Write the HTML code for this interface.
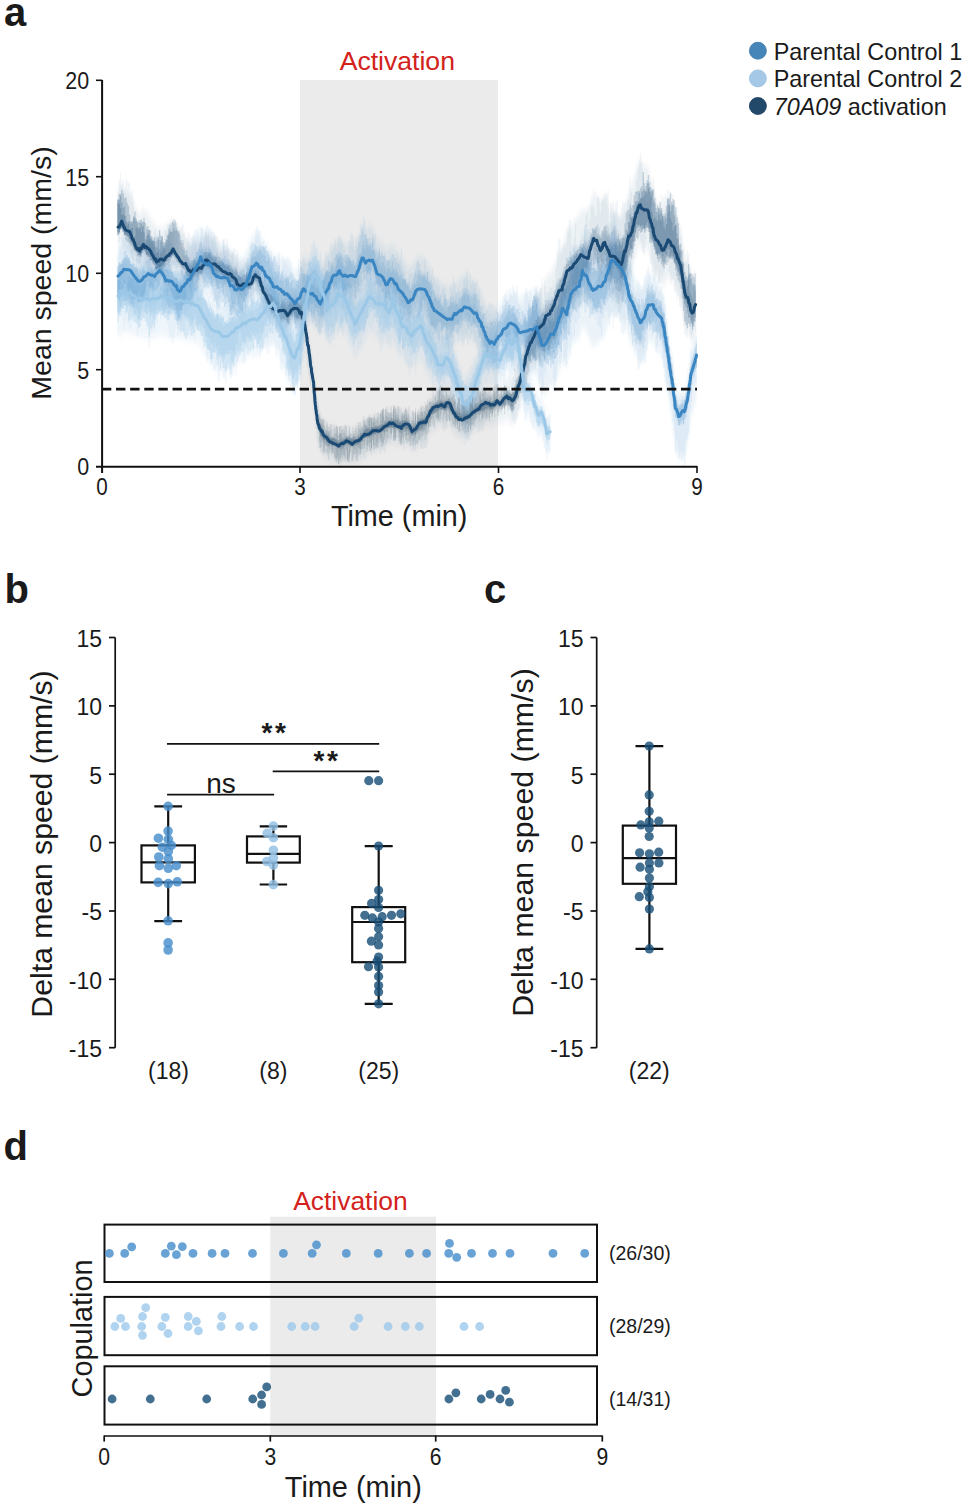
<!DOCTYPE html><html><head><meta charset="utf-8"><style>html,body{margin:0;padding:0;background:#fff;}svg{display:block;}text{font-family:"Liberation Sans", sans-serif;}</style></head><body>
<svg width="967" height="1508" viewBox="0 0 967 1508">
<defs><filter id="bl" x="-5%" y="-20%" width="110%" height="140%"><feGaussianBlur stdDeviation="0.8 3"/></filter><filter id="bl2" x="-5%" y="-20%" width="110%" height="140%"><feGaussianBlur stdDeviation="0.6 1.2"/></filter><linearGradient id="gd" gradientUnits="userSpaceOnUse" x1="118" y1="0" x2="697" y2="0"><stop offset="0%" stop-color="#1a4a74" stop-opacity="0.55"/><stop offset="7.3%" stop-color="#1a4a74" stop-opacity="0.48"/><stop offset="11.6%" stop-color="#1a4a74" stop-opacity="0.24"/><stop offset="29.7%" stop-color="#1a4a74" stop-opacity="0.24"/><stop offset="32.3%" stop-color="#1a4a74" stop-opacity="0.3"/><stop offset="66%" stop-color="#1a4a74" stop-opacity="0.3"/><stop offset="71.2%" stop-color="#1a4a74" stop-opacity="0.24"/><stop offset="85%" stop-color="#1a4a74" stop-opacity="0.28"/><stop offset="88.4%" stop-color="#1a4a74" stop-opacity="0.5"/><stop offset="98.8%" stop-color="#1a4a74" stop-opacity="0.5"/><stop offset="100%" stop-color="#1a4a74" stop-opacity="0.35"/></linearGradient><linearGradient id="g1" gradientUnits="userSpaceOnUse" x1="118" y1="0" x2="697" y2="0"><stop offset="0%" stop-color="#3a86c2" stop-opacity="0.32"/><stop offset="29.7%" stop-color="#3a86c2" stop-opacity="0.32"/><stop offset="33.2%" stop-color="#3a86c2" stop-opacity="0.3"/><stop offset="64.2%" stop-color="#3a86c2" stop-opacity="0.3"/><stop offset="67.7%" stop-color="#3a86c2" stop-opacity="0.32"/><stop offset="72.9%" stop-color="#3a86c2" stop-opacity="0.38"/><stop offset="86.7%" stop-color="#3a86c2" stop-opacity="0.32"/><stop offset="100%" stop-color="#3a86c2" stop-opacity="0.28"/></linearGradient><linearGradient id="g2" gradientUnits="userSpaceOnUse" x1="118" y1="0" x2="697" y2="0"><stop offset="0%" stop-color="#9cc8e8" stop-opacity="0.7"/><stop offset="31.4%" stop-color="#9cc8e8" stop-opacity="0.65"/><stop offset="74.6%" stop-color="#9cc8e8" stop-opacity="0.6"/></linearGradient><clipPath id="ca"><rect x="103" y="78" width="594" height="387.8"/></clipPath></defs>
<rect width="967" height="1508" fill="#fff"/>
<text x="4" y="25.5" font-size="40" font-weight="bold" fill="#1a1a1a">a</text>
<rect x="300" y="80" width="198" height="386" fill="#ebebeb"/>
<text x="397.3" y="70.2" font-size="26.6" fill="#d3221b" text-anchor="middle">Activation</text>
<g clip-path="url(#ca)">
<g filter="url(#bl)">
<path d="M118 271.2 L124.8 266.1 L137.2 270.2 L149.6 273.6 L159.6 269.7 L169.5 272 L179.4 273 L189.4 275.2 L198 277.5 L204.2 288.5 L211.7 300.8 L222.4 307 L228.6 305.6 L237.3 298 L248.5 290.2 L257.2 290 L265.8 280 L273.3 273.6 L280.3 293.1 L287.6 313.7 L293.8 329 L300 313.4 L304.1 287.6 L308.3 259.6 L313.4 245.2 L317.6 248.3 L321.7 259.6 L327.9 278.3 L332 276.2 L338.3 265.8 L344.5 267.9 L350.7 282.4 L354.8 293.8 L360 284.5 L365.1 276.2 L370 265.8 L375.6 273.1 L384.3 276.9 L389.3 281.8 L393 271.9 L399.2 289.3 L406.2 299.8 L411.2 306.3 L416.1 301.6 L421.1 296.9 L426.1 312.1 L432.3 321.1 L438.5 337.6 L442.2 336.6 L446.5 330.7 L450.9 337.2 L458.3 359.9 L464.5 379 L469.5 375.5 L474.5 360.9 L479.4 346.3 L484.4 331.8 L490 329.1 L495 331.4 L500 335.7 L503.9 327.5 L508.4 319.5 L511.9 325.1 L514.9 316.8 L517.8 324.3 L520.8 341.9 L522.8 358.2 L524.3 368.4 L527.3 373 L530.8 374.7 L534.7 387.3 L538.7 400 L541.2 397.1 L544.7 406.2 L546.7 418.6 L550.2 417.8 L550.2 451.8 L546.7 454 L544.7 442.4 L541.2 434.7 L538.7 438.6 L534.7 427.5 L530.8 416.3 L527.3 416 L524.3 412.6 L522.8 403 L520.8 387.5 L517.8 371.1 L514.9 364.8 L511.9 374.3 L508.4 370.1 L503.9 379.9 L500 389.7 L495 385.9 L490 384.1 L484.4 387.3 L479.4 402.3 L474.5 417.4 L469.5 432.5 L464.5 436.5 L458.3 418.1 L450.9 396.1 L446.5 390 L442.2 396.4 L438.5 397.8 L432.3 381.9 L426.1 373.5 L421.1 358.8 L416.1 364 L411.2 369.2 L406.2 363.2 L399.2 353.3 L393 336 L389.3 346 L384.3 341.2 L375.6 337.6 L370 330.4 L365.1 340.9 L360 349.3 L354.8 358.7 L350.7 347.4 L344.5 333 L338.3 331 L332 341.6 L327.9 343.7 L321.7 325.2 L317.6 313.9 L313.4 310.9 L308.3 325.4 L304.1 353.5 L300 379.4 L293.8 395 L287.6 379.7 L280.3 359.1 L273.3 339.6 L265.8 346 L257.2 356 L248.5 356.2 L237.3 364 L228.6 371.6 L222.4 373 L211.7 366.8 L204.2 354.5 L198 343.5 L189.4 341.2 L179.4 339 L169.5 338 L159.6 335.7 L149.6 339.6 L137.2 336.2 L124.8 332.1 L118 337.2 Z" fill="#9cc8e8" fill-opacity="0.16"/>
<path d="M118 249.3 L124.8 239.9 L129.8 243.5 L139.7 250.7 L149.6 243.7 L153.4 246.7 L159.6 240.4 L165.8 250.1 L172 253.1 L179.4 262.9 L186.9 252.2 L191.8 245.9 L200.5 227.1 L204.2 231.9 L210 235.8 L217.4 247.4 L227.4 247.8 L234.8 258.1 L243.5 257.9 L247.2 249.9 L252.2 236.1 L257.8 232.8 L264.6 242 L273.3 255.5 L280.7 257.1 L288.2 265.1 L295.6 271.1 L299.4 266 L303.7 255.5 L306.1 258.6 L311.1 261 L316.1 264.6 L320.4 272 L324.1 263.2 L332.2 245.7 L339.6 238.1 L343.4 244.2 L350.8 242.8 L355.8 244.6 L362 224.7 L365.7 228.9 L369.4 225.1 L372.5 226.9 L376.9 239.9 L383.1 243.4 L386.2 249.6 L391.8 244.5 L399.2 254.3 L404.3 260.8 L408.1 267.7 L412.4 265.4 L417.4 256.3 L424.8 257.9 L429.8 266.8 L434.7 279.4 L441 282.7 L447.2 286.7 L452.1 285.7 L457.1 281.5 L464.5 275 L469.5 278.3 L475.7 283.5 L480.7 291.1 L486.9 308.8 L494.3 314.7 L499.9 304.8 L503.9 296.8 L509.4 291 L513.9 292.4 L517.8 294.4 L520.3 298.2 L524.8 294.6 L529.8 291.9 L536.7 288.1 L539.7 297.9 L541.7 303.8 L545.7 302.8 L550.7 292.8 L553.6 295.8 L557.6 283.9 L562.6 269.9 L566.6 274.9 L570.7 254.2 L575.7 246.7 L579.4 245.5 L582.5 231.2 L586.9 238 L593.1 251.7 L598 246.7 L604.8 242.7 L610.7 225.9 L615.5 225.7 L620.3 233.9 L625.1 241.9 L629.8 263.2 L634.7 277 L640.3 290.7 L644.8 285.9 L648.2 275.2 L652.7 275.3 L656.1 284.2 L661.7 291.5 L664 302.4 L667.4 326 L670.2 346 L672.4 357.8 L675.3 384.5 L678.6 393.3 L682.6 391 L684.3 392.6 L687.7 376.1 L691.1 351.3 L695.6 336.3 L696.5 331.2 L696.5 395.3 L695.6 400.7 L691.1 417.2 L687.7 443.2 L684.3 460.4 L682.6 458.3 L678.6 459.6 L675.3 449.9 L672.4 422.5 L670.2 410 L667.4 390.3 L664 367 L661.7 356.3 L656.1 349.6 L652.7 341 L648.2 342.3 L644.8 355 L640.3 362.5 L634.7 352.2 L629.8 341.3 L625.1 322.9 L620.3 317.7 L615.5 312.4 L610.7 315.5 L604.8 335.8 L598 342.5 L593.1 347 L586.9 332.7 L582.5 325.4 L579.4 339.4 L575.7 340.3 L570.7 347.3 L566.6 367.6 L562.6 362.2 L557.6 375.7 L553.6 387.2 L550.7 383.9 L545.7 393.4 L541.7 394 L539.7 387.6 L536.7 375.5 L529.8 373.7 L524.8 372.4 L520.3 372.5 L517.8 366.6 L513.9 361.5 L509.4 356.6 L503.9 357.9 L499.9 362.8 L494.3 373 L486.9 367.6 L480.7 350.3 L475.7 343 L469.5 338.1 L464.5 335.1 L457.1 342.1 L452.1 346.6 L447.2 347.9 L441 344.3 L434.7 341.3 L429.8 329 L424.8 320.4 L417.4 319.3 L412.4 328.7 L408.1 331.2 L404.3 324.5 L399.2 318.3 L391.8 308.3 L386.2 313.3 L383.1 307.1 L376.9 303.4 L372.5 290.3 L369.4 288.5 L365.7 292.2 L362 287.9 L355.8 307.7 L350.8 305.8 L343.4 307.1 L339.6 300.9 L332.2 308.3 L324.1 325.7 L320.4 334.4 L316.1 326.9 L311.1 323.2 L306.1 320.7 L303.7 317.6 L299.4 328 L295.6 333 L288.2 326.8 L280.7 318.7 L273.3 316.9 L264.6 303.2 L257.8 293.9 L252.2 297 L247.2 310.7 L243.5 318.7 L234.8 318.7 L227.4 308.2 L217.4 307.6 L210 295.8 L204.2 291.8 L200.5 286.9 L191.8 305.5 L186.9 311.7 L179.4 322.2 L172 312.3 L165.8 309.2 L159.6 299.3 L153.4 305.5 L149.6 302.4 L139.7 309.2 L129.8 301.8 L124.8 298 L118 307.3 Z" fill="#3a86c2" fill-opacity="0.1"/>
<path d="M118 187.1 L121.7 183.3 L125.4 190.3 L129.8 194.8 L135.4 207.6 L139.7 214.5 L143.4 209 L149.6 216.2 L156.5 228 L163.3 227.9 L173.2 219.1 L179.4 228.6 L185.6 236.8 L190.6 244.7 L196.8 241.7 L203 238.7 L205.5 232.8 L211.7 238.4 L216.8 240.5 L222.4 244.8 L228.6 248.6 L234.8 254.9 L239.8 261.7 L247.2 260 L249.7 262.8 L255.3 255.3 L259.6 258.9 L264.6 274.3 L270.8 284.9 L277.6 293.8 L284.5 292.7 L287.6 298 L293.7 290.8 L298.7 293.3 L301.4 297 L303.9 304.3 L305.4 312.3 L307.4 326.4 L309.4 340.6 L311.4 354.7 L313.4 366.8 L314.4 379.8 L315.8 393 L317.3 405 L319.8 414.2 L323.8 422.2 L329.8 427.2 L333.7 427.2 L338.7 431.1 L344.9 428.5 L352.1 429.2 L359.4 426.4 L364.4 420.6 L370.9 418.4 L379.6 415.5 L384 413.3 L391.2 409 L398.5 410.4 L401.3 413.3 L404.2 411.1 L408.6 411.9 L412.2 416.2 L415.8 414.8 L421.6 409 L426 408.3 L430.3 397.4 L436.1 393.8 L440 391.1 L444.7 392.3 L449 389.8 L454.6 399.7 L462.1 404.7 L468.3 402.2 L474.5 396 L485.6 390.4 L490.6 392.3 L494 390.4 L497 387.4 L499.9 390.4 L506.9 377.4 L511.9 378.7 L514.9 370.6 L519.8 354 L522.8 340.9 L525.8 323.8 L528.8 311.6 L532.8 302.3 L536.7 295.7 L539.7 290.6 L543.7 287.6 L545.7 277.2 L549.7 273.5 L553.6 267 L558.9 250.7 L562.1 247.7 L567 229.5 L570.7 226.4 L575.7 219.3 L581.9 210.8 L588.1 209.1 L593.7 192 L596.8 194.6 L600.5 201.5 L604.8 194.1 L610.1 210.6 L614.9 210.3 L620.9 218.6 L625.1 207 L628.6 191.6 L632.2 186 L634.6 174.3 L639.4 159.1 L644.1 166.4 L647.7 165.9 L652.5 185.2 L656.1 200.1 L659.7 203.2 L663.2 210.4 L668 201 L674 208.1 L681.1 229.6 L684.7 255.2 L688.3 263.1 L692.5 277.5 L695.6 269.3 L695.6 334.7 L692.5 344.1 L688.3 331.1 L684.7 324.6 L681.1 300.2 L674 281.1 L668 276.2 L663.2 287.2 L659.7 281.2 L656.1 279.5 L652.5 265.8 L647.7 248.1 L644.1 250 L639.4 244.1 L634.6 259.7 L632.2 271.6 L628.6 277.5 L625.1 293.1 L620.9 305 L614.9 297.2 L610.1 297.8 L604.8 281.7 L600.5 289.5 L596.8 281.6 L593.7 278 L588.1 293.4 L581.9 293.1 L575.7 299.6 L570.7 305.2 L567 307.1 L562.1 323.8 L558.9 325.8 L553.6 340.4 L549.7 345.7 L545.7 348.1 L543.7 357.9 L539.7 359.7 L536.7 363.8 L532.8 369.2 L528.8 376.3 L525.8 385.3 L522.8 399.2 L519.8 409.1 L514.9 420.5 L511.9 425.4 L506.9 418.8 L499.9 424.4 L497 421.4 L494 424.4 L490.6 426.3 L485.6 424.4 L474.5 430 L468.3 436.2 L462.1 438.7 L454.6 433.7 L449 423.8 L444.7 426.3 L440 425.1 L436.1 427.8 L430.3 431.4 L426 442.3 L421.6 443 L415.8 448.8 L412.2 450.2 L408.6 445.9 L404.2 445.1 L401.3 447.3 L398.5 444.4 L391.2 443 L384 447.3 L379.6 449.5 L370.9 452.4 L364.4 454.6 L359.4 460.4 L352.1 463.2 L344.9 462.5 L338.7 465.1 L333.7 461.2 L329.8 461.2 L323.8 456.2 L319.8 448.2 L317.3 438.8 L315.8 426.6 L314.4 413.3 L313.4 400.2 L311.4 387.9 L309.4 373.6 L307.4 359.2 L305.4 344.9 L303.9 336.7 L301.4 329.2 L298.7 325.4 L293.7 323.5 L287.6 331.4 L284.5 326.4 L277.6 328.3 L270.8 320.2 L264.6 310.3 L259.6 295.4 L255.3 292.3 L249.7 300.4 L247.2 297.9 L239.8 300.4 L234.8 294.2 L228.6 288.6 L222.4 285.5 L216.8 281.8 L211.7 280.3 L205.5 275.4 L203 281.6 L196.8 285.3 L190.6 289 L185.6 281.6 L179.4 274.1 L173.2 265.5 L163.3 276.8 L156.5 278.5 L149.6 268.5 L143.4 262.7 L139.7 269.2 L135.4 263.3 L129.8 251.9 L125.4 248.5 L121.7 242.4 L118 247.1 Z" fill="#1a4a74" fill-opacity="0.07"/>
</g>
<g fill="none" stroke-width="1.35">
<path d="M118 274.3V334.8M119.3 277.8V314.1M120.6 280.4V311.6M121.9 265.1V315.9M123.2 263.4V321.2M124.5 264.8V330.4M125.8 264.3V321.5M127.1 273.5V313.3M128.4 276.1V325.2M129.7 277.8V328.2M131 279V327.3M132.3 289.6V321.3M133.6 279.1V314.6M134.9 284.8V323.5M136.2 291V314.3M137.5 280.8V336.2M138.8 275V327.4M140.1 278.6V318.9M141.4 282.2V305.8M142.7 283.3V320.7M144 290.2V317.7M145.3 291.1V312.3M146.6 282.9V329.4M147.9 284.3V325.2M149.2 272.8V347.9M150.5 271.1V333.2M151.8 270.5V332.2M153.1 266.6V312.2M154.4 270.5V332.2M155.7 279V324.6M157 268V323.2M158.3 276.2V311.4M159.6 275.2V309M160.9 278.7V319.4M162.2 267.2V315.5M163.5 271.2V317.7M164.8 270.2V312M166.1 278.9V306.9M167.4 263.7V323.9M168.7 270.9V330M170 277.4V338M171.3 277V337.4M172.6 285.8V343.6M173.9 282.4V338.2M175.2 277.7V328.6M176.5 279.7V324.8M177.8 280.5V336.6M179.1 283.1V314.8M180.4 290.8V335.1M181.7 295.4V330.1M183 295.7V331.7M184.3 292.2V332M185.6 288V313.1M186.9 282.5V313.7M188.2 287.3V318M189.5 284.6V327M190.8 286.4V329.2M192.1 290.1V332.6M193.4 290.9V337M194.7 298.8V341.2M196 299.2V331.7M197.3 296.2V319M198.6 284.8V327.8M199.9 295.1V321.2M201.2 284.4V336.2M202.5 298.7V339.8M203.8 310.1V347.2M205.1 312.3V341.3M206.4 299.1V355.8M207.7 308.1V361.5M209 296.7V346.8M210.3 301.8V349.7M211.6 310V342.7M212.9 298.8V352.5M214.2 316.6V371.6M215.5 314.8V369.1M216.8 306.8V366.3M218.1 314.6V380.9M219.4 313.4V381.2M220.7 306.6V367.3M222 312.5V358M223.3 306.1V378.4M224.6 302.7V379M225.9 302.1V383.5M227.2 297.4V368.5M228.5 321.6V368.5M229.8 308.1V377.1M231.1 302.4V378.4M232.4 302.4V377.1M233.7 312.6V373.5M235 305.6V365.6M236.3 309.8V376.1M237.6 311V358.2M238.9 294.2V354.3M240.2 287.4V350.1M241.5 288V353.7M242.8 301.4V365.1M244.1 304.3V363.2M245.4 292.7V363.2M246.7 295.3V353.5M248 309.2V340.1M249.3 310.2V342.5M250.6 311V331.1M251.9 296.5V337M253.2 301.1V351.2M254.5 299.7V348M255.8 308.6V340.2M257.1 309.1V333.6M258.4 308.7V347.3M259.7 304.4V358.3M261 303.8V353.8M262.3 294.8V350.8M263.6 292.7V344.1M264.9 287.6V343.8M266.2 282.8V349.8M267.5 288.6V354.3M268.8 299.5V353.3M270.1 289.5V347.5M271.4 287.5V346.2M272.7 291V346.3M274 299.1V345.6M275.3 302.7V349.7M276.6 299.8V357M277.9 303.4V348M279.2 307.2V349.8M280.5 290.8V369.5M281.8 288.5V371.3M283.1 299.5V363.9M284.4 304.6V368.2M285.7 306.9V376.9M287 318V371.7M288.3 316.4V380.4M289.6 310.4V381.4M290.9 312.9V373.8M292.2 318.3V388.4M293.5 328.4V389.5M294.8 328.8V383.7M296.1 318.9V373.5M297.4 315.7V388.5M298.7 312V366.6M300 306V368.6M301.3 296.8V379.1M302.6 303.7V360.9M303.9 294.4V358.5M305.2 287.1V334.1M306.5 284.3V331.5M307.8 270.1V316.2M309.1 261.4V309.7M310.4 253V308.2M311.7 244.5V303M313 242V295.3M314.3 239.6V319.2M315.6 248.3V295.5M316.9 248.1V288.9M318.2 261.6V302.8M319.5 260.2V291.9M320.8 252.4V304.9M322.1 266.3V308.7M323.4 268.1V305.7M324.7 274.8V335.2M326 274.9V338.7M327.3 275.7V340.4M328.6 278.4V343.2M329.9 272.6V333.1M331.2 273.8V345.5M332.5 281.2V333.9M333.8 283V340.3M335.1 268.9V331.6M336.4 264.3V325.1M337.7 257.8V335.7M339 257V319.9M340.3 266V323.1M341.6 260.2V332M342.9 265.1V337.3M344.2 264.1V329.1M345.5 268V326M346.8 278.6V324.2M348.1 282.5V328.7M349.4 285.6V328.2M350.7 287.1V320.1M352 283.5V335.6M353.3 280.6V342M354.6 285.7V333.4M355.9 290.2V338.6M357.2 295.9V334.8M358.5 279V348M359.8 282.2V341.6M361.1 273.7V345.9M362.4 277.8V335.7M363.7 294.2V328.7M365 294.4V317.8M366.3 290.5V324.5M367.6 269.2V319.1M368.9 266.5V326.1M370.2 273.9V327.1M371.5 275.8V329.3M372.8 279.9V323.8M374.1 279.9V323.6M375.4 288V317.2M376.7 289.5V317.4M378 292.6V335.8M379.3 296.1V343.2M380.6 286.5V350M381.9 298.6V350.5M383.2 289.3V343.2M384.5 292.8V336.9M385.8 290.7V336.9M387.1 303.6V343.2M388.4 304.9V338.6M389.7 299.6V345.8M391 294.1V349.6M392.3 296.2V339.4M393.6 293.7V347.2M394.9 295.5V341.6M396.2 287V349.5M397.5 291.2V357.1M398.8 296.4V351M400.1 303.9V355.9M401.4 302.5V336.2M402.7 306V350.2M404 301.4V354.5M405.3 305.5V362.4M406.6 307.4V364.1M407.9 318.9V366.9M409.2 312.5V376.8M410.5 306V367.2M411.8 317.1V367.3M413.1 315V352.5M414.4 310.6V358.4M415.7 301V374.4M417 307.3V357.8M418.3 306V351.5M419.6 303.1V346.3M420.9 288.4V347.1M422.2 299.1V350.4M423.5 303.7V350.4M424.8 299.6V343.2M426.1 313.3V353.2M427.4 310.3V353.1M428.7 322.2V358.3M430 322.1V367.3M431.3 327.1V372.9M432.6 332.4V388M433.9 330.1V371.8M435.2 335.4V367.8M436.5 327.6V367.2M437.8 338.1V376.1M439.1 342.8V386M440.4 328.8V396.9M441.7 333.1V379.5M443 342.5V375.1M444.3 344.1V375.8M445.6 330.8V369.8M446.9 342.5V379M448.2 342.6V368.3M449.5 347.5V375.1M450.8 349.1V383M452.1 353.1V390.1M453.4 362.2V401M454.7 370.2V409.4M456 374.1V416.9M457.3 374.1V424.6M458.6 382V428.5M459.9 383.6V427.3M461.2 371.7V436.2M462.5 380.7V422.3M463.8 388.9V434.6M465.1 385.8V445.5M466.4 372.2V428.9M467.7 377.7V441M469 369.6V417.5M470.3 365.4V428.8M471.6 364.4V435.5M472.9 366.1V420.5M474.2 357.6V423.6M475.5 359.9V422.3M476.8 355.6V408.1M478.1 353.3V404.9M479.4 350.9V397M480.7 340.9V391.7M482 331.9V380.6M483.3 338.3V369.7M484.6 330.7V369.8M485.9 334.8V382.5M487.2 332.5V369.8M488.5 336.3V363.6M489.8 333V365.4M491.1 328.7V362.4M492.4 327.9V364.4M493.7 326.1V370.2M495 331V386M496.3 331.3V394.2M497.6 348V378.7M498.9 351.5V373.1M500.2 349.3V381.3M501.5 340V376M502.8 325.1V375.3M504.1 320.2V386.4M505.4 317.9V371.6M506.7 315.7V363.1M508 315.2V363.6M509.3 318.8V379.6M510.6 327.9V381.1M511.9 324.1V377.6M513.2 315.1V365.9M514.5 319.4V371.5M515.8 316.7V366.3M517.1 324.3V367.8M518.4 340.9V374.8M519.7 348.1V375.1M521 346.7V393.4M522.3 352.9V394.1M523.6 359.3V410.9M524.9 365.1V420.1M526.2 371.8V421.3M527.5 376V412M528.8 383.4V409.8M530.1 382.9V422.1M531.4 390.8V425.2M532.7 388.1V428.8M534 395V430.1M535.3 393.8V421.3M536.6 403.9V426.2M537.9 408.7V429.5M539.2 412.4V427.1M540.5 410.7V433.2M541.8 411.2V429.4M543.1 414.4V441.1M544.4 417.6V447.7M545.7 420.2V452.3M547 417.7V460M548.3 416V450M549.6 413.8V450.5" stroke="#9cc8e8" stroke-opacity="0.12"/>
<path d="M118 255V292.5M119.3 246.4V299.4M120.6 246.2V306.9M121.9 237.2V302.2M123.2 234.8V299.8M124.5 233.6V293.8M125.8 239.1V295.3M127.1 245.2V301.9M128.4 234V298.2M129.7 235V306.7M131 235.9V311.7M132.3 249.5V308.6M133.6 257.9V303.4M134.9 263.8V305.4M136.2 259.9V309.2M137.5 248.4V308.8M138.8 241.5V297M140.1 242.4V287.6M141.4 246.6V284M142.7 247.4V293M144 251.5V295.8M145.3 241.5V291.1M146.6 245V282M147.9 236.3V300.4M149.2 235.4V307.2M150.5 235.8V312.1M151.8 236.8V305.6M153.1 237.9V287.4M154.4 237.1V313.5M155.7 235.7V305.5M157 234.5V302.7M158.3 237.6V297.3M159.6 239V300M160.9 239.9V299.3M162.2 238.2V307.3M163.5 242.7V314.5M164.8 243.2V314M166.1 263.1V308.6M167.4 252.7V308.7M168.7 243.6V314.3M170 243.4V308.8M171.3 244V311.3M172.6 245.4V309.6M173.9 260.3V303.5M175.2 252.2V315.6M176.5 255.1V315.8M177.8 269.6V329.1M179.1 281.5V330.8M180.4 273.4V319.5M181.7 265.9V320.5M183 250.2V310.1M184.3 250.2V303.8M185.6 253.9V315.3M186.9 243.3V304.9M188.2 241.6V301.7M189.5 242.2V294.5M190.8 238.3V300M192.1 236.3V301.1M193.4 233.5V287.6M194.7 230.7V277.8M196 227.9V289.7M197.3 230.5V302.7M198.6 235.2V300M199.9 243.2V293.5M201.2 228.6V296.8M202.5 228V295.4M203.8 234.8V284M205.1 229.5V289.3M206.4 225.1V285.4M207.7 225.5V276.1M209 228.6V271.1M210.3 227.2V273.3M211.6 229.3V297.5M212.9 236.9V294.8M214.2 233.8V294.6M215.5 235.4V299M216.8 249.1V303.9M218.1 260.3V300.9M219.4 256.9V284.2M220.7 250.7V283.8M222 257.1V288.2M223.3 238.5V286.3M224.6 238.6V286.3M225.9 244.8V302.8M227.2 238.7V303.3M228.5 259.4V301.3M229.8 262.5V312.2M231.1 274.1V316M232.4 253.2V309.5M233.7 272.5V304.1M235 264.3V310.1M236.3 265.4V311M237.6 249.9V312.2M238.9 268V307.7M240.2 272.1V307.3M241.5 275.7V314.3M242.8 266.6V309.9M244.1 273.8V309M245.4 275.5V311.2M246.7 265.5V309M248 258V310M249.3 263.5V297.8M250.6 255.6V302.1M251.9 252.7V302.9M253.2 251.8V299.9M254.5 242.7V282.1M255.8 229.5V290.1M257.1 225.9V298.1M258.4 229.4V303.7M259.7 231.5V305.5M261 242.3V307.3M262.3 253.9V309.1M263.6 241.3V310.8M264.9 250.1V312.7M266.2 255.1V314.7M267.5 261.1V316.8M268.8 256.8V318.8M270.1 260.8V320.9M271.4 250.9V314M272.7 259.2V319M274 255.6V316.7M275.3 264V318M276.6 268.3V326.7M277.9 259.1V314.2M279.2 252V299.6M280.5 269.8V298.4M281.8 271.7V308.1M283.1 256.6V316.5M284.4 258.7V331.7M285.7 259V333.1M287 256.4V334.5M288.3 258.5V326.2M289.6 256.7V324.7M290.9 260.9V325.4M292.2 276.6V322.7M293.5 291.2V319.5M294.8 285.5V328.2M296.1 281.3V329.1M297.4 281.2V332.3M298.7 258.7V331.9M300 268.7V328.3M301.3 262V321.4M302.6 262.9V319.8M303.9 258.8V306.4M305.2 262.8V318.5M306.5 263V300.4M307.8 269.5V316.9M309.1 261.8V309.3M310.4 261.7V304M311.7 266.7V311.8M313 270.1V304.7M314.3 267.6V316.1M315.6 271.2V319.4M316.9 267.1V312.3M318.2 270.3V321.7M319.5 281.3V325.7M320.8 270.2V318.2M322.1 269.1V319.4M323.4 274.3V318.4M324.7 258.6V316.3M326 251.5V315.2M327.3 255.4V304.3M328.6 254.7V313.3M329.9 260.7V314.7M331.2 242.5V300.7M332.5 251V307.3M333.8 246.4V304.8M335.1 239V312.3M336.4 249V300.5M337.7 242.8V304.2M339 235.6V293.2M340.3 237.9V292.1M341.6 239V283.5M342.9 242.5V309.1M344.2 249V310.8M345.5 255V315.1M346.8 255V315.5M348.1 261.8V315.3M349.4 241.3V315M350.7 233V305.1M352 233.9V310.3M353.3 235.2V309.1M354.6 250.9V309.3M355.9 237V298.2M357.2 246.2V293.2M358.5 236.6V296.6M359.8 234.7V293.2M361.1 224.8V292.5M362.4 225.9V285.2M363.7 216.6V282.5M365 220.1V276.5M366.3 234.3V279.2M367.6 248.2V286.2M368.9 250.1V287.7M370.2 252.3V295.7M371.5 249.2V298.7M372.8 234.6V299.6M374.1 237.9V284.5M375.4 234.2V294.6M376.7 247.4V297.7M378 250.6V313.1M379.3 247.5V306.2M380.6 268.9V299.5M381.9 267.4V287.1M383.2 270.6V288.6M384.5 268.4V285.9M385.8 275.8V288.5M387.1 272.7V290M388.4 262.9V295.1M389.7 268.1V287M391 272.3V288.3M392.3 262.3V285M393.6 266.1V290.7M394.9 259.8V290.9M396.2 256.9V297.3M397.5 252.4V292M398.8 260.2V293.8M400.1 259.5V300.7M401.4 246.9V312.8M402.7 265.8V307.9M404 277.3V319.1M405.3 279.9V322.2M406.6 278V323.5M407.9 279.5V328.4M409.2 274.6V333.1M410.5 273.9V324.8M411.8 273.3V316.6M413.1 277.5V319.6M414.4 282.5V321.4M415.7 284.2V298.7M417 283.7V300.1M418.3 283.1V314M419.6 283.3V314.2M420.9 283.6V311.1M422.2 279.5V310.1M423.5 270.9V316.7M424.8 258.8V316.1M426.1 271.9V319.7M427.4 271.3V321.6M428.7 271.7V335.9M430 276.6V338.3M431.3 274.7V341.6M432.6 268.1V344.8M433.9 276.9V334.6M435.2 278V325.1M436.5 284.5V325.9M437.8 276.5V339.4M439.1 285.5V343M440.4 294.8V333.3M441.7 292.1V341.1M443 286.3V341.7M444.3 287.9V324.6M445.6 298.8V326M446.9 306.9V344.1M448.2 302.6V351.1M449.5 305.8V355.9M450.8 285V342.1M452.1 289.4V348.7M453.4 275V344.9M454.7 283V328.2M456 295.2V323.5M457.3 299.8V331.7M458.6 296.5V340.9M459.9 297.9V332.1M461.2 303.1V340.9M462.5 294.6V345.6M463.8 280.3V344.4M465.1 277.4V339.7M466.4 271.7V336.8M467.7 268.2V345.6M469 287.6V328.4M470.3 272.7V339.5M471.6 283.7V334.5M472.9 279.8V333.7M474.2 281.7V341.8M475.5 281.9V342.9M476.8 278.6V348.8M478.1 294V353.4M479.4 288.5V356.9M480.7 307V346.2M482 306V355.9M483.3 305.5V342.4M484.6 312.6V345.7M485.9 309.7V342.1M487.2 307.8V350.8M488.5 304.8V375.1M489.8 302.5V368.2M491.1 303.4V365.2M492.4 304.1V367.5M493.7 305.1V363.5M495 306.4V359.3M496.3 309.4V368M497.6 315.9V368.7M498.9 318V357.1M500.2 311.3V346.9M501.5 311.2V347M502.8 311.3V347.2M504.1 297.1V364.7M505.4 293.3V358.2M506.7 301.9V359.2M508 301.2V358.6M509.3 299.2V362.6M510.6 294.1V360.5M511.9 296.3V366.9M513.2 285.3V371.3M514.5 291.4V372.5M515.8 292.9V358.7M517.1 286.1V347.6M518.4 302.8V340.5M519.7 304.3V341.3M521 307.3V340.8M522.3 304.9V348.7M523.6 314.9V356M524.9 292.4V349.5M526.2 287.3V359.6M527.5 291.5V353.7M528.8 299.7V355.8M530.1 290.3V341.8M531.4 306.5V337.9M532.7 301V337.7M534 305.4V337.4M535.3 299.6V360.3M536.6 291.2V345.7M537.9 298.4V351.2M539.2 291.3V383.7M540.5 288.2V378.2M541.8 308V396.1M543.1 321.4V391M544.4 318V373.6M545.7 310.9V376.9M547 316.5V361.7M548.3 314.5V363.9M549.6 297.1V353.9M550.9 299.1V360.8M552.2 296.8V360.4M553.5 306.1V378.2M554.8 316.4V392.6M556.1 315.4V381.2M557.4 310.4V365.5M558.7 289.1V353.8M560 284.4V363.4M561.3 292.2V358.1M562.6 277.2V338.4M563.9 274.7V361.2M565.2 283.7V356.9M566.5 283.3V364.7M567.8 281.4V349.2M569.1 280.2V336.2M570.4 256.2V354.2M571.7 267V338.1M573 267.6V320.1M574.3 255.4V335.9M575.6 266.4V322.4M576.9 266.1V323.4M578.2 268.7V319.3M579.5 277V318.3M580.8 270.1V306.6M582.1 265V308.5M583.4 247.9V300.6M584.7 229.6V312.5M586 224.6V312.1M587.3 232.5V289.8M588.6 229.8V292.7M589.9 232.6V304.3M591.2 237.2V298.5M592.5 238.4V301.4M593.8 248.4V302.1M595.1 248.5V320M596.4 243.9V299.5M597.7 257.3V325.3M599 262.5V325.9M600.3 267.8V327.8M601.6 253.8V336.2M602.9 263.1V318.9M604.2 264.9V316.7M605.5 265.5V310.6M606.8 258.4V311.8M608.1 249.5V317.6M609.4 244.8V325.5M610.7 236.2V316.8M612 221V312.2M613.3 214.6V329M614.6 214.6V318.6M615.9 218.1V317.5M617.2 241V317.8M618.5 250.6V314.6M619.8 242.3V321.9M621.1 246.4V332.8M622.4 253.9V334.1M623.7 248.1V335.3M625 250.3V330.4M626.3 236.9V304.6M627.6 249V314.2M628.9 265.5V326.1M630.2 258.6V309.3M631.5 270.3V320.1M632.8 277.2V324.3M634.1 287.5V341.9M635.4 292.8V350.8M636.7 291.4V346.7M638 280.6V370.5M639.3 282.8V368.9M640.6 286.5V364.1M641.9 289.8V363.6M643.2 285V360.6M644.5 276.9V364.7M645.8 273.5V362.6M647.1 269.5V350M648.4 266.1V319.7M649.7 273.1V322.8M651 285.2V329.8M652.3 284.8V337M653.6 294.6V332M654.9 279.2V324M656.2 286.2V352.4M657.5 280.3V346.8M658.8 291.4V334.9M660.1 287.4V341.8M661.4 285.8V346.5M662.7 292.7V359.3M664 294.7V367.8M665.3 303.8V381.7M666.6 318.6V386.5M667.9 335.9V385.2M669.2 347.9V396.1M670.5 355V400.4M671.8 363.8V405.5M673.1 382.5V422.1M674.4 389.7V433.2M675.7 395.6V452.9M677 395.6V441.1M678.3 408.5V449.5M679.6 398.5V457.7M680.9 399.5V452.3M682.2 396.2V459.6M683.5 396.2V452.4M684.8 399.6V472.6M686.1 396.8V440.1M687.4 394.2V438.5M688.7 385.8V433.4M690 366.4V411M691.3 348.7V401.7M692.6 359V378.9M693.9 353.2V378.7M695.2 341.4V382.6M696.5 336.3V382.2" stroke="#3a86c2" stroke-opacity="0.07"/>
<path d="M118 193.4V234.3M119.3 178.8V243.3M120.6 172.8V233M121.9 184.7V227M123.2 180.6V229.2M124.5 190.4V231.4M125.8 179.1V234.6M127.1 180.5V237.1M128.4 181.9V239.9M129.7 183.3V246.8M131 193V253.9M132.3 189.2V258.5M133.6 197.3V261.5M134.9 217.9V255.7M136.2 211.5V262.1M137.5 227.2V261.8M138.8 222.8V262.9M140.1 227.3V264.4M141.4 221.6V254.8M142.7 222.1V252.7M144 231.3V255.7M145.3 232.6V262.4M146.6 224.3V268.9M147.9 240.1V266.2M149.2 243.4V268.7M150.5 245.2V272.2M151.8 239.9V269M153.1 246.9V274.6M154.4 232.1V270.9M155.7 228.5V264.2M157 236.7V269.3M158.3 245.9V271.3M159.6 228.3V269.8M160.9 242.6V272.1M162.2 245.4V266.6M163.5 241.9V265.9M164.8 230.1V267.2M166.1 231.1V262.1M167.4 224.7V262.4M168.7 224V268.8M170 221.7V273.6M171.3 229.7V272.6M172.6 230.9V264.1M173.9 229.1V265M175.2 230.5V264.7M176.5 229.4V267.6M177.8 226.9V267.9M179.1 230V268.1M180.4 227.9V269.5M181.7 225.4V274.4M183 224.6V278.5M184.3 231.2V277.6M185.6 237.5V281.6M186.9 238.4V285.4M188.2 232.4V279.6M189.5 234.5V286.3M190.8 245.6V289.3M192.1 235.6V288.8M193.4 238.2V289.7M194.7 236.1V284.8M196 243.2V289.3M197.3 249.9V289.8M198.6 247.5V288.8M199.9 242.5V279M201.2 236.8V276.9M202.5 244.3V269.2M203.8 249.2V267.2M205.1 236.9V268.2M206.4 232.3V269.4M207.7 236V264.6M209 230.6V273.6M210.3 247.1V281.7M211.6 231.9V274.9M212.9 231.2V272M214.2 231.7V280.4M215.5 235.7V277.6M216.8 236.4V284.3M218.1 241.5V282M219.4 252.2V277.9M220.7 253.5V276.5M222 251.5V272.4M223.3 240.1V273.2M224.6 249.9V273.8M225.9 255.3V274.5M227.2 251.6V275.1M228.5 247.9V278.7M229.8 251V285.1M231.1 254.6V282.6M232.4 251.4V289.2M233.7 248.7V289.4M235 248.2V290.3M236.3 254.2V292.3M237.6 262.4V293.2M238.9 272V294M240.2 266.4V295.8M241.5 271.9V298.7M242.8 268.1V299.5M244.1 265.6V300.2M245.4 274.7V290.6M246.7 272.4V289.2M248 268V291.9M249.3 269.1V288.8M250.6 278.8V288.4M251.9 275.8V285.6M253.2 275.1V282.5M254.5 270.9V292.6M255.8 271V290.6M257.1 271.4V292.1M258.4 266.8V291.8M259.7 273V290.2M261 279.5V301.4M262.3 281.8V302.4M263.6 281.1V308.2M264.9 279.1V302.2M266.2 284.7V309.1M267.5 283.9V313.3M268.8 288.1V310.9M270.1 288.2V314.6M271.4 289.5V316.1M272.7 292.4V315.3M274 292.2V317M275.3 300.4V321.9M276.6 303.9V328.8M277.9 294.6V332.4M279.2 293.7V332.2M280.5 299.3V331.2M281.8 292.7V331.1M283.1 290V318.3M284.4 293.4V328.7M285.7 289.5V324.7M287 291.7V326.6M288.3 294.7V325.3M289.6 291.4V319.9M290.9 293.6V315.6M292.2 296.2V312.6M293.5 297.1V311M294.8 296.7V311.1M296.1 295.3V315.2M297.4 304.8V320.9M298.7 303.9V324M300 302.2V327.5M301.3 301.4V328.5M302.6 300.6V335.9M303.9 300.5V337.3M305.2 307.9V342M306.5 321.4V356.3M307.8 336.3V366.6M309.1 349.3V376.2M310.4 355.3V385.5M311.7 362.8V381.9M313 372.2V386.2M314.3 377.8V404.6M315.6 388.5V413.9M316.9 397.5V430.1M318.2 404.1V443.4M319.5 416.9V447.9M320.8 418.6V452.2M322.1 424.5V452.8M323.4 427V455.4M324.7 426.9V453.7M326 419.8V452.1M327.3 426.3V455.7M328.6 433.3V453.2M329.9 432V452.7M331.2 435.4V450.8M332.5 437.9V453.8M333.8 428.9V449.7M335.1 434.2V456.5M336.4 432.4V462.7M337.7 426.7V454.8M339 434V459.4M340.3 433.9V457.3M341.6 436V457.5M342.9 437V455.4M344.2 438.5V454.6M345.5 436V450.2M346.8 436.3V449.1M348.1 428.5V459.1M349.4 429.1V446.9M350.7 433.6V447.1M352 436.9V447.2M353.3 439V452.5M354.6 436.6V454.2M355.9 436.1V461.5M357.2 438.4V459.3M358.5 435.5V460.5M359.8 428.7V453.2M361.1 427.4V459.2M362.4 420.1V453.9M363.7 420.7V458.3M365 423.5V460.4M366.3 420V452.5M367.6 417.6V445.5M368.9 420.5V442.7M370.2 417V449.8M371.5 417.3V454.7M372.8 418.1V446.6M374.1 419.3V452.4M375.4 412.7V448.1M376.7 413.3V449.9M378 411.8V446.1M379.3 414V449M380.6 412.8V455M381.9 413.5V449.8M383.2 409.9V449.4M384.5 414.9V453M385.8 416.8V445.4M387.1 414.4V438.4M388.4 418.4V440.9M389.7 420.4V444.5M391 414.3V436.2M392.3 420V432.1M393.6 411.6V441.1M394.9 414.4V441.1M396.2 409.1V432.9M397.5 406V438.3M398.8 406.5V435.6M400.1 408.9V441.5M401.4 412.4V443.7M402.7 412.4V443.4M404 410.6V450.1M405.3 413.4V442.7M406.6 408.8V434.4M407.9 418.6V435.8M409.2 417.9V434.3M410.5 416.4V446.4M411.8 420.5V441.5M413.1 427V450.1M414.4 421.6V450.1M415.7 414.1V450.7M417 416.5V442.5M418.3 414.3V446.3M419.6 417.9V441.4M420.9 413.7V449M422.2 405.6V448.9M423.5 411.4V448.7M424.8 412.1V448.5M426.1 416.7V448M427.4 415.2V444.8M428.7 412.7V431.3M430 409.4V423.2M431.3 408V419.3M432.6 407.2V425.6M433.9 402.3V427.3M435.2 399V429.3M436.5 400.8V421.3M437.8 396.2V418.5M439.1 387.5V416.4M440.4 387V423.3M441.7 387.3V420M443 388.1V429.3M444.3 389.6V432.2M445.6 390.2V429.3M446.9 388.7V428.2M448.2 387.2V420.5M449.5 390.8V419.6M450.8 398.1V426.9M452.1 405.6V429M453.4 404.1V423.6M454.7 401.9V427.1M456 402V421.1M457.3 406.9V424.6M458.6 408.1V422.1M459.9 407.4V422.9M461.2 408.4V424.6M462.5 405.6V423.6M463.8 404V425.1M465.1 401.3V434.4M466.4 398.8V439.4M467.7 398.2V437.4M469 397.3V440.4M470.3 397.8V434.7M471.6 395.4V431.2M472.9 396V430.7M474.2 392.1V427M475.5 391.3V428.5M476.8 390.6V425.2M478.1 390.4V431.7M479.4 393.3V432M480.7 391.1V429.2M482 388V431.3M483.3 387.4V430.6M484.6 387.5V425.1M485.9 390.8V419.6M487.2 391.5V417.6M488.5 391.3V415.2M489.8 397.4V410.8M491.1 397.3V414.3M492.4 391.3V412.5M493.7 396.8V408.6M495 394.7V407.4M496.3 386.8V406.6M497.6 388V406M498.9 394.1V407.4M500.2 391.3V408.1M501.5 390.6V406.7M502.8 387.7V405.3M504.1 387.6V404.8M505.4 389.3V405.9M506.7 389.2V402.7M508 389.3V410.7M509.3 389.8V410M510.6 393.1V409.5M511.9 382V418.3M513.2 376.6V421.5M514.5 367.4V424.2M515.8 368.6V422.8M517.1 365.7V419.7M518.4 350.5V410M519.7 347V408.6M521 355.5V398.4M522.3 352.6V396.5M523.6 351.5V387.6M524.9 344V384.5M526.2 334.6V380.7M527.5 327.6V374.9M528.8 323.7V374.1M530.1 318V360.7M531.4 312.4V353.4M532.7 306.8V357.9M534 294.4V358.7M535.3 287V369.1M536.6 286V362M537.9 293.8V349.6M539.2 298.2V357.4M540.5 288.4V352.4M541.8 277.6V347.8M543.1 303.7V344.1M544.4 279.2V350.9M545.7 286.3V342.6M547 291.9V336.1M548.3 291.4V327.2M549.6 286.7V328.3M550.9 288.3V317.7M552.2 286.4V330.2M553.5 280.5V326.5M554.8 291.2V322.8M556.1 267.1V322.4M557.4 249.8V319M558.7 239.1V326.5M560 238.6V333.1M561.3 253V323.6M562.6 247.5V311.1M563.9 244.1V308.3M565.2 247V312.7M566.5 241.9V299.6M567.8 229.2V298.6M569.1 220.8V316.7M570.4 219.1V316.1M571.7 243.4V303.3M573 246.1V309.8M574.3 237.3V306.6M575.6 222.9V310.7M576.9 245.9V304.6M578.2 251.3V308.1M579.5 249.7V306.8M580.8 239.4V305.4M582.1 245.6V301.2M583.4 236.8V280.6M584.7 225V302.5M586 215.2V304.7M587.3 213.1V301.7M588.6 228.8V296.6M589.9 218.9V271.1M591.2 205.4V265.6M592.5 204.7V269.7M593.8 208.3V265.2M595.1 214.7V256.3M596.4 215.5V254.8M597.7 197.2V269M599 198.5V282.9M600.3 213.1V273.3M601.6 200.8V255.5M602.9 199.1V255.8M604.2 197.2V253.6M605.5 194V251.8M606.8 193.2V261.5M608.1 190.1V260.1M609.4 222.2V273.2M610.7 203.1V283.8M612 202.7V301.7M613.3 200.9V300.8M614.6 210.8V302.3M615.9 202.6V306.8M617.2 199.5V304.2M618.5 214.6V312.3M619.8 217V312.2M621.1 207.4V309.3M622.4 200.5V300.9M623.7 202.2V294.4M625 202.6V291M626.3 209.8V294.7M627.6 199.2V294M628.9 199V286.5M630.2 177.2V286.9M631.5 191.8V276.2M632.8 216.7V259M634.1 213.1V241.5M635.4 208V233.4M636.7 180.9V230.8M638 169.5V228.6M639.3 160.7V236.1M640.6 152.7V242.1M641.9 161.9V251.1M643.2 174.8V253.8M644.5 190.3V254.9M645.8 201.3V239.2M647.1 200.9V224.5M648.4 203.5V226.1M649.7 201.3V238.1M651 189.8V264M652.3 190.7V272.8M653.6 177V281.3M654.9 204.5V280.3M656.2 215.1V273.9M657.5 224V271.2M658.8 207.2V283.3M660.1 210.2V283.6M661.4 194.3V273.9M662.7 197V277.2M664 196.6V272.6M665.3 194.1V258.4M666.6 196.6V254.2M667.9 189.3V250.2M669.2 190.5V272.1M670.5 192.1V284.6M671.8 193.7V279.2M673.1 195.2V279.5M674.4 205.9V292.4M675.7 211.5V292.9M677 207.9V299.2M678.3 220.1V296.3M679.6 228.7V306.1M680.9 236.8V309.5M682.2 263.3V306.7M683.5 248V326.1M684.8 267.7V334.4M686.1 261.8V336.7M687.4 250.1V337.6M688.7 253.5V323.7M690 267V335.1M691.3 278.1V338.2M692.6 282.2V334.6M693.9 277V324.4M695.2 277.9V331.7" stroke="#1a4a74" stroke-opacity="0.05"/>
<path d="M118 281.1V310.3M119.3 282.7V312.1M120.6 284.8V311.5M121.9 282.8V307.7M123.2 285.3V308.7M124.5 280.4V305.8M125.8 281.2V314.1M127.1 283V311.9M128.4 275.7V306M129.7 274.7V299.3M131 278.1V308.9M132.3 275.6V306.5M133.6 278.6V308.9M134.9 283.4V312.9M136.2 277.1V308M137.5 284.6V311.3M138.8 285.1V320.4M140.1 285.7V319.8M141.4 286.3V315.4M142.7 284.4V310.5M144 281.4V312.4M145.3 281.1V311.6M146.6 285.1V321.2M147.9 284.3V326.5M149.2 284.6V336.9M150.5 283.8V328.8M151.8 281.6V328.4M153.1 288.9V325.7M154.4 284.9V327.4M155.7 285.5V319.8M157 283.4V313.9M158.3 279.2V312.8M159.6 282.4V310.7M160.9 285.3V309.8M162.2 287.4V309.9M163.5 286.4V314.3M164.8 289.5V311.1M166.1 290.1V313.1M167.4 289.1V305.4M168.7 283.7V304.5M170 279V302.4M171.3 283.4V304.2M172.6 284.7V304M173.9 283V302.8M175.2 280.7V303M176.5 278.3V303.2M177.8 284.3V308M179.1 278.4V310.5M180.4 280.1V311M181.7 284.4V309.9M183 289.2V306.2M184.3 289.1V317M185.6 287.7V320.5M186.9 287.5V317.3M188.2 287.5V316.8M189.5 285.4V324.1M190.8 282.9V326M192.1 281.6V323M193.4 284V322.7M194.7 288.4V318.8M196 291.9V318.3M197.3 297.8V329.6M198.6 297.3V330.4M199.9 297V331.4M201.2 297.5V335.6M202.5 297.7V326.9M203.8 297.4V331.3M205.1 298.7V336.7M206.4 301.2V345.7M207.7 305.5V349.2M209 309.2V350.1M210.3 304.5V359.3M211.6 307.5V363.1M212.9 310.5V352.6M214.2 310.8V351.5M215.5 316.4V341.7M216.8 313.2V346.9M218.1 313.4V345.3M219.4 315.3V353.8M220.7 318.7V355.6M222 322.9V357M223.3 325.9V354.5M224.6 325.8V358.3M225.9 323.3V354.5M227.2 323V354M228.5 322.3V349.8M229.8 318.4V350.7M231.1 317V361.2M232.4 317.6V361.2M233.7 321V366.4M235 321.7V357.3M236.3 319.8V350.2M237.6 321.3V351.9M238.9 316.6V350M240.2 315.9V351M241.5 315.9V345.6M242.8 310.9V340.3M244.1 312.3V342.3M245.4 311.5V336.9M246.7 310.2V335.7M248 310.8V336.9M249.3 307.2V341.6M250.6 310.8V341.5M251.9 309.3V331.8M253.2 311.2V333.4M254.5 315.5V336.1M255.8 309.2V331M257.1 303.7V348.2M258.4 303.4V343.6M259.7 303.3V328.1M261 305.4V332M262.3 303.7V333.7M263.6 301.3V331.8M264.9 297.2V325.4M266.2 294.2V326.2M267.5 297V318.4M268.8 296.8V330.9M270.1 289.7V333.9M271.4 289.9V332.1M272.7 289.3V334.1M274 289V325.1M275.3 290.2V332.5M276.6 296.4V332M277.9 298.4V333.1M279.2 301.6V337.3M280.5 307.7V336.3M281.8 304.2V337.9M283.1 308.6V342.6M284.4 313.7V341.1M285.7 321.4V341.7M287 321.5V345M288.3 328.9V355.4M289.6 331.2V365.9M290.9 333V369.6M292.2 339.9V379.5M293.5 343.7V377.9M294.8 342.5V375.2M296.1 334.1V382.2M297.4 332.4V381M298.7 332.3V374.3M300 331.3V369.7M301.3 320.5V360.8M302.6 313.5V351M303.9 307.5V343.9M305.2 299.5V335.1M306.5 286.8V322.6M307.8 273.2V303.9M309.1 270.7V303.8M310.4 268.4V296.4M311.7 266.6V300.4M313 256.8V290.6M314.3 259.5V288.2M315.6 256.1V289.4M316.9 257V292.3M318.2 260.4V293.8M319.5 261.7V298.5M320.8 270.2V302.3M322.1 278.7V307M323.4 283.6V307.5M324.7 293.4V321.6M326 295.8V331.7M327.3 300.9V335M328.6 294.6V337.6M329.9 295.8V326.3M331.2 299.1V327.3M332.5 294.1V328.4M333.8 291.1V326.4M335.1 286.3V322.4M336.4 283V321.7M337.7 284V322.2M339 277.4V329.8M340.3 276.9V326.9M341.6 282.4V328.2M342.9 280.2V322.7M344.2 278.8V319.9M345.5 285.9V321.6M346.8 290V321.6M348.1 294.6V322.8M349.4 301.5V334.8M350.7 298.6V331.9M352 300.4V335.7M353.3 304.6V345.9M354.6 306.1V343.5M355.9 306.4V334.5M357.2 303.2V333.9M358.5 300.7V331.4M359.8 298.8V330.9M361.1 291.1V329.9M362.4 291.4V329.9M363.7 287.7V332.1M365 283.4V327.9M366.3 279.5V321.7M367.6 283V316.2M368.9 279.3V307.7M370.2 273.2V306.8M371.5 275V308.4M372.8 282.5V310.3M374.1 283.3V309.4M375.4 285V309.2M376.7 291.7V308.3M378 290.6V306.9M379.3 289.2V309.7M380.6 292.5V312.6M381.9 287.4V318.3M383.2 286.6V318.7M384.5 293.1V324.2M385.8 290.5V327.6M387.1 291V330.7M388.4 292.8V330.1M389.7 290.6V330.4M391 294.4V326.8M392.3 291.7V317.3M393.6 286.2V326.9M394.9 294.1V332.1M396.2 298.4V334.9M397.5 303.6V337.6M398.8 302.8V341.1M400.1 306.6V341M401.4 311.2V341.1M402.7 316.5V346.9M404 323.3V348.1M405.3 325.7V346.2M406.6 327.1V345.2M407.9 323.5V351M409.2 327.8V347.5M410.5 323.5V355.3M411.8 321.4V346.9M413.1 317.2V342.5M414.4 315.3V338.6M415.7 314.4V337M417 313.3V333.9M418.3 312.6V331M419.6 311.6V331.1M420.9 304.6V334.5M422.2 315.4V339.7M423.5 315.5V342.8M424.8 322.1V346.7M426.1 322.1V355.3M427.4 321.4V353.4M428.7 325.8V352.7M430 329.3V357.5M431.3 335.2V362.1M432.6 331.7V360.7M433.9 337.3V365.8M435.2 340.8V364.3M436.5 342V369.9M437.8 346.8V373.6M439.1 343.2V372M440.4 344.9V371.9M441.7 343.7V374.4M443 341.6V374.6M444.3 335.3V373.9M445.6 334.9V371.3M446.9 335.2V369.6M448.2 338.2V376.9M449.5 340.8V377.7M450.8 342V379.4M452.1 344.2V383.6M453.4 349.3V385.6M454.7 353.5V391.5M456 358.1V394.6M457.3 361.5V397.7M458.6 369.6V402M459.9 368.7V402.7M461.2 375.9V405.7M462.5 380.1V410.2M463.8 386.8V413.8M465.1 384.4V411.6M466.4 384.4V409.4M467.7 384.8V415.2M469 385.7V417.5M470.3 382.6V414.7M471.6 378.7V410.5M472.9 373.4V407.6M474.2 374.8V401.6M475.5 369.4V399.9M476.8 366.7V394.3M478.1 365.3V391M479.4 360.3V386.2M480.7 358.6V383.7M482 354.7V376.6M483.3 349.8V375.1M484.6 352.3V372.6M485.9 349.7V369M487.2 351.5V366.7M488.5 348.6V363.2M489.8 350.3V366.2M491.1 350.8V367.5M492.4 353V369.7M493.7 351.8V372.1M495 352.7V369.3M496.3 352.2V370.2M497.6 353V367.4M498.9 351V369M500.2 350.5V366M501.5 348.5V363.7M502.8 345.7V358.7M504.1 344V353M505.4 340.2V356.8M506.7 338.4V362.3M508 331.8V362.4M509.3 330.9V361.7M510.6 336.1V361.5M511.9 338.5V363M513.2 334.4V360.3M514.5 330.2V349.6M515.8 331.5V350.3M517.1 333.9V351.5M518.4 340.3V359.8M519.7 347.3V372.7M521 353.9V381.4M522.3 365V393M523.6 376.8V398.8M524.9 383.7V402.5M526.2 386V401.6M527.5 386.1V398.7M528.8 386.4V401.7M530.1 387.1V401.1M531.4 389.2V401.2M532.7 393.5V405M534 397.7V407.8M535.3 402.8V412.8M536.6 408.4V417.5M537.9 412.2V424.3M539.2 411.6V426.2M540.5 409.4V423.3M541.8 409.7V423.2M543.1 415.5V426.8M544.4 416.1V429.7M545.7 420V437.5M547 427.1V440.1M548.3 426.8V439.5M549.6 424.7V439.5" stroke="url(#g2)" stroke-opacity="0.42"/>
<path d="M118 280.1V322.3M119.3 279.7V316.9M120.6 282.6V315.8M121.9 284.5V308.5M123.2 282.3V309.1M124.5 279.3V305M125.8 279.4V306.2M127.1 284.2V310.1M128.4 282.9V321.2M129.7 282.2V319.4M131 278.7V319.5M132.3 277V317.3M133.6 277.7V321.5M134.9 277V321.2M136.2 281.7V322.4M137.5 282.2V324.6M138.8 282.2V328.1M140.1 283V327.1M141.4 281.7V320.8M142.7 283.8V318.4M144 278.6V318.3M145.3 278.4V321.4M146.6 281.1V314.5M147.9 279.7V314.1M149.2 279.3V309.9M150.5 281.9V317.2M151.8 278.2V311.5M153.1 283.2V312.4M154.4 281.1V313.9M155.7 280.5V310M157 279.2V316.1M158.3 281V309.6M159.6 283.3V314M160.9 288.7V314.4M162.2 290.9V314.7M163.5 290.6V315.6M164.8 285.2V318.3M166.1 281.5V317.9M167.4 283.9V320.1M168.7 292.9V320M170 291.2V314.6M171.3 288.9V313.2M172.6 295.7V313.7M173.9 296.9V312.8M175.2 295.4V320M176.5 293.4V320.1M177.8 291.1V312.1M179.1 286.8V309.1M180.4 285.8V306.7M181.7 289.3V308.1M183 283.7V314.2M184.3 286.6V314.8M185.6 290.7V316.4M186.9 292.2V321.3M188.2 295.9V320.4M189.5 297.4V318M190.8 294.1V320.1M192.1 291.9V326.7M193.4 288.6V320.3M194.7 287.8V313.5M196 289V325.1M197.3 290.4V323.9M198.6 291.5V325.7M199.9 294.1V324.8M201.2 293.4V332.2M202.5 297.2V335.9M203.8 298.1V342.6M205.1 300V346.8M206.4 303.8V342.4M207.7 308V348.9M209 307.4V350.5M210.3 311.9V353M211.6 309.3V360.2M212.9 313.4V358.7M214.2 319V352.6M215.5 318.8V353.1M216.8 316.4V359.4M218.1 315V364.7M219.4 318.2V358.1M220.7 317.8V370.2M222 318V362.6M223.3 318V367.7M224.6 321.5V368.6M225.9 323V371.3M227.2 319.8V369.1M228.5 313.5V364.1M229.8 315.9V369.4M231.1 318.1V374.6M232.4 317.1V364.6M233.7 315.9V361.3M235 314.1V357M236.3 309.7V343.9M237.6 311.1V342.4M238.9 304.8V333.5M240.2 306.3V329.9M241.5 308.3V334.9M242.8 306.4V342.2M244.1 307.9V342.6M245.4 303.3V345.6M246.7 304.2V348.8M248 306.6V354.2M249.3 305.5V350.4M250.6 304.5V351.8M251.9 299V348.6M253.2 301.3V349.2M254.5 304.7V339.7M255.8 302.1V337.9M257.1 299V333.6M258.4 307.9V334.5M259.7 305V340.5M261 301.2V339.5M262.3 297.6V335.3M263.6 296V327.4M264.9 293.1V323.2M266.2 293.7V326.2M267.5 289.7V321.2M268.8 282.9V318.8M270.1 280.9V323.3M271.4 281.1V323.3M272.7 275.9V326.2M274 278.5V319.2M275.3 286.9V328.9M276.6 291.3V328.3M277.9 298.3V331.3M279.2 300.2V337.4M280.5 301.5V337.9M281.8 303.3V340.3M283.1 309.7V352.6M284.4 314.3V355.1M285.7 319.7V356.8M287 318.9V366.5M288.3 321.5V369.6M289.6 323V371.4M290.9 326.8V375.6M292.2 331.7V384.8M293.5 330.7V391.5M294.8 337.7V394.6M296.1 332.8V385.6M297.4 330.7V384.4M298.7 324.3V381.6M300 321.9V375.3M301.3 312.3V364.1M302.6 308.7V351.3M303.9 301.6V343.4M305.2 285.9V327.9M306.5 277.6V319.1M307.8 269.7V316.3M309.1 261.7V309.2M310.4 262V299.2M311.7 259.9V301.3M313 258.2V300M314.3 256.1V300.2M315.6 254.5V299.5M316.9 259.7V294.8M318.2 259.5V295.8M319.5 265.2V303.4M320.8 272.1V314M322.1 273.7V313.8M323.4 280.2V321.2M324.7 287.9V320.9M326 291.1V324.9M327.3 294.3V329.6M328.6 296.5V329.6M329.9 291.1V330.9M331.2 292.2V336.1M332.5 297.4V333M333.8 291.8V332.9M335.1 288.7V326.9M336.4 284.2V322.4M337.7 280.6V307.7M339 279V305.2M340.3 277V310.5M341.6 276.2V310.1M342.9 276.5V310.2M344.2 277.6V311.1M345.5 284V322.4M346.8 285.2V316.4M348.1 286.2V314.8M349.4 291.1V317.5M350.7 296.7V323.4M352 301.7V322.7M353.3 305.3V330M354.6 303.5V333.5M355.9 306.9V332.1M357.2 302.7V327.8M358.5 303.2V329.6M359.8 300.9V329.2M361.1 300.7V324.5M362.4 299.2V322.9M363.7 297.6V323.6M365 293.2V324.1M366.3 288.9V317.9M367.6 289.8V319M368.9 286.4V316.6M370.2 287.5V313.5M371.5 290.1V311.9M372.8 292.5V308.4M374.1 292.6V316.4M375.4 295.4V318.9M376.7 298.2V322.5M378 291.5V318M379.3 292.5V324.8M380.6 291.7V325.3M381.9 298.4V324.7M383.2 295V330.5M384.5 293.3V327.6M385.8 296.7V321.2M387.1 300.9V327.7M388.4 301.5V323.7M389.7 296.6V318M391 289.5V315.3M392.3 285.9V316.2M393.6 285.9V321.8M394.9 290.4V324M396.2 296.7V322.2M397.5 302.6V330.7M398.8 303.5V339.8M400.1 298.2V344M401.4 300.5V339.6M402.7 304.9V349.6M404 306.5V349.2M405.3 308.8V342.7M406.6 314.3V340.1M407.9 322.6V345.8M409.2 320.6V347.2M410.5 321.2V345.6M411.8 320.2V349.7M413.1 314.9V354.4M414.4 313.4V351.7M415.7 315.6V347.5M417 313.1V348.1M418.3 312.5V352.3M419.6 310V349.5M420.9 310.2V347.1M422.2 316.5V345.6M423.5 319.4V347.2M424.8 324.2V355.6M426.1 328.6V363.4M427.4 330.3V369M428.7 330.7V362.5M430 329.3V363M431.3 337.4V364.9M432.6 338.8V362.3M433.9 343.6V368.1M435.2 342.6V375.5M436.5 342.9V381.9M437.8 354.1V381.5M439.1 354.6V373.4M440.4 351.8V377.3M441.7 353.6V376.1M443 354.5V375.3M444.3 352V373.9M445.6 352.3V373.7M446.9 351.4V376.1M448.2 351.4V372.5M449.5 356.5V375M450.8 358.3V378.7M452.1 358.7V382.4M453.4 366.5V382.4M454.7 367.5V383.7M456 367.7V388.5M457.3 370.3V390.7M458.6 374.7V389.6M459.9 379.4V395.3M461.2 385.7V398.6M462.5 389.3V404.9M463.8 394.9V412.5M465.1 400.1V418.5M466.4 401.3V414.9M467.7 395V411.4M469 397.5V411.6M470.3 395.6V406.2M471.6 391.9V401.3M472.9 388.8V395.8M474.2 379V391.7M475.5 372V385.5M476.8 366.7V381.5M478.1 364.2V380.5M479.4 361.5V373.6M480.7 358.8V370.5M482 353.1V365.9M483.3 349.9V364.4M484.6 350.5V362.4M485.9 350.8V364.4M487.2 349.2V364.1M488.5 352.8V363.8M489.8 351.7V361.1M491.1 351.5V359M492.4 350V362.9M493.7 347.9V362.8M495 343.8V366.7M496.3 347.4V367.6M497.6 352V368.6M498.9 350.5V373.4M500.2 351.5V368.4M501.5 348.4V369.7M502.8 344.6V369.8M504.1 339.5V370.1M505.4 335.8V364.2M506.7 332.6V367.4M508 331.8V357.8M509.3 327.8V358.6M510.6 332.1V358M511.9 337.9V361.4M513.2 333.6V355.2M514.5 330.6V350.1M515.8 329.1V350.6M517.1 329.5V351.7M518.4 336.7V356.1M519.7 345.7V363.9M521 351.6V375.2M522.3 364.7V388.4M523.6 373.9V400.5M524.9 379.8V402.4M526.2 380.1V404.7M527.5 382.9V405.2M528.8 383.2V405.5M530.1 387V402.3M531.4 388.4V404.8M532.7 393V404.6M534 394.3V408.5M535.3 400.2V416.3M536.6 402V422M537.9 404.9V426.3M539.2 408.6V427.2M540.5 406.5V425.9M541.8 406.5V423.6M543.1 410.9V425.8M544.4 414.5V427.2M545.7 423.8V431.9M547 428.8V438.4M548.3 427.3V435M549.6 427.3V437" stroke="url(#g2)" stroke-opacity="0.42"/>
<path d="M118 277V313.4M119.3 276.3V313.7M120.6 274.2V307.1M121.9 276V304.5M123.2 279.2V301.8M124.5 280V301.8M125.8 282.6V305.7M127.1 284V296M128.4 280.1V296.5M129.7 282.8V301.2M131 282.1V304.3M132.3 284.9V307.5M133.6 289.2V315.5M134.9 292V314.9M136.2 290.5V316.4M137.5 290.1V318.8M138.8 295V317.7M140.1 295.4V315.5M141.4 291.4V311.4M142.7 291V303.6M144 289.8V301.7M145.3 294.3V313.1M146.6 291.3V314M147.9 290.5V308.6M149.2 293.6V312.4M150.5 297.9V314.4M151.8 297.4V314.9M153.1 296.9V322.5M154.4 295.3V318.5M155.7 295.9V313.9M157 295.5V309.3M158.3 292.8V314.3M159.6 291V311.8M160.9 287.9V311.2M162.2 285.2V310.7M163.5 280.8V310.5M164.8 285.4V312.2M166.1 287.9V308.9M167.4 288.4V313.9M168.7 294.9V314.5M170 294.1V314.4M171.3 290.6V309.1M172.6 288.3V309.8M173.9 288V310.4M175.2 289.2V309.5M176.5 287.9V320.9M177.8 285V324.4M179.1 284.2V321.1M180.4 283.5V330.4M181.7 288.7V332.2M183 286.1V331.3M184.3 284.7V335.7M185.6 279.4V339M186.9 276.9V337.2M188.2 277.4V335.1M189.5 279.4V330.7M190.8 280V336.1M192.1 283V334.9M193.4 283.1V333.1M194.7 282.4V332.8M196 288.1V326.6M197.3 287.1V329.5M198.6 286.2V331.1M199.9 289.4V325.2M201.2 288.9V323.9M202.5 289.9V322.3M203.8 296.3V327.6M205.1 301.1V328.2M206.4 301.3V335.4M207.7 303.4V336.9M209 309.2V338M210.3 313.3V341.3M211.6 313.2V343.8M212.9 316.9V342.8M214.2 313.7V345.7M215.5 314.4V348.7M216.8 314V350.7M218.1 312.1V355.5M219.4 322.9V355.1M220.7 314.1V349.8M222 315.8V356.4M223.3 316.9V362.3M224.6 321.4V355M225.9 321.6V351.4M227.2 324.5V354.3M228.5 322.6V354.2M229.8 322.3V354.3M231.1 320.9V349.7M232.4 317.6V350.7M233.7 316.1V352.8M235 318.3V350.4M236.3 318V354.9M237.6 314.5V361.8M238.9 308.3V356.2M240.2 311.4V355.4M241.5 311.3V351.6M242.8 313.4V351.9M244.1 311V351M245.4 308.5V344.3M246.7 314.3V341.6M248 313.8V338.1M249.3 308.7V337.6M250.6 303.2V338.6M251.9 301.3V340.9M253.2 299.4V335M254.5 297V336.2M255.8 301.6V339.5M257.1 301.1V345M258.4 298.1V343.9M259.7 302.8V348.5M261 296.3V347.8M262.3 294.1V348.9M263.6 296.3V347.2M264.9 294.9V338.2M266.2 292.5V336.7M267.5 286.3V338M268.8 291.7V326.3M270.1 290.9V324.3M271.4 292.9V317.1M272.7 291.8V312.4M274 294.9V319.7M275.3 296.9V321M276.6 303.6V325.3M277.9 300.3V328M279.2 298.5V329.8M280.5 304.1V338.2M281.8 311.1V343M283.1 319.4V350.2M284.4 318.6V351M285.7 321.8V353.5M287 332.8V369.6M288.3 333V374.8M289.6 334.4V376.6M290.9 329.5V370.3M292.2 335.2V371.9M293.5 340V378.5M294.8 341.3V370.8M296.1 341.8V370.4M297.4 334.6V370.9M298.7 326V365.1M300 320.5V364.8M301.3 314.4V352.9M302.6 304.5V342.1M303.9 298.8V330.6M305.2 285.4V323.2M306.5 280.4V314.7M307.8 273.7V307.5M309.1 274.7V297.9M310.4 268.9V300.4M311.7 268.5V297.6M313 266.1V284.7M314.3 265.7V281.8M315.6 262.9V284.4M316.9 263.8V281.5M318.2 265.4V282.9M319.5 268.2V291.9M320.8 275.9V301M322.1 274.3V304.8M323.4 274.9V309.9M324.7 281.5V306.3M326 289.5V306.3M327.3 285.4V314.2M328.6 288.7V312.3M329.9 283.4V310.2M331.2 279.8V316.6M332.5 280.8V314.3M333.8 280.9V308.7M335.1 278.2V315.9M336.4 274.9V318.7M337.7 277V317.5M339 280.6V314.4M340.3 278.9V324.9M341.6 279.8V323.4M342.9 286.8V322.9M344.2 289.4V316.2M345.5 295.4V319.1M346.8 297.8V324.7M348.1 299.9V327M349.4 296.7V332.7M350.7 297V340.6M352 300.2V338.2M353.3 306.7V334.7M354.6 309V337.3M355.9 306V339.9M357.2 306.6V338.3M358.5 300.1V336.1M359.8 295.5V332.8M361.1 297.4V329.7M362.4 301.4V330.5M363.7 300V333.2M365 300.6V330.2M366.3 295.2V325.4M367.6 290.2V318.9M368.9 290.1V310.5M370.2 288.6V306.3M371.5 288.3V308M372.8 291.2V308.3M374.1 297.6V310.3M375.4 296V308.4M376.7 296.2V314.2M378 297.6V316.9M379.3 298.1V328M380.6 293V332M381.9 295.4V333.2M383.2 295.8V333.1M384.5 297.7V332.5M385.8 300.5V333.3M387.1 295.3V327.7M388.4 300.7V330.8M389.7 297.5V328.6M391 292.2V326.6M392.3 287.4V328M393.6 289.8V328.9M394.9 292.9V328.3M396.2 295.3V326.1M397.5 303.9V334.3M398.8 310.3V343.9M400.1 308.5V342.5M401.4 312.8V334.8M402.7 314.2V331.3M404 310.9V328.9M405.3 313V330.8M406.6 316.3V334.3M407.9 319.3V335.3M409.2 322.2V340.8M410.5 320.8V343.3M411.8 327.3V346.3M413.1 322.1V354.5M414.4 320V352.8M415.7 320.2V353.4M417 313.4V347.1M418.3 312.6V341.7M419.6 313.9V340.2M420.9 311.3V336.4M422.2 315.6V345.5M423.5 318.2V351.7M424.8 321.3V354.2M426.1 324.6V359.5M427.4 327.1V364.3M428.7 329.5V368M430 331.7V370.7M431.3 335.8V368.6M432.6 341.2V373.9M433.9 342.4V376.2M435.2 343.8V375.1M436.5 347V376M437.8 355.8V378.3M439.1 359V384.9M440.4 359.4V381.3M441.7 354.9V380.5M443 356.7V379.6M444.3 355.8V383.1M445.6 355.5V377.2M446.9 356.5V373.5M448.2 354.4V374.8M449.5 357.7V377.6M450.8 358.8V379.1M452.1 354.4V389.3M453.4 354.3V397.2M454.7 361.8V392.4M456 364.1V397.1M457.3 368.6V399.9M458.6 371.2V405.1M459.9 375.3V409.8M461.2 380.7V411.6M462.5 381.4V414.2M463.8 381.2V419.9M465.1 384.8V424.5M466.4 386.8V421.6M467.7 387.8V419.7M469 385.7V424.5M470.3 382.5V416.5M471.6 381.8V406.2M472.9 376.4V405.5M474.2 372.3V402.5M475.5 367.7V399.5M476.8 363V395.6M478.1 362.6V393.9M479.4 355.5V383.9M480.7 353.3V376.8M482 348.8V372.8M483.3 342.2V373.1M484.6 341.4V368.2M485.9 343V369.4M487.2 345.1V369.9M488.5 347.8V371.8M489.8 345.1V366.8M491.1 347V367.4M492.4 346.1V359.5M493.7 345.7V365.9M495 347.1V362.9M496.3 344.9V365.6M497.6 345.8V369.1M498.9 350.1V368.4M500.2 352.9V366.1M501.5 349.9V361.2M502.8 342.4V361M504.1 337.7V354.4M505.4 336.2V353M506.7 333.6V352.9M508 333.2V348.7M509.3 331.5V356.3M510.6 329V357M511.9 333.9V359.2M513.2 329.6V359.8M514.5 327.1V352.9M515.8 326.3V351.4M517.1 332.1V355.8M518.4 337.9V357.8M519.7 346.1V364.4M521 354.5V370.7M522.3 363.7V380.8M523.6 374.5V393.3M524.9 381.8V400.5M526.2 382V401M527.5 383.2V398.8M528.8 383.2V397.3M530.1 385.4V399.1M531.4 388.7V402M532.7 391.6V408.6M534 394.8V414.5M535.3 400.1V416.9M536.6 402.7V422.8M537.9 406V424.7M539.2 409.7V423.9M540.5 406.2V420.2M541.8 407.3V422.2M543.1 410V424M544.4 410.7V427.7M545.7 417.9V436M547 425.1V442.8M548.3 425.3V440.2M549.6 426.5V440.1" stroke="url(#g2)" stroke-opacity="0.42"/>
<path d="M118 266.4V297.7M119.3 264.4V289.4M120.6 263.2V284.3M121.9 260.8V279.4M123.2 257.2V281.5M124.5 251.3V283.5M125.8 251.3V283.2M127.1 255.1V290.7M128.4 256.7V293.2M129.7 257.7V296.3M131 263.4V288.9M132.3 262.9V299.2M133.6 268.5V295.7M134.9 268.1V293.9M136.2 269.3V293M137.5 267.5V294.3M138.8 268V290.5M140.1 267V298.7M141.4 265.1V295.8M142.7 267.7V296.5M144 265.7V294M145.3 270.4V289.7M146.6 271.2V285.6M147.9 268.5V281.4M149.2 267.3V287.3M150.5 268.8V287.6M151.8 267.4V286.4M153.1 271.6V289.1M154.4 267.6V281.6M155.7 266.6V280M157 261.6V274.6M158.3 261.1V273.3M159.6 262.3V272M160.9 264.8V275.4M162.2 268.1V276.2M163.5 267.2V284.3M164.8 269.1V286.2M166.1 267.4V291.3M167.4 267.9V296.1M168.7 271.3V293.2M170 271.7V289.9M171.3 272.3V292.7M172.6 272V296.8M173.9 277.5V298.2M175.2 278V304.4M176.5 277V304.5M177.8 279.6V301.3M179.1 282.7V300.6M180.4 284.9V299.6M181.7 279.7V305.2M183 277V302.7M184.3 274.4V303.9M185.6 271.4V302.9M186.9 270.6V299.2M188.2 263.5V301.2M189.5 265.4V301.4M190.8 266.3V299.2M192.1 265.8V296.9M193.4 264.2V291.8M194.7 259.7V290.5M196 261.5V291.5M197.3 262V281M198.6 259.2V279.9M199.9 255.4V274.4M201.2 250.8V274.1M202.5 251.8V278.9M203.8 254.8V288.5M205.1 251.5V287.3M206.4 252.2V287.1M207.7 250.9V288.2M209 254.3V283.5M210.3 252.2V278.8M211.6 257V286.2M212.9 263V290.1M214.2 261.1V300.9M215.5 259.2V301.4M216.8 264.7V306.8M218.1 262V311.2M219.4 258.1V308M220.7 260.5V301.1M222 260.1V303M223.3 263V302.2M224.6 260.5V306.7M225.9 263.6V303.5M227.2 266.8V298.1M228.5 265.5V302.6M229.8 268.7V302.3M231.1 272.3V310.2M232.4 275.5V308.7M233.7 279.1V311.6M235 281.1V304.6M236.3 279.1V305.3M237.6 278.8V305.5M238.9 277.2V306.8M240.2 273.1V309.1M241.5 270.2V310.9M242.8 269.4V309.3M244.1 268.9V302.3M245.4 263.2V307.5M246.7 262.1V299.8M248 258.7V295.1M249.3 253.1V285.5M250.6 245.8V288.3M251.9 242.8V276.8M253.2 244.5V282.6M254.5 244.6V278.6M255.8 244.6V278.6M257.1 249V278.2M258.4 246.3V282.5M259.7 245.2V285.2M261 250.4V286.3M262.3 245.8V289.8M263.6 246.7V287.1M264.9 246.4V289.8M266.2 245.2V290.4M267.5 250.6V291.7M268.8 257.1V292.9M270.1 260V295.4M271.4 262V305M272.7 263.1V307.9M274 268.1V314.5M275.3 271.7V304.8M276.6 271.4V306.1M277.9 275V310.8M279.2 280.7V304.1M280.5 279.7V303M281.8 280.4V306.6M283.1 281V312.8M284.4 286.9V315M285.7 278.3V315.7M287 276.4V320.7M288.3 277.7V319.2M289.6 288.8V316.5M290.9 284.1V317.1M292.2 288V319.1M293.5 287.3V321.5M294.8 288.1V323.9M296.1 289.7V329.6M297.4 284.3V324.7M298.7 279.5V321.6M300 276.1V316.1M301.3 274.5V310.8M302.6 273.1V308.9M303.9 273.5V303.6M305.2 274V301.2M306.5 275.7V303.6M307.8 275.5V304M309.1 287.1V305.3M310.4 284.5V303.3M311.7 281V303.9M313 285.4V303.7M314.3 285.4V303.2M315.6 287.7V307.4M316.9 282.6V307.4M318.2 288.1V315.8M319.5 291.6V316.3M320.8 292.8V317.3M322.1 288.2V315.8M323.4 279.8V315M324.7 273.7V306M326 270.1V311.9M327.3 271.1V312.5M328.6 272V305.9M329.9 271.6V295.6M331.2 269.3V289.6M332.5 261.9V284.1M333.8 267.7V291.2M335.1 265.8V290.6M336.4 254.7V287.5M337.7 259.9V285.3M339 258.5V283.1M340.3 256.9V279.8M341.6 254.8V282.6M342.9 258.6V291.8M344.2 266.5V290.2M345.5 259.9V291.7M346.8 257.9V290.4M348.1 254.7V292.5M349.4 258.4V288.2M350.7 261.7V288M352 264.4V279.3M353.3 267.6V282.1M354.6 264.5V284.2M355.9 270.3V283.5M357.2 262.9V275.8M358.5 259.2V271.5M359.8 253.7V269.3M361.1 252V269M362.4 248.8V265.3M363.7 247.8V271.9M365 251.4V271M366.3 247.6V269.6M367.6 244.6V274.4M368.9 243.9V273.8M370.2 245.1V274.8M371.5 250.3V269.8M372.8 251.5V263.9M374.1 250.1V275.3M375.4 253.6V277.7M376.7 259.5V283.2M378 261.9V289.2M379.3 264.6V292.1M380.6 265.6V287.6M381.9 261.9V291.9M383.2 262.5V291.9M384.5 265V294M385.8 270.5V298.2M387.1 268.5V298.3M388.4 268.4V294.7M389.7 268.8V293.7M391 272.8V287.6M392.3 270.9V285.7M393.6 268.1V288.3M394.9 270V295.1M396.2 267.9V297M397.5 271V303.3M398.8 276.4V300.4M400.1 278.6V297.7M401.4 282.4V302.6M402.7 278.8V304.4M404 280V303.5M405.3 278.7V307.1M406.6 284.9V309.8M407.9 286.5V314.8M409.2 281.2V316.3M410.5 287.4V314.4M411.8 282.6V309.5M413.1 279.4V301.9M414.4 272.5V298.5M415.7 269.2V296.5M417 261.7V296.2M418.3 261.5V292.1M419.6 264.6V292.3M420.9 274.5V292.5M422.2 276V299.6M423.5 273.9V299.9M424.8 273V303.5M426.1 279.6V307.5M427.4 281.4V312.2M428.7 281.4V316.8M430 282.3V320.6M431.3 284.2V326.7M432.6 290.1V326.6M433.9 291.3V328.7M435.2 292.2V328.6M436.5 298V327.2M437.8 301.3V326.5M439.1 300.4V323.1M440.4 304.3V323.4M441.7 305V328.4M443 305.5V324.5M444.3 300.6V326.3M445.6 299.1V327.9M446.9 302.6V340M448.2 306.6V340.2M449.5 304.8V337.2M450.8 301.9V338.2M452.1 301.7V337.6M453.4 301.9V331.4M454.7 305.1V331.3M456 304.3V332.6M457.3 304.6V334.3M458.6 306.2V332.6M459.9 307.2V328.8M461.2 298.8V328.1M462.5 296.1V325.3M463.8 294.8V319.5M465.1 294.3V318.9M466.4 291.2V320.8M467.7 293.9V321.2M469 294.7V320.8M470.3 291.7V318.8M471.6 294.8V315M472.9 297.5V321.9M474.2 293.9V324.4M475.5 295.8V326.7M476.8 298.6V327.7M478.1 306V324.1M479.4 311.3V326.5M480.7 312V324.9M482 315.9V330.7M483.3 313.9V335.5M484.6 322.3V341.3M485.9 325.3V348.2M487.2 324.9V352.4M488.5 327.3V353M489.8 326.9V357.1M491.1 322.4V357.8M492.4 321V364.2M493.7 326V362.8M495 322.1V363.1M496.3 318.6V360.7M497.6 312V357.3M498.9 313.1V350.2M500.2 316.4V344.5M501.5 313.7V342.1M502.8 305.3V335.4M504.1 307.6V333.7M505.4 304.8V335.3M506.7 300.4V336.5M508 305.7V333.3M509.3 303.5V331.4M510.6 305.1V328M511.9 307.7V330.5M513.2 306V330M514.5 314V334.3M515.8 313.8V337.3M517.1 317.1V334.8M518.4 322V337.3M519.7 322V335M521 324.8V335.4M522.3 324.4V336M523.6 321.4V336.8M524.9 316.6V342.6M526.2 320.7V349.3M527.5 319.9V353.1M528.8 314.6V359M530.1 317.4V361.7M531.4 315.6V354.6M532.7 305V360.4M534 296.5V359.8M535.3 295V361.3M536.6 300.9V360.3M537.9 311.7V358.8M539.2 316.1V360.9M540.5 321.7V366.6M541.8 318.2V367.8M543.1 314.9V366.5M544.4 318V360.5M545.7 319.6V363.2M547 325.5V354.8M548.3 327.4V353.4M549.6 318.4V350.4M550.9 321.4V356.5M552.2 319.1V357.6M553.5 321.9V353.8M554.8 310.8V347.4M556.1 307.8V350.5M557.4 310.2V348M558.7 304V344.8M560 290.4V335.7M561.3 285.9V333.6M562.6 279V323.9M563.9 291.7V328.9M565.2 288.4V323.7M566.5 281.8V323M567.8 270V319.1M569.1 256.9V318.8M570.4 251.2V307.6M571.7 259.7V308M573 261.8V312.2M574.3 259.2V309.1M575.6 265.8V311M576.9 262.4V312.2M578.2 258.9V305.4M579.5 258.9V307.8M580.8 257.6V304.1M582.1 247.1V296.7M583.4 252.2V302.5M584.7 261.2V302.7M586 259.7V301.5M587.3 259.6V304.6M588.6 261.1V307.4M589.9 262.7V318M591.2 259.5V314.5M592.5 271.9V315.2M593.8 268.1V313.9M595.1 267.5V309.8M596.4 270.8V311.9M597.7 271.1V307.8M599 271.6V308M600.3 274.8V312.7M601.6 271.6V314.3M602.9 271.6V309.8M604.2 266.1V305M605.5 264.2V305.8M606.8 264.1V302.3M608.1 262.3V300M609.4 256V296.3M610.7 245.5V284.4M612 245.4V278.9M613.3 243V279.2M614.6 234.3V283.3M615.9 241.8V282.4M617.2 250.9V284M618.5 255.6V279.9M619.8 263.3V282.9M621.1 266.7V278.7M622.4 265.7V281M623.7 271V288.1M625 271.2V286.7M626.3 279.4V288.9M627.6 282.8V301.3M628.9 286.8V311.3M630.2 293.7V313.3M631.5 290.4V317.7M632.8 292.8V324.8M634.1 297.2V327.2M635.4 296.9V335.3M636.7 298.7V334.2M638 302V339.4M639.3 299.1V340.5M640.6 303.7V342.5M641.9 298.6V338.8M643.2 299.7V330.7M644.5 302.3V329.1M645.8 298.6V325.1M647.1 295.1V328.3M648.4 295.1V326M649.7 295.4V324.5M651 294.2V324.3M652.3 295.5V318.4M653.6 294.6V321.5M654.9 299.9V331.5M656.2 302.1V330.7M657.5 306.7V333.1M658.8 306.3V331.3M660.1 305.4V338.7M661.4 307.5V335.4M662.7 312V343.3M664 314.3V348.5M665.3 323.5V353.3M666.6 329.8V356.9M667.9 336.5V367.6M669.2 347.1V372.2M670.5 356.9V384.5M671.8 362V389.9M673.1 369.2V398.2M674.4 385.8V407.1M675.7 396.8V417.3M677 401.7V420.5M678.3 405.3V425.3M679.6 408.6V424.7M680.9 403.7V423.9M682.2 403.5V418.5M683.5 403.5V423.7M684.8 399.6V419.9M686.1 396.4V417.2M687.4 389V409.1M688.7 380.7V403.3M690 372.1V392.1M691.3 363V390.4M692.6 358.8V385.5M693.9 354.5V376.9M695.2 348.4V368.9M696.5 342.4V367.3" stroke="url(#g1)" stroke-opacity="0.42"/>
<path d="M118 269V293.2M119.3 262.3V289.8M120.6 264.3V289.7M121.9 262.1V290.8M123.2 261.1V294.3M124.5 257.9V300.9M125.8 257.1V299.2M127.1 255.3V301M128.4 258.8V302.3M129.7 261.6V305.2M131 263.9V304.4M132.3 266.3V303.8M133.6 263.6V306.7M134.9 266.2V299.6M136.2 265.4V296.6M137.5 268.3V299.7M138.8 271.8V302.9M140.1 269V302M141.4 270.1V299.1M142.7 265.3V298.3M144 261.9V296.9M145.3 261.4V296.1M146.6 260.9V295.7M147.9 258.7V298.7M149.2 259V292.6M150.5 261.6V289M151.8 267.5V290.4M153.1 269.5V298.7M154.4 269.1V291.3M155.7 265.8V290.1M157 261.8V289.6M158.3 256V285.6M159.6 254.9V283.1M160.9 258.8V279.6M162.2 259.8V277.2M163.5 261.5V283.8M164.8 263.2V281.6M166.1 263.7V283.4M167.4 264.3V285.4M168.7 261.2V286.3M170 264V290.4M171.3 269.4V290.9M172.6 271.4V294.8M173.9 274.1V304.5M175.2 271V310.5M176.5 273.7V313.5M177.8 271V320.5M179.1 272.6V317.6M180.4 270.3V318M181.7 270V313.8M183 273V304.9M184.3 274.8V304.2M185.6 272.3V299.4M186.9 271V303.3M188.2 272.1V299.3M189.5 272.7V304.9M190.8 270.9V306.9M192.1 265.9V300M193.4 261V296.5M194.7 256.9V293.1M196 252.6V291.4M197.3 252.2V290.1M198.6 251.3V280.5M199.9 249.1V273.9M201.2 249.9V269.8M202.5 248.6V275.9M203.8 251.8V282.9M205.1 252.6V280.3M206.4 255.7V282.6M207.7 255.9V284.1M209 248.2V288M210.3 250.4V283.9M211.6 254.2V283.3M212.9 258.3V276.8M214.2 259.8V276.9M215.5 255.8V280.6M216.8 256.4V286.1M218.1 261V289.5M219.4 263V289.1M220.7 263.5V283M222 259.9V287.5M223.3 261.3V294.2M224.6 264.9V284.9M225.9 264.2V283.7M227.2 264.6V284M228.5 266.9V284M229.8 268.8V291M231.1 269.5V300.6M232.4 269.6V303.8M233.7 271.3V307.2M235 273.8V303.2M236.3 277.2V296.9M237.6 277.6V298.8M238.9 275.7V304.1M240.2 276.9V296.4M241.5 278.7V297.9M242.8 283.8V294.7M244.1 284.2V302.7M245.4 275.9V297.3M246.7 273.6V295.4M248 268.4V293.3M249.3 267.8V286.4M250.6 258.5V283.5M251.9 251.4V280.6M253.2 249.6V280.8M254.5 250.2V284.7M255.8 246.9V283.1M257.1 246.3V287.6M258.4 250.5V289.4M259.7 248.4V295.1M261 245.9V291.4M262.3 246.4V290.5M263.6 247V291.9M264.9 247.7V290.5M266.2 251.2V294.3M267.5 253.1V299M268.8 250.7V296.6M270.1 255.1V292.6M271.4 257.1V301.3M272.7 260.6V307.2M274 256.5V308.7M275.3 256.4V311.1M276.6 262.3V305.6M277.9 265.8V302.4M279.2 265.1V295.1M280.5 274.1V291.1M281.8 274.3V293.7M283.1 276.3V296.1M284.4 279.2V296.8M285.7 279.3V299.7M287 279.3V302.7M288.3 280.4V305.8M289.6 273.9V315.3M290.9 272.2V309.4M292.2 273.1V316.3M293.5 274.5V311.9M294.8 278.7V322.9M296.1 280.7V316.7M297.4 280.7V318.5M298.7 279.3V312.2M300 285.8V310.7M301.3 288V311M302.6 278.1V308.6M303.9 274.8V305.1M305.2 276.8V303.7M306.5 281V302M307.8 274.4V309.5M309.1 275V311.4M310.4 277V311.7M311.7 272.5V315.2M313 270.6V317.3M314.3 269.9V314.3M315.6 269.9V308.7M316.9 272.9V312.3M318.2 275.4V308.2M319.5 275.8V307.7M320.8 287.8V309.9M322.1 285V302.9M323.4 280.6V301.8M324.7 278V296.8M326 272.4V296.6M327.3 271.1V291.8M328.6 271.3V290.4M329.9 275.1V287M331.2 266V285.9M332.5 263.4V284M333.8 258.8V287.9M335.1 256.9V285.9M336.4 253.5V288.7M337.7 253.7V289.2M339 250.9V290.7M340.3 251.8V288.4M341.6 254.2V289.1M342.9 257.1V296.2M344.2 255.2V296.1M345.5 254.7V297.1M346.8 254V294.5M348.1 256.6V286.5M349.4 256.9V294M350.7 259.9V298.4M352 263.2V295.8M353.3 259V292.1M354.6 261.8V296.5M355.9 262.6V298.5M357.2 249.3V289.7M358.5 242.5V291.6M359.8 240.6V285.5M361.1 235.2V282.5M362.4 229.3V274.3M363.7 233.5V279.4M365 235V279M366.3 234.5V280.8M367.6 238.5V272.5M368.9 238V271.5M370.2 238.2V273.6M371.5 242.9V272.5M372.8 240.4V272.3M374.1 249.3V273.6M375.4 251.2V285.6M376.7 251.3V284.4M378 253.4V284.4M379.3 252.1V287.2M380.6 254.8V286.3M381.9 252V283.1M383.2 256.1V282.1M384.5 256.2V291.7M385.8 258.6V298.5M387.1 260.1V293.6M388.4 259.7V300.1M389.7 261.3V301.4M391 265.8V301M392.3 260.7V300.8M393.6 269.1V301.7M394.9 273.1V305.5M396.2 272.5V305.5M397.5 272.6V302.4M398.8 274.8V306.5M400.1 274.7V313.8M401.4 273.8V321.7M402.7 278.5V319.9M404 279.1V314.7M405.3 279.9V314.5M406.6 282.8V315.4M407.9 283.9V320.5M409.2 285.2V321.8M410.5 289.5V317.5M411.8 291.3V318.2M413.1 287.8V313.4M414.4 283.7V310.7M415.7 284.8V312.6M417 280.8V312M418.3 275V317.8M419.6 274.3V314.4M420.9 276.5V312.2M422.2 274.3V311.2M423.5 276V306.4M424.8 277.3V310.5M426.1 276.8V313.2M427.4 274.6V317.8M428.7 281.9V321.9M430 286.3V325.1M431.3 291.7V325.1M432.6 299.7V325.3M433.9 299.6V328.7M435.2 297.5V330.5M436.5 295.3V332.8M437.8 294.5V335.6M439.1 297.2V339.7M440.4 295.2V330.8M441.7 303.5V332.6M443 302V330.6M444.3 295V330.4M445.6 294.6V335.6M446.9 298.9V331.6M448.2 300.6V329.3M449.5 298.6V325.4M450.8 296.2V333.7M452.1 297.6V332M453.4 295.8V331.1M454.7 298.6V325.6M456 292.3V322.5M457.3 292.2V324.4M458.6 289.9V325.2M459.9 293V325.4M461.2 290.8V320.2M462.5 288.6V313.9M463.8 288.3V310.7M465.1 292.2V314.4M466.4 297.6V317.5M467.7 295V315.4M469 295.9V321.4M470.3 298.3V323M471.6 296.5V326.2M472.9 293.5V325.2M474.2 289.4V328.6M475.5 293.2V325.3M476.8 294.1V327.6M478.1 299.5V332.8M479.4 299.5V337.3M480.7 306V335.7M482 313.9V339.5M483.3 312.9V346.7M484.6 313.1V345.3M485.9 317.7V347M487.2 321.9V351.7M488.5 322.3V347.1M489.8 320.3V348M491.1 320.9V344.8M492.4 322.5V348.9M493.7 319V346.6M495 321.3V345.8M496.3 325.4V347.6M497.6 323.6V347.9M498.9 321V345.6M500.2 319.9V339.9M501.5 315V341.5M502.8 314V346M504.1 311.6V340.8M505.4 309.2V342.5M506.7 312.7V342.9M508 308.6V340.4M509.3 305V342.8M510.6 311.1V345M511.9 313.5V341.1M513.2 312.6V339.6M514.5 312.6V338.6M515.8 317.4V340.7M517.1 318.9V341.6M518.4 321.9V344.3M519.7 323.4V350.3M521 324.6V352M522.3 325.3V343.5M523.6 320.3V343.2M524.9 317.7V347.5M526.2 321.1V344.2M527.5 322.7V342.4M528.8 309.4V343.2M530.1 307.8V341M531.4 307.2V341.1M532.7 300.2V340.1M534 296.6V339.4M535.3 298.5V337.7M536.6 296.5V338.2M537.9 297.9V344.6M539.2 307.2V346M540.5 309.6V345.9M541.8 312.3V347M543.1 311.4V346.8M544.4 313.5V352.2M545.7 322.1V351.8M547 316.5V356.2M548.3 313.9V355.1M549.6 311.7V356.4M550.9 314.9V343.3M552.2 309.6V348.6M553.5 318.3V352.3M554.8 305.8V358M556.1 303.6V358.3M557.4 305.5V355.1M558.7 295.5V345M560 299.2V348.9M561.3 288.3V351.9M562.6 286.7V341.4M563.9 277.6V339.6M565.2 290.8V338.7M566.5 288.5V340.6M567.8 295.6V334.3M569.1 298.2V335.3M570.4 291.9V322.5M571.7 286.7V315.5M573 274.8V309.8M574.3 268.9V309M575.6 263.9V301.7M576.9 253.3V298.2M578.2 259.9V297.6M579.5 258.1V287.7M580.8 255V288.6M582.1 248V285M583.4 243.1V287.2M584.7 254.3V284.7M586 255.8V279.4M587.3 258.1V291.5M588.6 262.8V299.1M589.9 281V298.6M591.2 282.1V302.8M592.5 285.9V310.5M593.8 284.2V308.8M595.1 280.5V310.3M596.4 281.6V308.5M597.7 279.7V311.8M599 275.9V303.9M600.3 273.3V299M601.6 268.7V298.3M602.9 265.1V299.5M604.2 267.8V299.9M605.5 264.1V298.5M606.8 259.1V293.4M608.1 262.3V281.5M609.4 256.6V285.9M610.7 247.8V279.3M612 246.1V279.5M613.3 252.1V276.7M614.6 258V278.3M615.9 248.1V278.8M617.2 255.6V282.9M618.5 252.1V280.9M619.8 251.1V285.4M621.1 254.7V286.9M622.4 250.9V300.8M623.7 265.4V301.4M625 262.4V295.3M626.3 269.7V303M627.6 272.2V310.3M628.9 282.7V316M630.2 284.2V325.3M631.5 292.3V335.3M632.8 296.5V345.5M634.1 303.6V336.3M635.4 305.1V342.4M636.7 308.9V344.1M638 315V338.3M639.3 318V341M640.6 313.5V345.4M641.9 311.1V343.5M643.2 312.4V347.7M644.5 311.2V341.2M645.8 297V333.3M647.1 290.9V329.5M648.4 290.3V322.9M649.7 289V330.6M651 286.2V325.9M652.3 283V323.7M653.6 289.2V321.7M654.9 291.2V316.7M656.2 298.6V321.7M657.5 298.5V317.3M658.8 301.3V319.4M660.1 300.9V325.8M661.4 300.7V329.3M662.7 307.8V336M664 312.3V345.7M665.3 321V351.9M666.6 331.7V356.8M667.9 336.3V366.3M669.2 345.6V377.3M670.5 354.3V385.5M671.8 363.9V394.1M673.1 379.7V401.8M674.4 392.7V411M675.7 400.1V417.4M677 403.8V418.2M678.3 406.6V421.2M679.6 404.9V426M680.9 404.1V422.3M682.2 400.6V422.8M683.5 400.1V425M684.8 398V418.5M686.1 392.5V412.1M687.4 387.3V406.2M688.7 376.7V398.2M690 368.3V384.7M691.3 359.8V374.6M692.6 356.4V371.8M693.9 351.2V371.5M695.2 346.3V371.7M696.5 344.3V367.9" stroke="url(#g1)" stroke-opacity="0.42"/>
<path d="M118 266.1V298.6M119.3 263V301.2M120.6 263.4V295.4M121.9 263.8V289.4M123.2 259.2V288.8M124.5 259.5V283.6M125.8 257.2V280.1M127.1 259.6V284.1M128.4 257.9V290.6M129.7 260.6V286.2M131 264.2V289.3M132.3 264.4V295M133.6 263.4V299.3M134.9 266.8V294.6M136.2 267.5V296.9M137.5 270V302.2M138.8 274.1V301.3M140.1 275.4V302.1M141.4 272.1V298.8M142.7 269.6V302M144 269.8V296.6M145.3 270.4V293.6M146.6 270.7V285.6M147.9 267.1V281.1M149.2 270.8V283.8M150.5 271.5V287.2M151.8 269.4V284.6M153.1 272.2V291M154.4 272.9V285.6M155.7 271.6V282.2M157 266.7V281.8M158.3 268.7V287.2M159.6 264.4V285.2M160.9 261.2V290.8M162.2 261.5V289.9M163.5 263.9V297.9M164.8 264.7V297.9M166.1 270.1V300.8M167.4 270V304.4M168.7 268.8V307M170 269.6V307.3M171.3 271.4V307.6M172.6 271.5V308.5M173.9 275.2V310.2M175.2 277V306.4M176.5 278.4V310.1M177.8 281.1V316.8M179.1 281.6V320.7M180.4 278.8V310.6M181.7 281.7V310M183 280.2V305.3M184.3 276.3V304.5M185.6 273.5V298.6M186.9 268.1V288.8M188.2 264.5V287.1M189.5 261.7V287.6M190.8 260.4V292.9M192.1 261.2V283M193.4 260.6V274.8M194.7 259.7V272M196 255.5V269.2M197.3 251.9V266.4M198.6 248.6V263.7M199.9 243.7V271.2M201.2 242.1V274.9M202.5 246.9V274M203.8 244.1V269.8M205.1 247V274.3M206.4 246.1V274.1M207.7 248V278.3M209 246.2V280M210.3 249.3V286.2M211.6 249.6V285.7M212.9 251.9V287.2M214.2 254.9V283.1M215.5 257.3V286.1M216.8 263.8V289M218.1 267.3V288.5M219.4 267.8V297.6M220.7 264.2V293.1M222 260.9V292.2M223.3 258V295.5M224.6 255.7V299.1M225.9 258.7V296.2M227.2 259.4V297.1M228.5 258.5V307.3M229.8 261V314.4M231.1 262.5V315.4M232.4 268.5V314.7M233.7 268.8V313.3M235 273.3V313.2M236.3 270.1V315M237.6 272.9V316.6M238.9 273.7V312.8M240.2 269.5V313M241.5 269.9V311.4M242.8 280.3V313.5M244.1 273.2V301.1M245.4 278.5V297M246.7 270.8V296.3M248 265.1V290.5M249.3 264.5V289.2M250.6 264.3V290.4M251.9 257V285.8M253.2 257.4V289.8M254.5 255.8V281.1M255.8 257.1V273.3M257.1 252.4V270M258.4 252.5V273.9M259.7 249.6V271.7M261 249.7V273.9M262.3 252.7V272.6M263.6 254.7V275.4M264.9 255.8V281.9M266.2 260.9V279.6M267.5 260.7V280.3M268.8 254V282.8M270.1 265.2V290.3M271.4 267.9V291.3M272.7 271.8V293.9M274 277.7V300.3M275.3 272.4V301.3M276.6 275.1V303.1M277.9 270.8V305.1M279.2 272.1V306.4M280.5 276.8V309.2M281.8 271.7V312.3M283.1 269.9V314.3M284.4 277V319.2M285.7 273.6V314.8M287 276.7V318.1M288.3 276.5V314.4M289.6 282.2V310.9M290.9 281.7V315.6M292.2 279.7V315.6M293.5 280.2V315M294.8 277.7V316.7M296.1 280.2V321.4M297.4 279.3V317.9M298.7 282.1V315.8M300 273.5V309.5M301.3 266.9V303.1M302.6 268.7V304.9M303.9 270.7V301.7M305.2 273.8V308.4M306.5 272.7V307.5M307.8 275V309.4M309.1 278V312M310.4 273.7V314.4M311.7 278.7V319M313 279V323.4M314.3 277.5V321.4M315.6 285.5V326.7M316.9 288.9V327.2M318.2 285.7V331.9M319.5 291.1V334.8M320.8 292.9V333.2M322.1 280.7V326.9M323.4 278.4V317M324.7 275.7V305M326 272.5V305.5M327.3 269.9V299.5M328.6 260.7V297M329.9 261.8V294.8M331.2 263.8V289.8M332.5 267V285.7M333.8 272.2V286.9M335.1 270.3V285.5M336.4 265.8V283.4M337.7 256V278.9M339 254V281.6M340.3 256V279.6M341.6 262.3V287.2M342.9 264.5V291.3M344.2 271.3V289.8M345.5 267.3V289.7M346.8 265.8V286.9M348.1 261V287M349.4 258.1V289.5M350.7 260.4V289.4M352 260.3V287.2M353.3 261V286.1M354.6 266.6V288M355.9 264.9V291.7M357.2 258.2V284.9M358.5 256.7V285.3M359.8 254.4V274.6M361.1 255.5V269M362.4 244.7V263.2M363.7 241V264.3M365 244.3V264.8M366.3 238.6V272.1M367.6 241.5V273.3M368.9 246.4V270.7M370.2 244.9V269.9M371.5 243.6V263.7M372.8 237V266.3M374.1 249.1V269.1M375.4 258.7V271.7M376.7 258.2V277.9M378 255.2V285.1M379.3 249.7V283.9M380.6 256.1V286.8M381.9 252.9V293M383.2 255.7V295.3M384.5 253.2V302M385.8 263.3V306.2M387.1 260.5V306.2M388.4 260.9V297.5M389.7 259.3V299.8M391 256.4V290.9M392.3 254.1V294M393.6 254.2V292.8M394.9 257.6V292.4M396.2 261.9V295.3M397.5 263.8V293.7M398.8 263.6V304.2M400.1 266.9V306.5M401.4 270.2V306.3M402.7 274V306.4M404 270.9V309M405.3 278.5V308M406.6 282.7V305.9M407.9 283.7V312.9M409.2 289.5V309.6M410.5 290.4V307M411.8 285.9V302.1M413.1 283.9V304.9M414.4 274.6V304.2M415.7 272.4V307.1M417 275.8V304M418.3 270.8V301.8M419.6 270.3V305.6M420.9 270.3V308.6M422.2 271.9V303.3M423.5 277.4V299.2M424.8 274.9V300.6M426.1 278.9V299.4M427.4 271.3V305M428.7 279.4V311.1M430 282.2V317M431.3 280V325.5M432.6 283.9V327.5M433.9 289.5V325.3M435.2 296.4V334.2M436.5 298.5V330M437.8 300.9V322.8M439.1 299.2V322.3M440.4 299.6V321.9M441.7 308V330.5M443 307.8V328M444.3 310.7V328.3M445.6 310.9V326M446.9 313.4V328.9M448.2 307.4V325.7M449.5 306.4V329.8M450.8 301.6V327M452.1 305.3V325.1M453.4 302.7V329M454.7 301.6V324.8M456 303.2V326.3M457.3 303.2V324.2M458.6 300.8V322.5M459.9 298.5V318.2M461.2 297V320.6M462.5 295.8V321.7M463.8 291.9V320.4M465.1 288.2V322.4M466.4 287.6V322.4M467.7 289.2V326.9M469 292.7V329.6M470.3 303.8V324.5M471.6 305.5V327.3M472.9 306V324.1M474.2 303.4V323.2M475.5 306.1V322.3M476.8 309.6V323M478.1 309.4V327.5M479.4 317.9V337.5M480.7 319.8V338.4M482 323.4V343.1M483.3 327.1V348.3M484.6 330.7V354.3M485.9 334.3V357M487.2 335.6V357.6M488.5 338.3V351.1M489.8 339.3V346.9M491.1 337.5V347.7M492.4 338.6V348.4M493.7 338.7V352.4M495 334.8V346M496.3 329.3V343.5M497.6 321.5V341.2M498.9 324V338.8M500.2 321.2V337.1M501.5 322V334.3M502.8 322.4V338.7M504.1 319V336.3M505.4 317.1V336.8M506.7 316.1V337.7M508 311.3V337.3M509.3 310.3V334.7M510.6 308.5V335.6M511.9 308.1V334.7M513.2 306.3V333.7M514.5 306V332.9M515.8 309.3V342.4M517.1 309V343.6M518.4 308.7V348.5M519.7 312V347.7M521 319.1V345.4M522.3 311.5V345.8M523.6 310.6V346.5M524.9 313.9V346.5M526.2 317.3V349.9M527.5 310.2V349.9M528.8 303.7V356.9M530.1 307V355.6M531.4 311.1V353.4M532.7 303.1V355.3M534 311.1V357.3M535.3 309.1V347.4M536.6 304V346.3M537.9 313.8V348.7M539.2 323.2V349.1M540.5 324.6V348.2M541.8 331.7V350.8M543.1 326.6V356M544.4 320V361.4M545.7 322.5V359.4M547 326.7V363.7M548.3 318.6V364.9M549.6 320.9V360.3M550.9 319.8V367.7M552.2 324.7V363.9M553.5 322V363.7M554.8 320.6V359M556.1 317.6V347.4M557.4 306.4V345M558.7 304.4V346.6M560 308.8V338.1M561.3 296.2V335.1M562.6 291.7V328.3M563.9 286.6V331M565.2 288.2V333.6M566.5 284.8V329.3M567.8 285.2V316.8M569.1 279V307.9M570.4 271.1V298.6M571.7 257.8V295.5M573 254.3V293.6M574.3 247.5V291.6M575.6 256.1V290.5M576.9 254.4V292.4M578.2 258.1V295M579.5 252.2V298.8M580.8 247V295.1M582.1 248.8V287.2M583.4 249.8V287.5M584.7 247.4V293.8M586 248.1V296.4M587.3 258.4V306.6M588.6 259.9V299.4M589.9 262.3V300.7M591.2 266.6V298.1M592.5 267.8V302M593.8 267.5V306.1M595.1 270.7V307.4M596.4 270.2V313.7M597.7 258.1V307.5M599 256.4V307.6M600.3 264.9V308.8M601.6 263.4V298.9M602.9 258.6V303M604.2 252.4V304.5M605.5 250.3V298.2M606.8 249.8V296M608.1 244.6V289.3M609.4 243.3V290.6M610.7 233.8V298M612 231.1V292.9M613.3 237.6V294.2M614.6 237.9V291.5M615.9 238.6V297.4M617.2 243.9V302M618.5 243.2V303.9M619.8 241V299.8M621.1 251.5V294.8M622.4 251.3V303.1M623.7 250.7V302.3M625 249V303.9M626.3 255.2V307M627.6 263.9V319.6M628.9 282.4V320.7M630.2 289.6V323.2M631.5 294.2V330.6M632.8 294.7V324.6M634.1 300.3V330.5M635.4 303.7V331.7M636.7 308.3V335.6M638 304.3V339.7M639.3 304.5V345M640.6 312V340.4M641.9 314.7V329.7M643.2 305.4V331.7M644.5 303.9V324.2M645.8 298.9V322.8M647.1 287.8V326.4M648.4 284.5V321.6M649.7 291.9V324M651 292.2V323M652.3 290.5V330.6M653.6 291.2V333.6M654.9 293.8V332.1M656.2 298.8V332.5M657.5 298.4V337.4M658.8 299.6V333.3M660.1 301.4V340M661.4 303.7V338.7M662.7 310.7V338.2M664 313.3V343.1M665.3 323.9V350.5M666.6 334.2V359.1M667.9 342.3V370.8M669.2 348.5V372.4M670.5 357V378.4M671.8 367.8V387.7M673.1 377.7V398.2M674.4 389.6V403.2M675.7 396.6V411.3M677 399.9V414.5M678.3 403.2V425.1M679.6 405V425.1M680.9 405.9V420.7M682.2 403.8V419.5M683.5 404.8V423.8M684.8 399.9V415.4M686.1 393.1V412.2M687.4 391.4V410.1M688.7 383.7V399.9M690 375.4V390.3M691.3 365.5V380.4M692.6 364.4V375.5M693.9 360.5V372.4M695.2 356.1V369.6M696.5 353.8V367.3" stroke="url(#g1)" stroke-opacity="0.42"/>
<path d="M118 200V235M119.3 199.7V232.4M120.6 195.9V229.8M121.9 190V229.2M123.2 193.4V231.7M124.5 198.2V235.6M125.8 197.3V239.7M127.1 202.4V242M128.4 205.7V242.4M129.7 214.5V243.2M131 223.5V244.9M132.3 221.5V247.2M133.6 218.3V250.2M134.9 217.1V251.1M136.2 219V252.3M137.5 220.7V255.9M138.8 221.7V255M140.1 219.9V256.9M141.4 219.2V256.6M142.7 225.3V252.9M144 222.1V248.4M145.3 238.8V251M146.6 240V255.1M147.9 233.6V257.3M149.2 230.1V257.1M150.5 237.4V260.4M151.8 236V260.1M153.1 240.7V263.2M154.4 237V264.9M155.7 241.8V268.4M157 238.5V269.2M158.3 236.5V269.3M159.6 230.8V268.2M160.9 235.4V266.7M162.2 235.8V266.5M163.5 247.8V264.9M164.8 245.6V262.8M166.1 240.5V261.5M167.4 234.5V260.8M168.7 235.3V259.6M170 231.4V257.8M171.3 231.8V256.8M172.6 221.7V255.7M173.9 219.2V255.7M175.2 222.2V257.8M176.5 227.5V259.8M177.8 231.4V260.3M179.1 233.6V262.5M180.4 241.8V264.7M181.7 246.5V266.3M183 248.7V267.4M184.3 255.3V269.8M185.6 256.4V271.5M186.9 255.1V273.3M188.2 257.2V276.9M189.5 257.6V279.9M190.8 259.7V281M192.1 259.4V281.6M193.4 258.5V279.4M194.7 258.3V276.9M196 261V276.6M197.3 260.1V277.7M198.6 260.1V277M199.9 260.7V274.5M201.2 255.3V274.4M202.5 254.9V271.8M203.8 252.3V267.4M205.1 249V264.8M206.4 251.3V264.9M207.7 252.9V265.5M209 252.8V268M210.3 253.7V269.1M211.6 252.7V269.7M212.9 254.3V270.8M214.2 256.9V271.8M215.5 255.6V272.6M216.8 252.3V271.3M218.1 254.7V271M219.4 256V272M220.7 258.2V271.1M222 258.4V273.8M223.3 262.4V276.3M224.6 264.1V276.4M225.9 263.6V275.7M227.2 263.8V275.5M228.5 265.4V277.9M229.8 264.8V281.5M231.1 267.1V281.3M232.4 270.4V281.2M233.7 270.2V282.5M235 268.3V285.9M236.3 267.7V286.6M237.6 274.5V287.4M238.9 275.4V288.8M240.2 277.5V287.5M241.5 277.4V290.7M242.8 274.9V289.3M244.1 276.6V290.2M245.4 275V287.6M246.7 272.6V287.5M248 274V289.3M249.3 275.9V288.8M250.6 279.5V285.2M251.9 275V282.4M253.2 273.8V280.7M254.5 273V280M255.8 275.5V280.9M257.1 276.4V281.3M258.4 277.3V281.9M259.7 277.2V282.2M261 281.1V288.5M262.3 285.6V289.9M263.6 287.6V295.1M264.9 291.1V298.2M266.2 290.2V304M267.5 292.8V305.6M268.8 292.7V307.1M270.1 294.2V309.5M271.4 294.1V314.5M272.7 297.8V313.3M274 300.9V312.7M275.3 303V316.3M276.6 307V319M277.9 309.2V322.1M279.2 307.3V323.1M280.5 306.9V321.9M281.8 303.2V322.3M283.1 301.5V322.8M284.4 298.8V320.3M285.7 302.7V319.8M287 304.8V323M288.3 305V323.9M289.6 302.3V323.7M290.9 304.3V320.1M292.2 303.4V317.5M293.5 303V316.1M294.8 300.2V318.4M296.1 300.5V319.6M297.4 301V319.9M298.7 301.6V320.8M300 305V319.1M301.3 306.3V319.7M302.6 311.8V322.8M303.9 316.3V323.8M305.2 324.2V330.2M306.5 332.3V338.6M307.8 341.7V347.7M309.1 351.3V356.4M310.4 358.6V365.9M311.7 366.5V374.4M313 372.4V382.7M314.3 387.6V397.8M315.6 399.3V410.3M316.9 410.1V420.1M318.2 418.5V427.9M319.5 422.3V432.7M320.8 424.7V435.5M322.1 427.6V437.4M323.4 431.4V439.2M324.7 432.3V439.4M326 433.8V439.5M327.3 433.8V440.3M328.6 435.2V442.1M329.9 436.9V442.6M331.2 436.5V442.9M332.5 437.1V444.5M333.8 437.9V445.3M335.1 439.6V446.5M336.4 438.9V445.7M337.7 440.2V447.7M339 440V448.7M340.3 438.9V448.2M341.6 438.5V448.1M342.9 439.2V448.8M344.2 439.2V446.4M345.5 438.5V445.7M346.8 439.2V444.1M348.1 438.6V443.4M349.4 438.6V444.8M350.7 439.3V445.3M352 439.9V444.3M353.3 439.6V444.4M354.6 440.7V444.2M355.9 438.7V444.8M357.2 438.4V444.7M358.5 436.9V443.8M359.8 435.9V442.9M361.1 434.2V442.2M362.4 432.8V440.5M363.7 431.5V438.7M365 430.2V437.9M366.3 431.4V437.1M367.6 430.3V436.8M368.9 430.6V437.2M370.2 430.3V435.9M371.5 429.5V435.9M372.8 428V437.3M374.1 427.1V435M375.4 426V435M376.7 426.5V433.1M378 427.2V433.3M379.3 427.6V432.2M380.6 425.4V431.8M381.9 424V430.6M383.2 424.3V429.2M384.5 423.2V429.3M385.8 422.8V428.1M387.1 421.3V428.1M388.4 421.3V428M389.7 420.6V428.1M391 420.2V427.7M392.3 420.9V428.1M393.6 420.5V427.2M394.9 421.3V428M396.2 421.4V429.1M397.5 421.5V430.1M398.8 423.3V430.8M400.1 422.4V432.9M401.4 422.4V432.7M402.7 420.3V431.6M404 420.2V431.7M405.3 420.6V432.3M406.6 420.8V431.1M407.9 421.3V431.3M409.2 422.8V431.4M410.5 424.7V433.9M411.8 425.8V434.5M413.1 426.9V434.4M414.4 426.1V433.7M415.7 426.3V433.6M417 424.5V433.6M418.3 422.9V430.8M419.6 422.1V430M420.9 419.9V429.8M422.2 419.2V430.6M423.5 418.2V430.7M424.8 418V430.5M426.1 418.1V426.7M427.4 414.3V423.6M428.7 410.5V420.6M430 408.7V416.4M431.3 406.1V413.8M432.6 407V413.7M433.9 403.8V412.4M435.2 403.7V411.9M436.5 403.2V410.6M437.8 402V410.3M439.1 402.8V409.6M440.4 401.3V409.6M441.7 401.6V408.4M443 402.6V409.6M444.3 402.5V410.3M445.6 402.8V409.9M446.9 400.7V408.4M448.2 400.7V408.1M449.5 402V409.7M450.8 404.4V411.3M452.1 406.8V414.1M453.4 410.3V416.6M454.7 412.7V418.5M456 413.4V419.9M457.3 414.6V419.8M458.6 415.2V420.1M459.9 415.5V419.3M461.2 416.1V420.7M462.5 415.2V420.7M463.8 414.7V421.8M465.1 414.3V421.5M466.4 414V419.9M467.7 413.1V419.6M469 412.6V419.3M470.3 413.1V418.5M471.6 410.7V417.3M472.9 408.8V416.1M474.2 408.7V413.6M475.5 408.6V412.7M476.8 407.6V412M478.1 406.8V412.2M479.4 405.9V411.2M480.7 405.2V412M482 404V410.4M483.3 403.8V410.6M484.6 402.6V408.6M485.9 401.7V409.6M487.2 402.1V409M488.5 402.3V408.1M489.8 401.3V409.9M491.1 402.1V410M492.4 401.7V409.1M493.7 401.5V408.5M495 400.1V407.2M496.3 397.7V404.1M497.6 399.2V404M498.9 401.2V404.7M500.2 401.2V407.1M501.5 400.7V405.9M502.8 399.1V405.8M504.1 395.9V404.3M505.4 392.9V400.4M506.7 389.4V398.7M508 391.2V401M509.3 392.2V404.5M510.6 393.9V408.4M511.9 394.3V412.8M513.2 391.7V411.4M514.5 389V409.1M515.8 384.4V404M517.1 377.8V398.6M518.4 375.4V399.5M519.7 372.5V392.9M521 365.2V392.9M522.3 358.8V390.3M523.6 355.5V386.1M524.9 346.8V381M526.2 341.6V384.3M527.5 335.9V375M528.8 336V371.9M530.1 335.1V363.3M531.4 330.3V357.1M532.7 329.1V352.8M534 326.7V357.8M535.3 323.8V349.9M536.6 319.7V345.3M537.9 318.3V344.1M539.2 315.9V346.7M540.5 315.1V348.1M541.8 314.5V350.5M543.1 312.8V350.9M544.4 311.9V340.3M545.7 303.9V339.2M547 305.3V342.5M548.3 303.2V349.9M549.6 304.2V347.7M550.9 304V342.7M552.2 300.1V335.1M553.5 297.2V337.5M554.8 290V343.9M556.1 283.6V338.8M557.4 281.2V336.7M558.7 278.9V326.5M560 280.1V319.6M561.3 277V313M562.6 273.3V312.1M563.9 267.1V311.7M565.2 267V299.6M566.5 264.1V292.6M567.8 260.6V294.1M569.1 261.1V297.5M570.4 260.4V299.6M571.7 256.9V298.8M573 259.3V288.8M574.3 256.1V285M575.6 254.7V286.8M576.9 250.1V284.4M578.2 248.9V284.3M579.5 245.6V277.3M580.8 243.9V277.9M582.1 243.7V276.3M583.4 243.8V270.7M584.7 245.4V269.5M586 245.6V270.1M587.3 247.1V268.1M588.6 244.3V262.5M589.9 237.1V260.4M591.2 232.4V251.1M592.5 228.3V249.5M593.8 229.8V254.6M595.1 230.5V258.5M596.4 235.3V259.6M597.7 235.5V262.9M599 236.3V271.2M600.3 237.3V274.7M601.6 235.4V273.4M602.9 232.2V263.1M604.2 227.2V254.2M605.5 225.4V254.9M606.8 224.8V260.7M608.1 226.4V267.1M609.4 232.7V276.1M610.7 238.1V275.7M612 231.9V275.7M613.3 228.8V268.9M614.6 226V263.9M615.9 230.2V263M617.2 236.6V268.6M618.5 238.4V271.5M619.8 240.6V274.4M621.1 244.9V278M622.4 237.3V278.4M623.7 235.1V279.9M625 237.5V274.6M626.3 229.4V269.7M627.6 231V261.8M628.9 222V254.9M630.2 214V252.2M631.5 216.4V248.5M632.8 218V242.1M634.1 205.3V237.3M635.4 201.2V231.7M636.7 201.7V228.1M638 200.8V226.7M639.3 201.1V226.2M640.6 198.8V226.2M641.9 196.8V231.9M643.2 197.9V229M644.5 194.9V228.8M645.8 191V225.3M647.1 180.2V228M648.4 183.2V231.9M649.7 191.3V242.6M651 187.3V243.1M652.3 189.6V240.7M653.6 189.2V242.5M654.9 198V247M656.2 211.8V253.4M657.5 211.7V256.1M658.8 215.1V253.6M660.1 219.5V253M661.4 220.6V252.2M662.7 216V256.3M664 220.6V252.2M665.3 213.3V253.6M666.6 218.4V255M667.9 199.2V249.3M669.2 204.4V249.5M670.5 210.9V256M671.8 205.6V256.8M673.1 199V257.4M674.4 215.2V262.8M675.7 225.3V265.1M677 233V268.6M678.3 245.7V272.2M679.6 251.8V275.7M680.9 261.4V275M682.2 260.4V285.5M683.5 272.7V293.3M684.8 280.4V300.2M686.1 289V302.4M687.4 286.1V308M688.7 274.8V306.4M690 273.7V311.3M691.3 273.8V320M692.6 274.2V324.5M693.9 276.2V320.8M695.2 273.3V317" stroke="url(#gd)" stroke-opacity="0.42"/>
<path d="M118 199.1V235.3M119.3 194V233.5M120.6 193.8V229.2M121.9 202.7V229.1M123.2 214.3V232.3M124.5 216.1V233.8M125.8 220.9V235M127.1 222.5V235.9M128.4 221.4V236.3M129.7 220.9V238.6M131 221.3V242M132.3 221.7V242.5M133.6 215.7V245.7M134.9 211.6V249.3M136.2 221.3V252.4M137.5 223V251.9M138.8 227.3V253M140.1 222.7V255M141.4 232.2V252.4M142.7 226.8V249.9M144 232.3V250.7M145.3 242.7V253.6M146.6 236.1V254.7M147.9 230.1V253.2M149.2 235V254.8M150.5 239.3V256.2M151.8 241.4V257.4M153.1 240.2V261.4M154.4 241.1V262M155.7 247.2V263.4M157 247.7V265M158.3 252.3V267M159.6 257.2V266.5M160.9 253V266.1M162.2 251.3V264.5M163.5 246.3V264.3M164.8 248.5V263.2M166.1 243V261.2M167.4 240V258.8M168.7 228.3V256.7M170 225V257.9M171.3 223.2V257.4M172.6 221V255.1M173.9 223.5V255.6M175.2 220.1V257.3M176.5 223.1V259M177.8 230.9V262.8M179.1 231.5V264.9M180.4 235.5V266.9M181.7 240.1V267.1M183 240.1V268.5M184.3 247.9V268.9M185.6 250.9V273.8M186.9 249.6V275.9M188.2 257.1V277M189.5 262.3V278.2M190.8 263.3V280.5M192.1 263.8V278.5M193.4 262.2V275.8M194.7 260.7V275.4M196 258.9V273.5M197.3 257.1V274.4M198.6 259.8V273.1M199.9 263.3V273M201.2 257.8V272.6M202.5 257.6V270.6M203.8 254.5V269.1M205.1 252.3V264.1M206.4 252.7V264.2M207.7 251.9V266.6M209 251.9V268.5M210.3 252.1V269.7M211.6 256.8V269.9M212.9 255.6V270.6M214.2 256.8V272M215.5 257.2V272.3M216.8 257.1V273.7M218.1 257.1V273.3M219.4 259.4V271.9M220.7 260.9V271.8M222 262.5V274.9M223.3 264V276.8M224.6 264.6V277.8M225.9 266.3V277.5M227.2 264.8V278.7M228.5 263.4V280.1M229.8 269.3V279.9M231.1 268.4V282.8M232.4 268.9V282.7M233.7 272.2V284.5M235 271.4V286.8M236.3 269.7V286.2M237.6 271.6V287.9M238.9 275V287.5M240.2 276.6V290.1M241.5 276.8V288.6M242.8 274.9V288M244.1 272.9V286.2M245.4 275V288.3M246.7 272.3V286.6M248 273.5V288.6M249.3 277.5V288.7M250.6 277.3V287.6M251.9 276.6V284.2M253.2 276.1V284.8M254.5 275.4V279.6M255.8 269.3V280.4M257.1 270.3V281.2M258.4 270.4V284.3M259.7 273.3V284.4M261 279.8V290.5M262.3 285.1V294.2M263.6 288.9V295.2M264.9 290.8V300M266.2 295.4V303.1M267.5 294.4V304.1M268.8 294.2V308.6M270.1 294.1V308.4M271.4 295.8V311.2M272.7 298.7V313.3M274 301.4V317.5M275.3 302.2V316.5M276.6 300.9V316.9M277.9 301.1V319.8M279.2 302.9V324.1M280.5 303.9V323.4M281.8 300.2V318.8M283.1 301.2V319.5M284.4 301.2V319.4M285.7 303.3V320.7M287 301.5V322.6M288.3 304.2V324M289.6 302.1V321.2M290.9 302.7V316.2M292.2 305.3V314.5M293.5 303V313M294.8 302.1V317.9M296.1 303.4V318.2M297.4 302.5V318M298.7 303.4V318.7M300 304.9V319.2M301.3 304.6V320.1M302.6 309.3V321.9M303.9 314.2V325.5M305.2 322.9V331.7M306.5 331.8V339M307.8 339.7V348.4M309.1 348.2V357.7M310.4 356.8V366.9M311.7 365.2V376.6M313 374.6V384.9M314.3 388.2V398.8M315.6 401.8V410.9M316.9 411.5V421.9M318.2 419.5V427.3M319.5 422.6V431.5M320.8 426V435.7M322.1 428.9V438M323.4 432V439.9M324.7 433.3V442.5M326 434.1V445.2M327.3 434.8V445.3M328.6 435.4V445.8M329.9 437.8V445.1M331.2 438.5V446.4M332.5 438.8V446.2M333.8 438.3V445.1M335.1 438.8V444.3M336.4 442V447M337.7 442.6V446.7M339 444.2V447.1M340.3 442.7V447.2M341.6 441.1V445.3M342.9 441V443.9M344.2 438.7V443.4M345.5 437.8V443.2M346.8 437.3V443.9M348.1 437V443.6M349.4 437.2V444.8M350.7 437.9V445.5M352 438.5V444.9M353.3 437V444.4M354.6 437.3V444.5M355.9 439.4V442.9M357.2 438.6V442.4M358.5 437.5V442.8M359.8 436.9V442.3M361.1 434.4V440.6M362.4 434.1V439.1M363.7 433.4V438.5M365 430.1V438.3M366.3 427.7V437.7M367.6 428.1V437.3M368.9 427.2V437.6M370.2 428V437.5M371.5 427.1V434.9M372.8 427.6V433.5M374.1 428.1V432.8M375.4 428V433.4M376.7 426V432.9M378 425.9V432.5M379.3 425.3V431.7M380.6 425.3V432.1M381.9 424.6V431M383.2 424.3V430.4M384.5 423.5V429.4M385.8 422.5V428.2M387.1 421.8V427.8M388.4 421V427.6M389.7 419.9V427.8M391 418.3V427.2M392.3 418V427.7M393.6 417.7V428.1M394.9 419V428.8M396.2 419.8V428.6M397.5 419.6V428.3M398.8 419V428.8M400.1 420.3V429.3M401.4 420.7V430.5M402.7 420.3V429.9M404 420V427.6M405.3 419.7V427.6M406.6 418.6V428.2M407.9 420.3V428.7M409.2 421.1V430.9M410.5 424.6V432.2M411.8 425.6V434.7M413.1 426.1V434.5M414.4 424.3V434M415.7 423.3V432.8M417 420.9V432.9M418.3 420.6V432M419.6 419.7V431M420.9 419.3V428.5M422.2 419.3V426.5M423.5 419.2V425.7M424.8 418.9V425.5M426.1 418.9V426.2M427.4 414.1V422M428.7 410.8V418.8M430 408.6V416.8M431.3 408.2V414.8M432.6 405.7V413.9M433.9 404.9V413.4M435.2 405.8V412.1M436.5 405.6V412.7M437.8 404.2V411.8M439.1 403V411M440.4 402.7V408.9M441.7 404.3V409.9M443 404.2V409.9M444.3 404.5V410.5M445.6 403.6V410.6M446.9 402.9V410.9M448.2 401.1V409.7M449.5 402.4V409.4M450.8 405.3V411.7M452.1 407.9V414.6M453.4 409.5V416.2M454.7 410.7V418.3M456 411.6V418.7M457.3 413.2V419.3M458.6 413V421.3M459.9 413.3V420.1M461.2 415.3V420.8M462.5 417.9V421.1M463.8 417.2V421.5M465.1 416.9V420.8M466.4 415.3V420.6M467.7 414.6V418.6M469 413.8V418.2M470.3 413.5V418.1M471.6 412V416.2M472.9 410.6V416M474.2 409V414.6M475.5 407.4V413.5M476.8 406.5V412.1M478.1 406V412.2M479.4 404.6V411.6M480.7 404V411.2M482 403.1V410.5M483.3 402.8V411M484.6 400.5V410.5M485.9 400.1V409.2M487.2 401.3V409.4M488.5 401.7V409.8M489.8 402.7V410.3M491.1 402.4V409.7M492.4 401.2V409.1M493.7 400.5V408.4M495 400.1V406.3M496.3 399.1V407M497.6 399.8V406.2M498.9 399.9V407.6M500.2 400.1V409.2M501.5 396.1V409.2M502.8 394.5V407.1M504.1 393.7V406.6M505.4 391.4V406.3M506.7 390.5V405.8M508 390.9V404.3M509.3 390.3V405.5M510.6 392.6V406.5M511.9 393.5V406.2M513.2 392.8V401.4M514.5 391.4V402.2M515.8 388.2V402M517.1 384.4V397.4M518.4 382.4V391.1M519.7 378.4V393.7M521 374.2V384.6M522.3 372.2V377.2M523.6 366.1V369.7M524.9 357.7V363.3M526.2 349.3V367.2M527.5 345.8V357.3M528.8 340.1V361M530.1 333.7V363.7M531.4 328.6V363.1M532.7 323.5V362.4M534 323.1V358.5M535.3 319.8V357.7M536.6 320.1V352.2M537.9 315.8V346.4M539.2 317.1V350.8M540.5 317.1V346.2M541.8 313.1V346M543.1 309.8V351.2M544.4 307.6V358.9M545.7 300.1V351.3M547 299.7V348.8M548.3 300.1V351.1M549.6 301.6V355.6M550.9 302.3V348.9M552.2 299.3V345M553.5 299.6V339.8M554.8 291.1V336.5M556.1 288.4V328.8M557.4 284.9V318M558.7 283.4V313.9M560 278.5V316.5M561.3 278.8V312.9M562.6 275.2V303.9M563.9 272.3V297.1M565.2 271.7V301.6M566.5 263.8V310.2M567.8 263.4V304.4M569.1 264.6V296.1M570.4 266.8V290.7M571.7 263V286.1M573 260.2V291M574.3 255.4V290.9M575.6 251.8V295.3M576.9 251.1V286.7M578.2 255V287.4M579.5 253.9V278.8M580.8 255.5V280.6M582.1 250.2V280.9M583.4 250.1V271.9M584.7 252.5V268.1M586 249.8V275.2M587.3 248.5V272.5M588.6 245.5V270.3M589.9 240.8V273.5M591.2 235.9V265.5M592.5 234.6V260.5M593.8 230.6V264.7M595.1 229.1V263.2M596.4 227.3V263.3M597.7 232.8V265.7M599 234.7V263.1M600.3 237.5V262M601.6 238.5V267.9M602.9 230.8V264.6M604.2 234.1V265.9M605.5 230V267.9M606.8 235.9V270.9M608.1 236.9V281.2M609.4 240V281.4M610.7 242.2V282.7M612 246.2V281.9M613.3 248.1V278.5M614.6 244.5V283.8M615.9 244.4V288.9M617.2 246.3V290.3M618.5 246.6V291.6M619.8 243V292.2M621.1 245.1V290.7M622.4 242.3V285.4M623.7 248.7V275.7M625 243.2V271M626.3 241.1V268.3M627.6 232.4V265.2M628.9 222.1V258M630.2 225.2V256.5M631.5 217.9V258.5M632.8 216V253M634.1 213.6V241.8M635.4 211.5V233.2M636.7 205.3V224.6M638 202.4V224.9M639.3 192.7V224.5M640.6 198.2V227.4M641.9 191.8V225M643.2 172.1V226.1M644.5 182.7V228.7M645.8 186.1V227.8M647.1 183.3V222M648.4 175.1V226.8M649.7 181.8V228.7M651 192.5V233.7M652.3 190.6V239.5M653.6 200.8V244.5M654.9 203V250.6M656.2 207.7V254.6M657.5 205.1V258.9M658.8 207.8V261.7M660.1 202.1V259.3M661.4 210.2V263.9M662.7 213.7V266.3M664 215.4V268.5M665.3 216.5V264.6M666.6 205.6V265M667.9 198.2V262.2M669.2 198.2V259.2M670.5 193.5V257.7M671.8 201.8V253.6M673.1 204.5V256.1M674.4 200.2V261.6M675.7 206.7V263.2M677 217.2V266.5M678.3 223.2V270.5M679.6 244.6V273.8M680.9 243.5V277.7M682.2 250.6V289M683.5 262.2V298.9M684.8 272V304.6M686.1 275.4V307.2M687.4 277.2V312.8M688.7 279.6V317.4M690 292.2V317.7M691.3 295.2V322.8M692.6 298.8V330M693.9 286.4V326.7M695.2 290.5V321.9" stroke="url(#gd)" stroke-opacity="0.42"/>
<path d="M118 202.7V232.3M119.3 204.2V231.7M120.6 208.3V226.5M121.9 214.9V227.8M123.2 207.6V230.8M124.5 206.6V234.9M125.8 215.8V234.6M127.1 225.4V235.4M128.4 223.9V237.4M129.7 228.8V238.9M131 228.6V241M132.3 227.7V244.7M133.6 236.8V247.6M134.9 236.7V250.4M136.2 226.9V250.8M137.5 227.9V252.4M138.8 229.6V255.2M140.1 227.7V255.5M141.4 223.5V254M142.7 221.5V250.9M144 217.9V250.3M145.3 222.7V251.1M146.6 227.5V255M147.9 226V256M149.2 229.4V257.4M150.5 230.4V260M151.8 238.4V261.3M153.1 241.3V263.6M154.4 246.1V264.8M155.7 253V269.4M157 252.5V269.6M158.3 240V268M159.6 249.1V269.7M160.9 240.5V270.5M162.2 236.8V271.6M163.5 242V267.2M164.8 242.5V267.2M166.1 238.9V265M167.4 235.7V264.6M168.7 234V262.9M170 229.7V261M171.3 232.1V258M172.6 231.9V256.2M173.9 228.6V257.4M175.2 231.2V259.2M176.5 229.9V261.4M177.8 230.4V262.5M179.1 233.2V264.2M180.4 240.2V263.6M181.7 242.9V266.8M183 243V268.7M184.3 246.9V268.7M185.6 250.1V269.6M186.9 255.2V270.6M188.2 259V272.8M189.5 264.5V275.7M190.8 265.6V279.1M192.1 262.7V278.4M193.4 259.6V276.9M194.7 263.3V276.1M196 263V274M197.3 264.6V275.4M198.6 265V274M199.9 264V273.8M201.2 261.3V274.7M202.5 263V273M203.8 261.4V271M205.1 258.3V267.2M206.4 254.2V266.3M207.7 255.4V268.9M209 253.5V266.8M210.3 255.8V265.5M211.6 256.1V266.1M212.9 258.3V268.2M214.2 256V269.8M215.5 259.6V269.7M216.8 262.2V273.8M218.1 262.3V272.5M219.4 261.8V276.9M220.7 263.2V275.3M222 263.1V277M223.3 262.1V280.6M224.6 265.3V281.3M225.9 266.6V278.7M227.2 266.9V280.2M228.5 266V280.4M229.8 265V281.3M231.1 264.9V282.5M232.4 266.3V282M233.7 267.4V283.9M235 266.8V285.8M236.3 271V289.1M237.6 271.8V291.2M238.9 275.3V291.9M240.2 276.8V291.5M241.5 276.3V288.7M242.8 278.1V290M244.1 279.4V292.7M245.4 278.2V290.5M246.7 275.6V288.1M248 274.2V287.1M249.3 273.9V287.9M250.6 275V289.9M251.9 271.4V287.3M253.2 270.4V283.5M254.5 269.4V283.3M255.8 269.4V282.1M257.1 273V284.4M258.4 274.7V286.8M259.7 272.9V287.3M261 277.6V290.9M262.3 281.1V293.2M263.6 285.5V293.4M264.9 287.9V296.9M266.2 287.4V299M267.5 289.4V302.6M268.8 291.6V307.7M270.1 294V310M271.4 295.3V311.8M272.7 295.9V311.8M274 296.7V310.9M275.3 299.3V311.8M276.6 302.4V314.3M277.9 303.5V316.7M279.2 305.8V319.6M280.5 305V318.7M281.8 305.2V319.9M283.1 306.6V319M284.4 304.5V317.6M285.7 307.6V317.7M287 307.6V320.4M288.3 304.9V322.3M289.6 300.5V317.9M290.9 298.4V314.8M292.2 300.2V312.1M293.5 299.7V312.8M294.8 299.4V313.9M296.1 303.2V316.7M297.4 303.3V317.7M298.7 303.5V317.3M300 307.3V317.9M301.3 311.9V318.3M302.6 315.5V321.5M303.9 318.9V324.2M305.2 325.2V330.3M306.5 332.4V338.1M307.8 341V345.7M309.1 349.7V355.4M310.4 359V365M311.7 367.3V373.8M313 374.9V383.1M314.3 387.7V398.1M315.6 401.1V411.2M316.9 411.6V421.1M318.2 418.2V428.1M319.5 423.1V431.7M320.8 426.7V434.9M322.1 430V436.8M323.4 432.4V439.3M324.7 435.7V440.1M326 436.2V441.9M327.3 436.9V442.5M328.6 438.5V443.6M329.9 438.7V445.4M331.2 438.1V444.2M332.5 437.9V445.4M333.8 437.4V445.4M335.1 438.5V445.9M336.4 439.5V447.4M337.7 441.6V447.8M339 442.3V447.4M340.3 442V446.8M341.6 441.2V447M342.9 440.1V446.5M344.2 438.9V445.4M345.5 438.2V444.7M346.8 437.1V444.7M348.1 437.6V444.9M349.4 438.1V445.2M350.7 439.1V445.1M352 438.6V446.3M353.3 438.7V446.9M354.6 438.6V446.1M355.9 438.9V445.7M357.2 436.5V444.1M358.5 436.3V444.6M359.8 436.3V444M361.1 433.2V441.9M362.4 431.3V441.9M363.7 429.3V438.7M365 428.8V437.9M366.3 428.9V437M367.6 428.8V436.3M368.9 428.9V435.9M370.2 429.1V435.3M371.5 427V435.7M372.8 426.9V434.1M374.1 427.1V434.7M375.4 427.3V434.1M376.7 427V433.4M378 426.1V433.8M379.3 426.9V433.3M380.6 426.3V431.6M381.9 427V432M383.2 426.8V431.2M384.5 425.2V431.9M385.8 422.6V431.4M387.1 423.3V427.8M388.4 421.6V426.5M389.7 421V425.3M391 420.6V426.9M392.3 421.5V427.8M393.6 421V427.9M394.9 420.3V427M396.2 420.5V426.2M397.5 420.2V427.6M398.8 421.8V428.1M400.1 422.1V429.4M401.4 423.6V429.5M402.7 420.8V430.1M404 422V430.2M405.3 421.4V429.5M406.6 422.7V429M407.9 422.9V428.6M409.2 423.3V430.2M410.5 426.2V433.4M411.8 428.5V435.2M413.1 427.6V435M414.4 428.4V435.5M415.7 428.2V435.6M417 426V431.5M418.3 423.6V430.6M419.6 421.5V428.7M420.9 419.6V428.7M422.2 418.5V428.9M423.5 417.9V426.9M424.8 418.1V425.9M426.1 418.8V425M427.4 415.6V423.3M428.7 410.6V418.7M430 408.9V415.4M431.3 406.3V413.9M432.6 406.3V413.6M433.9 403.9V413.5M435.2 402.4V412.5M436.5 401.4V409.9M437.8 400.2V409.5M439.1 400.9V408.5M440.4 400.1V409M441.7 400.9V409.6M443 401.6V408.4M444.3 400.8V408.6M445.6 400.3V407.3M446.9 399.7V407.7M448.2 398.9V408.1M449.5 399.3V407.5M450.8 401.6V410.1M452.1 404.8V411.5M453.4 407.8V413.8M454.7 409.5V417.5M456 410.5V419.3M457.3 411.5V419.6M458.6 412.3V419.8M459.9 412.3V419.6M461.2 413.6V418.9M462.5 412.7V419.4M463.8 412V420.9M465.1 411.5V420.9M466.4 410.9V419.8M467.7 410.8V418.9M469 410V418.4M470.3 407.8V416.1M471.6 406V414.9M472.9 405.3V413.2M474.2 404.1V412.8M475.5 404.7V411.9M476.8 403.4V411.9M478.1 403.2V411.5M479.4 402V411.2M480.7 400.3V410.5M482 400.6V410.9M483.3 399.4V409.9M484.6 397.7V409.6M485.9 398.6V407.6M487.2 398.6V406.3M488.5 399.5V406.7M489.8 399.9V407.8M491.1 401V408.5M492.4 401.2V408.2M493.7 400.9V407.1M495 400V406.3M496.3 400.4V404M497.6 399.6V403.6M498.9 399.7V404.1M500.2 402V406.1M501.5 399.7V405.6M502.8 397.3V404.1M504.1 394.8V405M505.4 393.3V404.6M506.7 392.2V404.6M508 393.2V405.2M509.3 392.6V406.2M510.6 394V409.8M511.9 394.7V411M513.2 392.4V410M514.5 392.7V404.6M515.8 390.7V401.7M517.1 384V400M518.4 379.2V398M519.7 376.9V392.6M521 371V390.3M522.3 362.6V389.1M523.6 355.4V383M524.9 350.1V369.9M526.2 344.4V365.3M527.5 339.2V367.5M528.8 334.5V361.1M530.1 331V360.6M531.4 333.2V356M532.7 328.8V355.4M534 326.4V356.1M535.3 326.4V360.7M536.6 324.6V359.9M537.9 322V356.9M539.2 320.9V366.1M540.5 320.7V363.6M541.8 320.2V356M543.1 320.3V351.4M544.4 317.9V352.6M545.7 310.9V337.8M547 309.4V332.9M548.3 307.5V334.9M549.6 306.8V339.8M550.9 303.8V337.9M552.2 302.9V338.1M553.5 303.3V339.1M554.8 297.5V340.6M556.1 294.6V335.4M557.4 287.9V328.1M558.7 287.2V322.6M560 282.9V324.6M561.3 279.7V322M562.6 279.3V320.1M563.9 270.5V318.2M565.2 264.9V317.6M566.5 257.7V314.4M567.8 257.9V305.8M569.1 260.2V305.3M570.4 257.2V302.3M571.7 256V303.4M573 254.2V298.7M574.3 253.7V297M575.6 251.4V288.3M576.9 253.1V291.7M578.2 248.8V278.6M579.5 246.8V276.3M580.8 248.2V275.9M582.1 247V271.1M583.4 245V276.6M584.7 240.7V266.4M586 241.5V267.3M587.3 242.9V264.3M588.6 239.7V256.9M589.9 240.7V253.7M591.2 233.9V249.3M592.5 227.9V245.5M593.8 228.4V248.3M595.1 227.4V250.2M596.4 225.8V251.4M597.7 224.2V258.5M599 227.8V255.1M600.3 233.6V258.3M601.6 231.3V261.5M602.9 229.7V263.2M604.2 226.5V265.8M605.5 225.9V261.4M606.8 231.3V264.8M608.1 234V268.3M609.4 235.6V266M610.7 243.4V271.9M612 240.5V263.5M613.3 242.3V259.7M614.6 242.6V262.4M615.9 241.5V265.1M617.2 238.7V268.4M618.5 233.4V265.5M619.8 239.2V269.7M621.1 238.6V277.3M622.4 238V274.5M623.7 237.7V271M625 223.2V263.4M626.3 212.8V257.7M627.6 210.5V250.3M628.9 209.5V244.6M630.2 204.3V248.8M631.5 207.4V249.9M632.8 204.8V249M634.1 195.6V246.3M635.4 191.5V240.9M636.7 192V237.6M638 190.6V239.1M639.3 190.9V230.9M640.6 188V232.7M641.9 186.3V230.3M643.2 190.6V228.8M644.5 189V232.7M645.8 191.8V231.3M647.1 192.7V226.7M648.4 188.2V228.8M649.7 187.1V231.9M651 196.5V238.7M652.3 212.3V242.2M653.6 219V246.7M654.9 217.2V249.1M656.2 219.3V254.1M657.5 220.7V254.5M658.8 208.6V253.7M660.1 212.8V255.3M661.4 208V258.1M662.7 217.3V261.5M664 226.2V263.5M665.3 229.3V262.1M666.6 223.9V257.1M667.9 213.1V256.2M669.2 205.5V257.6M670.5 217.9V258.5M671.8 221.4V259.2M673.1 230.4V259.6M674.4 227.3V263.4M675.7 224.9V270.2M677 238.3V275.9M678.3 237.9V280.5M679.6 248.7V282.8M680.9 250.6V288.5M682.2 263.7V298.3M683.5 263.6V311M684.8 277V321.5M686.1 280.7V324.9M687.4 279.8V328.2M688.7 264V323.4M690 272.8V326.5M691.3 278.7V323.7M692.6 284.3V326.9M693.9 283.4V321.7M695.2 285V318" stroke="url(#gd)" stroke-opacity="0.42"/>
<path d="M319.8 413.4V448M320.9 419.2V436.9M322 418.4V441.4M323.1 419.8V442.9M324.2 425.4V453.2M325.3 435.7V445.3M326.4 430.2V445.6M327.5 422.2V442.2M328.6 431.1V447.6M329.7 437.4V444.9M330.8 424.6V449.8M331.9 424V449.8M333 434V446.2M334.1 438.7V443.2M335.2 427.7V460.7M336.3 425.6V458.3M337.4 427.4V456.9M338.5 435.3V464.2M339.6 433.7V449.6M340.7 432.9V462.1M341.8 429.3V455.2M342.9 429.1V450M344 429.6V455.8M345.1 440V461.6M346.2 426.4V458.7M347.3 436.6V458.7M348.4 435.1V445.4M349.5 425.7V457.6M350.6 437V453.1M351.7 438.5V461M352.8 435.7V460M353.9 433.6V454.7M355 435.9V444.3M356.1 439.7V446.4M357.2 432.8V444.1M358.3 430.9V446.7M359.4 434.1V449M360.5 432.6V449M361.6 426V449.4M362.7 435V440.7M363.8 432.4V446M364.9 424.4V442.1M366 425.1V438.2M367.1 425.6V445.6M368.2 416.7V443.4M369.3 418.9V435.4M370.4 417.7V443.3M371.5 420.8V447.8M372.6 417.2V439.6M373.7 423V450M374.8 416.6V449.4M375.9 420.3V445.8M377 417.5V441.8M378.1 417.1V443.4M379.2 421.8V436M380.3 412.4V443.4M381.4 420.5V438.7M382.5 409.1V443.1M383.6 408.4V445.1M384.7 421.4V437.5M385.8 408.7V444.2M386.9 405.9V431.9M388 417.1V437.8M389.1 417.8V427.5M390.2 412.6V438.3M391.3 412.4V433.6M392.4 413.5V425.6M393.5 409.2V440.6M394.6 405.8V433.2M395.7 415.3V440.3M396.8 418.7V426.3M397.9 406.3V432.1M399 417.1V432.6M400.1 421.3V444.1M401.2 415.4V445.3M402.3 417.6V438.2M403.4 413V427.4M404.5 410.4V428.7M405.6 407.1V436.8M406.7 409.6V440.8M407.8 421.3V428.8M408.9 414.1V441.4M410 425.3V440.2M411.1 423V438.6M412.2 420.7V435.7M413.3 410.7V440.9M414.4 422.4V431.6M415.5 411.7V445M416.6 424.6V431.5M417.7 413.1V432.3M418.8 409V439.9M419.9 411.5V426.5M421 407.4V430.5M422.1 411.6V428.5M423.2 414.9V424.9M424.3 411.3V429.2M425.4 402.1V432.3M426.5 404.9V434.6M427.6 410.2V419.9M428.7 407.4V427.3M429.8 402.1V426.7M430.9 408.9V422.6M432 404.6V419M433.1 391V423.2M434.2 397.1V426.6M435.3 404V414M436.4 403.9V419.1M437.5 390.9V422.1M438.6 402.6V418.3M439.7 388.8V408.7M440.8 385.2V419M441.9 386.5V410.3M443 394.6V410.6M444.1 396.1V418.3M445.2 395.2V415.1M446.3 389.5V421.1M447.4 397.7V406.6M448.5 395.6V405.6M449.6 397.7V421.2M450.7 399.7V412.1M451.8 390.2V420.2M452.9 401.7V425.8M454 394.7V424.7M455.1 398.9V424.6M456.2 410.6V423.5M457.3 405.8V425M458.4 401.1V420.1M459.5 397.5V432M460.6 409.7V430.7M461.7 404.6V422.5M462.8 402.9V429.7M463.9 404.2V420.9M465 403.2V428.1M466.1 414.3V433.3M467.2 403.8V429.2M468.3 407V431.5M469.4 398.1V420.3M470.5 397.6V429.3M471.6 404V419.5M472.7 394.2V413.6M473.8 407.6V426.1M474.9 396.9V421.1M476 402.9V419.7M477.1 404.3V417.8M478.2 405V410.8M479.3 406.1V414.6M480.4 393.6V412.7M481.5 392.3V422M482.6 393.3V417.7M483.7 400.3V412.2M484.8 402.5V413.2M485.9 390.3V413.5M487 401.9V417.9M488.1 394.8V411.6M489.2 391.2V418.1M490.3 395.2V408.2M491.4 394.1V414.2M492.5 400.9V414M493.6 389.7V412M494.7 386.3V406.9M495.8 398.1V410.8M496.9 388.9V405.3M498 384.2V415.8M499.1 397.7V410.1M500.2 393.2V405.7M501.3 388.7V414.2M502.4 395.9V409.9M503.5 387.8V404.4M504.6 385.4V408.7M505.7 385.7V407.2M506.8 386.4V403M507.9 394.2V405.9M509 387V402M510.1 393.4V407.7M511.2 394V410.6M512.3 398.6V407M513.4 391.9V409.2M514.5 389.9V399.7M515.6 379.5V404.1M516.7 383.5V394.8M517.8 385.1V398.1M518.9 374.9V390.9" stroke="#34495c" stroke-opacity="0.12" stroke-width="1"/>
<path d="M319.8 416V441.8M320.9 424.9V447.4M322 425.5V441.1M323.1 421.2V443.1M324.2 419.1V446.9M325.3 429.7V439.4M326.4 424.1V444M327.5 430.1V453.7M328.6 430.8V459.8M329.7 433V449.5M330.8 438V443.3M331.9 437.7V453.6M333 437.8V452.2M334.1 437.5V458M335.2 440.3V458.5M336.3 425.7V462.6M337.4 434.6V460.8M338.5 440.6V464.5M339.6 426.4V459.7M340.7 426V457.5M341.8 425.5V452.5M342.9 440.5V448.8M344 426.4V460.1M345.1 434.4V457.3M346.2 425.4V450.6M347.3 436.6V462.5M348.4 434.9V461.5M349.5 437V462.3M350.6 440.9V451.1M351.7 434V445.7M352.8 427.1V461.7M353.9 433.8V456.8M355 435.9V449.2M356.1 428.4V452.6M357.2 438V460.9M358.3 421.8V453.5M359.4 422.5V448M360.5 430V452.2M361.6 435V440.2M362.7 425.9V441.6M363.8 420.4V448.3M364.9 425.6V444.7M366 420.2V437.9M367.1 418.3V450.2M368.2 428.1V437.2M369.3 417.9V446.3M370.4 416.7V452M371.5 417.8V450.3M372.6 426.6V440.5M373.7 413.9V445.7M374.8 417.9V439.7M375.9 425V447.7M377 428V447.8M378.1 413.2V448.3M379.2 427.4V440.7M380.3 414.4V437.8M381.4 409.7V441.9M382.5 411.2V430.3M383.6 408.5V432.1M384.7 419.6V435.1M385.8 410.7V429.4M386.9 416V442.1M388 412.6V432M389.1 412.3V428.5M390.2 420.5V432.9M391.3 417V434.2M392.4 419.6V427.7M393.5 408.9V438.7M394.6 419.6V439.6M395.7 408.1V437.4M396.8 412.2V427.5M397.9 417.3V426.2M399 407.2V441.1M400.1 423.2V442.5M401.2 421.3V445.2M402.3 411.9V434.2M403.4 414.7V438.1M404.5 414.3V436.2M405.6 408.6V428M406.7 417.2V443.1M407.8 411.3V435M408.9 424.7V441.2M410 419.4V437.5M411.1 422.9V433.5M412.2 410.2V436.4M413.3 412.6V432.9M414.4 412.4V443.2M415.5 415.2V438.1M416.6 421.2V431.1M417.7 414.1V443.8M418.8 414.8V438.7M419.9 418V435.1M421 406.1V440.6M422.1 412.2V436M423.2 406.3V434.6M424.3 415.9V424.3M425.4 406.1V425.8M426.5 406.1V428.4M427.6 404.1V425M428.7 412.4V426.6M429.8 398.8V426M430.9 402.5V426.9M432 399.6V412.4M433.1 401.9V413.7M434.2 405.3V413.8M435.3 395.8V410.4M436.4 402.1V411.7M437.5 399.7V413.3M438.6 388.2V420.6M439.7 386.1V407.6M440.8 399.2V413.6M441.9 394.1V409.6M443 400.8V421.8M444.1 395.5V410.2M445.2 399V412.1M446.3 391.9V410.6M447.4 401.6V408.8M448.5 398.2V418.2M449.6 398.3V421.4M450.7 401.4V410.5M451.8 396.4V412.5M452.9 394V424.1M454 401V415.5M455.1 399.7V427.1M456.2 408.1V421.4M457.3 403.6V428.7M458.4 398.6V419.6M459.5 409.3V419.9M460.6 416V420.4M461.7 412.6V422.1M462.8 405.5V432.5M463.9 404.2V420M465 408.5V423.1M466.1 399.1V420.7M467.2 412.2V424.1M468.3 414.1V432.3M469.4 410.7V426.4M470.5 398.3V422.3M471.6 400.4V425.1M472.7 394.9V420.1M473.8 406.7V417.6M474.9 399.2V415.2M476 396.1V418M477.1 391V414.5M478.2 402V414.8M479.3 395.9V416.4M480.4 396.7V414.4M481.5 402.4V410.2M482.6 402.6V417.7M483.7 390.2V417.5M484.8 390.9V417.3M485.9 396.9V407.6M487 392.7V419.4M488.1 403.6V408.3M489.2 396.5V421M490.3 397.1V412.7M491.4 402.6V416.7M492.5 403.6V413.3M493.6 396.7V410.9M494.7 393.4V417.1M495.8 392.2V409.3M496.9 396.8V408.6M498 389.1V412.1M499.1 387.9V406.5M500.2 397.8V405.9M501.3 386.5V404.2M502.4 390.4V408.4M503.5 398.9V408M504.6 386.9V408.9M505.7 396V404.7M506.8 388V398M507.9 396.1V402.6M509 393.5V407M510.1 397.9V402.7M511.2 391.2V406.7M512.3 389.3V408.3M513.4 392.4V410.8M514.5 386.8V403.8M515.6 386.4V404M516.7 379.8V394.6M517.8 383V401M518.9 375.9V397.2" stroke="#34495c" stroke-opacity="0.12" stroke-width="1"/>
<path d="M319.8 418.3V433M320.9 423.1V447.4M322 419.4V437.4M323.1 418.4V452.8M324.2 434.4V450.4M325.3 429.6V440.5M326.4 431.5V452.2M327.5 436V447M328.6 427V446.2M329.7 424.8V453.5M330.8 429V443.5M331.9 438.6V454.3M333 436.8V452.7M334.1 424.7V454.2M335.2 433.3V445.8M336.3 439.6V449.4M337.4 426.2V459.8M338.5 440.6V447.4M339.6 426.5V464.3M340.7 433.6V450.9M341.8 433.1V462M342.9 437.5V459.5M344 432.8V454.6M345.1 424.7V444.3M346.2 435.9V446M347.3 438.3V460.3M348.4 440.8V462M349.5 435.2V455.7M350.6 432.9V446.6M351.7 437.3V448.3M352.8 435.6V444.6M353.9 430.9V448.5M355 428.6V453.6M356.1 425.3V460.7M357.2 434.1V454.4M358.3 425.5V447.9M359.4 428.3V455.3M360.5 422.3V454.6M361.6 427.5V448.4M362.7 428.3V449.7M363.8 416.3V437.2M364.9 420.7V449.1M366 425V435.9M367.1 427.4V451.7M368.2 418.2V447M369.3 414.5V450.6M370.4 430.8V442M371.5 418.1V448M372.6 421.8V434.5M373.7 418.8V445M374.8 422.1V433.1M375.9 425.9V435.2M377 420.1V446.6M378.1 425.6V437.7M379.2 424.3V433.4M380.3 424.6V440.3M381.4 412.9V446.8M382.5 409.7V446.6M383.6 416.3V442.7M384.7 420.3V439.8M385.8 409.1V432.8M386.9 420.3V431.3M388 412.1V438.1M389.1 414.9V429.6M390.2 412.9V427.7M391.3 406.7V439.2M392.4 419.7V431.2M393.5 405.4V429.4M394.6 406.4V440.7M395.7 409.1V437.5M396.8 415V429.9M397.9 414.5V427.1M399 421.1V437.4M400.1 419.8V431.6M401.2 407.8V440.5M402.3 415.6V437.1M403.4 423.7V443.1M404.5 415.8V431.4M405.6 420.5V439.7M406.7 413.8V435.9M407.8 415.5V443.8M408.9 406.1V435.1M410 424.5V445.8M411.1 422.4V444.4M412.2 428.6V445.1M413.3 419.3V446.1M414.4 423.4V440.8M415.5 408.5V436.1M416.6 425.2V444.2M417.7 411V428.4M418.8 417.5V429.7M419.9 415.2V439.4M421 411.2V432M422.1 412V436.9M423.2 419.8V432.1M424.3 408.4V435M425.4 411.4V439.6M426.5 413V423.8M427.6 399.9V434.4M428.7 401.8V432.4M429.8 401.5V421.9M430.9 402.2V419.2M432 401.1V418.5M433.1 403.3V417.7M434.2 406V411.7M435.3 394.1V417.7M436.4 390V418M437.5 403.3V417.7M438.6 391.7V420M439.7 390.2V422.3M440.8 399.1V415.6M441.9 398.9V409M443 389.6V409.4M444.1 401.8V413.8M445.2 400.8V408.7M446.3 401V418.3M447.4 394.2V421.2M448.5 397.6V411M449.6 394.6V413.6M450.7 390.7V421M451.8 397.3V415.1M452.9 398.2V414.6M454 394.7V415.5M455.1 402.3V428.3M456.2 409.9V421.5M457.3 403.4V429.4M458.4 396.9V432.2M459.5 398.5V430.6M460.6 404.9V420.7M461.7 399.9V426.9M462.8 405V425.8M463.9 400.7V429.8M465 403.2V432.3M466.1 409.6V424.4M467.2 408.1V423.2M468.3 414.7V423.1M469.4 396.7V425.5M470.5 404V429.3M471.6 402.4V424.8M472.7 398.1V424.9M473.8 408.2V424.3M474.9 401.9V420.2M476 406.8V420.1M477.1 403.2V414.8M478.2 392.2V418.8M479.3 388.7V421.4M480.4 391.5V414.6M481.5 399.2V413.8M482.6 387.3V419.5M483.7 393.4V412.1M484.8 390.1V415.2M485.9 400.3V420.4M487 398.5V415.8M488.1 395.1V407.9M489.2 401.3V417.7M490.3 387.9V413.2M491.4 397.3V409.6M492.5 394.2V416.6M493.6 386.7V408.6M494.7 387.5V410.9M495.8 384.6V408.5M496.9 383.8V405.8M498 385.7V415.3M499.1 394.8V412.3M500.2 394.8V411.2M501.3 389.2V406.9M502.4 396.7V409M503.5 387.5V406.9M504.6 385.6V414M505.7 394.6V405.3M506.8 389.6V400.1M507.9 387.7V410.1M509 396.4V403.9M510.1 390V402.4M511.2 394.3V410.4M512.3 390.8V412.9M513.4 392.6V404.4M514.5 385.4V397.6M515.6 387.8V400.1M516.7 379.8V400.1M517.8 377.4V391.1M518.9 376.8V389.1" stroke="#34495c" stroke-opacity="0.12" stroke-width="1"/>
</g>
</g>
<g fill="none" stroke-width="3.0" stroke-linejoin="round" stroke-linecap="round">
<path d="M118 227 L119.2 227 L120.5 224.2 L121.7 221.1 L122.6 223.7 L123.6 226.1 L124.5 228 L125.4 229.8 L126.9 230.6 L128.3 231.2 L129.8 231.9 L130.5 233.6 L131.2 235.1 L131.9 237.7 L132.6 239.6 L133.3 239.6 L134 242 L134.7 243.3 L135.4 245.8 L136.5 248.2 L137.6 249.4 L138.6 248.6 L139.7 251.1 L140.6 248 L141.6 248.5 L142.5 246.1 L143.4 244.4 L144.6 247.5 L145.9 246.4 L147.1 248 L148.4 248.5 L149.6 249.8 L150.6 251.1 L151.6 253.8 L152.6 255.1 L153.5 257 L154.5 259.1 L155.5 258.7 L156.5 262 L158.2 261.2 L159.9 259.4 L161.6 259.1 L163.3 260.3 L164.4 260 L165.5 257.8 L166.6 256.7 L167.7 255.7 L168.8 255.4 L169.9 253.6 L171 253.1 L172.1 250.6 L173.2 248.9 L174.2 251.3 L175.3 253.3 L176.3 254.4 L177.3 256.2 L178.4 257.5 L179.4 259.4 L180.4 261.2 L181.5 262.2 L182.5 263.6 L183.5 263.8 L184.6 264.3 L185.6 263.5 L186.6 266.4 L187.6 268.3 L188.6 270.5 L189.6 270.2 L190.6 271.9 L192.2 271.1 L193.7 269 L195.2 270 L196.8 270.4 L198.4 267.9 L199.9 267.7 L201.4 268.4 L203 265.6 L203.6 265.1 L204.2 264.6 L204.9 263.9 L205.5 259.9 L207.1 260 L208.6 261.8 L210.1 264.3 L211.7 263.9 L213.4 264 L215.1 263.9 L216.8 266.2 L218.2 266.5 L219.6 268.2 L221 269.6 L222.4 271.2 L223.9 271.7 L225.5 272.3 L227.1 273.7 L228.6 274.2 L229.8 273.5 L231.1 274.3 L232.3 276.6 L233.6 277.7 L234.8 278.3 L236.1 280.1 L237.3 284.7 L238.6 284.8 L239.8 286 L241.7 285.2 L243.5 283.8 L245.3 284.1 L247.2 283.7 L248.4 284.6 L249.7 284 L250.6 284.1 L251.6 283.1 L252.5 281.2 L253.4 277.1 L254.4 276.6 L255.3 274.7 L256.7 276.4 L258.2 277.5 L259.6 278.2 L260.2 281.5 L260.7 283.1 L261.3 285.9 L261.8 286.1 L262.4 287.6 L262.9 290.7 L263.5 292.1 L264 292.7 L264.6 293.6 L265.5 294.9 L266.4 296.7 L267.3 299.1 L268.1 300.5 L269 302.5 L269.9 304.3 L270.8 305.2 L271.9 307.4 L273.1 308.7 L274.2 309.2 L275.3 310.1 L276.5 311.3 L277.6 311.9 L279.3 310.5 L281.1 310.7 L282.8 310.2 L284.5 310.7 L285.5 311.8 L286.6 313.8 L287.6 315.7 L288.6 313.9 L289.6 313 L290.6 311 L291.7 309.6 L292.7 309.4 L293.7 308.3 L295.4 308.6 L297 308.4 L298.7 310 L300 313.4 L301.4 312.2 L302 315.4 L302.6 317.1 L303.3 319.6 L303.9 321.9 L304.2 321.7 L304.5 324.9 L304.8 325.2 L305.1 326.4 L305.4 328.6 L305.6 330 L305.9 331.9 L306.1 333 L306.4 333.9 L306.6 336.1 L306.9 337.1 L307.1 340.7 L307.4 342.4 L307.6 345.2 L307.9 345.1 L308.1 345.1 L308.4 345.7 L308.6 348.5 L308.9 350.1 L309.1 353.2 L309.4 354 L309.6 355.3 L309.9 358.4 L310.1 360.2 L310.4 363 L310.6 365.4 L310.9 367.1 L311.1 367.4 L311.4 368.6 L311.7 373 L312 373.8 L312.3 375.5 L312.5 377.1 L312.8 378.5 L313.1 380 L313.4 381.2 L313.5 382.6 L313.6 382.7 L313.8 386.8 L313.9 388.2 L314 388.6 L314.1 391.2 L314.3 393.5 L314.4 393.6 L314.6 395.2 L314.8 398.7 L314.9 400.4 L315.1 402 L315.3 404.2 L315.4 405 L315.6 406.1 L315.8 409.1 L316 410 L316.2 411.3 L316.4 413.5 L316.7 414.9 L316.9 415.2 L317.1 419.1 L317.3 420.1 L317.8 423.3 L318.3 424.6 L318.8 424.9 L319.3 428.1 L319.8 429 L320.6 429.6 L321.4 431.3 L322.2 431.1 L323 434 L323.8 435.3 L325.3 436.8 L326.8 437.6 L328.3 440.1 L329.8 441.7 L331.8 442.6 L333.7 443.6 L335.4 444.2 L337 444.9 L338.7 446.1 L340.2 444.3 L341.8 443.3 L343.3 443.7 L344.9 442.1 L346.7 440.8 L348.5 441.6 L350.3 442.7 L352.1 444.4 L353.9 442.6 L355.8 441.1 L357.6 440.9 L359.4 440.2 L360.6 439.2 L361.9 437.2 L363.1 436.2 L364.4 434.2 L366 434.9 L367.6 434.3 L369.3 434 L370.9 432.7 L372.6 430.7 L374.4 430.8 L376.1 430.4 L377.9 431.1 L379.6 431 L381.1 429.7 L382.5 428.6 L384 426.8 L385.4 426.2 L386.9 425.7 L388.3 424.5 L389.8 422.8 L391.2 423.7 L393 423 L394.9 425.1 L396.7 426 L398.5 427 L399.9 426.6 L401.3 428.4 L402.8 425.6 L404.2 424.5 L406.4 423.9 L408.6 424.4 L409.8 426.1 L411 429.1 L412.2 431.5 L414 429.9 L415.8 428.9 L417 426.9 L418.1 425.1 L419.3 423 L420.4 422.8 L421.6 422.9 L423.8 422 L426 422.3 L426.6 419.8 L427.2 417.8 L427.8 416.5 L428.5 416.3 L429.1 414.3 L429.7 413.6 L430.3 411.5 L431.8 409.6 L433.2 407.4 L434.7 407.1 L436.1 406.1 L438.1 406.4 L440 405.6 L441.6 404.3 L443.1 406.1 L444.7 407 L446.1 403.3 L447.6 402.5 L449 403 L449.8 403.4 L450.6 405 L451.4 407.7 L452.2 409.6 L453 411.4 L453.8 413.2 L454.6 413.5 L456.1 416.8 L457.6 417.4 L459.1 419.7 L460.6 419.2 L462.1 420.1 L463.7 419.2 L465.2 418 L466.8 417.5 L468.3 416.9 L469.5 416.1 L470.8 414.7 L472 413.2 L473.3 412.1 L474.5 411.9 L476.1 410.4 L477.7 409.7 L479.3 408.5 L480.8 405.6 L482.4 404.6 L484 403.7 L485.6 402.4 L487.3 403.4 L488.9 403.2 L490.6 405.3 L492.3 404.4 L494 405 L495.5 403.7 L497 400.7 L498.4 402.4 L499.9 404.2 L501.1 402.4 L502.2 401.2 L503.4 399.2 L504.6 397.9 L505.7 397.4 L506.9 396.1 L508.1 398.6 L509.4 397.6 L510.6 398.8 L511.9 400.4 L512.6 400.8 L513.4 400 L514.1 398.6 L514.9 397.3 L515.5 396.4 L516.1 394.3 L516.7 391.6 L517.3 389.8 L518 387.2 L518.6 385.5 L519.2 384.4 L519.8 382.3 L520.2 381 L520.7 379.1 L521.1 376.5 L521.5 374.3 L521.9 374.3 L522.4 373 L522.8 372.3 L523.1 370.3 L523.5 368.5 L523.8 367.1 L524.1 365 L524.5 364.6 L524.8 363.3 L525.1 361.3 L525.5 358.2 L525.8 356.2 L526.3 355 L526.8 354.4 L527.3 352.3 L527.8 350.4 L528.3 349.1 L528.8 347.2 L529.6 345.3 L530.4 342.7 L531.2 342.6 L532 340.7 L532.8 338.6 L533.8 337.1 L534.8 334.5 L535.7 332.1 L536.7 330 L537.7 330.1 L538.7 328 L539.7 327.4 L541.7 325.6 L543.7 323.5 L544 322.4 L544.4 320.9 L544.7 319.4 L545 320 L545.4 318.2 L545.7 315.7 L547 315.6 L548.4 314 L549.7 314.1 L550.7 310.7 L551.7 310.5 L552.6 307.8 L553.6 306 L554.1 305.1 L554.7 302.8 L555.2 300.3 L555.7 299.4 L556.2 298.3 L556.8 295.8 L557.3 296.1 L557.8 293.9 L558.4 292.2 L558.9 290.9 L560.5 290.1 L562.1 290 L562.5 286.1 L563 285.2 L563.4 284.8 L563.9 283.3 L564.3 281.5 L564.8 278.8 L565.2 277.9 L565.7 276 L566.1 274.8 L566.6 272.3 L567 270.9 L568.9 270 L570.7 267.7 L571.7 268.2 L572.7 266.8 L573.7 264.4 L574.7 263.5 L575.7 262.7 L576.7 261.4 L577.8 259.4 L578.8 258.5 L579.8 256.5 L580.9 254.5 L581.9 255.4 L584 256.9 L586 257.7 L588.1 258.5 L588.7 256.6 L589.2 252.7 L589.8 250.2 L590.3 249.6 L590.9 247.1 L591.5 245.1 L592 243.6 L592.6 242.4 L593.1 239.5 L593.7 238.3 L595.2 240.6 L596.8 240.3 L597.5 243.6 L598.3 245.8 L599 246.2 L599.8 249.5 L600.5 250.7 L601.4 249 L602.2 248.4 L603.1 243.6 L603.9 242.6 L604.8 242.3 L605.3 244.9 L605.9 245.8 L606.4 246.8 L606.9 247.6 L607.5 249.2 L608 250.3 L608.5 250.2 L609 252.5 L609.6 254.2 L610.1 256.1 L611.7 256.3 L613.3 256.2 L614.9 256.6 L615.9 258.1 L616.9 259.3 L617.9 260.3 L618.9 261.8 L619.9 263.1 L620.9 264.6 L621.5 264.3 L622.1 262.4 L622.7 260 L623.3 256.4 L623.9 254.2 L624.5 250.9 L625.1 251.7 L625.5 251.6 L625.9 249.4 L626.3 247.3 L626.7 246.3 L627 245 L627.4 241.5 L627.8 240 L628.2 238.4 L628.6 235.9 L629.5 236.4 L630.4 235.4 L631.3 233 L632.2 231.5 L632.5 229.4 L632.9 227.4 L633.2 225.7 L633.6 225.3 L633.9 223.4 L634.3 221.1 L634.6 218.9 L635.1 218 L635.6 215.7 L636 213.1 L636.5 212.3 L637 212.7 L637.5 210.1 L638 208.8 L638.4 207.1 L638.9 206.7 L639.4 205.1 L640.3 204.8 L641.3 208 L642.2 208.7 L643.2 208.9 L644.1 210 L645.9 209.8 L647.7 210.3 L648.1 211.4 L648.6 212.3 L649 215.4 L649.4 218.1 L649.9 218.6 L650.3 220.1 L650.8 221.9 L651.2 223 L651.6 223.8 L652.1 226.8 L652.5 227.3 L652.9 227.5 L653.3 230.6 L653.7 233.5 L654.1 235.5 L654.5 235.9 L654.9 237.3 L655.3 238 L655.7 239.6 L656.1 239.5 L657.9 241.2 L659.7 244.7 L660.6 245.3 L661.5 249 L662.3 250.3 L663.2 249.9 L663.9 249.9 L664.6 247.6 L665.3 247 L665.9 245.3 L666.6 243.6 L667.3 242.2 L668 239.7 L669.2 240.8 L670.4 242.3 L671.6 245.7 L672.8 245.9 L674 247.4 L674.5 249.2 L675.1 251.6 L675.6 252.4 L676.2 253.8 L676.7 254.3 L677.3 258.5 L677.8 257.8 L678.4 259.7 L678.9 260.9 L679.5 262.7 L680 263.8 L680.6 265.2 L681.1 267.9 L681.3 270.2 L681.6 271.3 L681.8 272.6 L682.1 274.4 L682.3 275.8 L682.5 277.9 L682.8 280 L683 281.7 L683.3 281.5 L683.5 283.5 L683.7 284.5 L684 287.1 L684.2 288.7 L684.5 290.8 L684.7 292.4 L685.4 294.7 L686.1 297 L686.9 297.8 L687.6 297.4 L688.3 299.2 L688.8 302.9 L689.3 303.3 L689.9 304.8 L690.4 308.7 L690.9 311 L691.5 312 L692 313 L692.5 312.9 L693.1 312.8 L693.7 311.3 L694.4 307.4 L695 305.8 L695.6 304.5" stroke="#1a4a74"/>
<path d="M118 276 L119 275.5 L119.9 274.1 L120.9 272.6 L121.9 272.5 L122.9 271 L123.8 269.3 L124.8 269.6 L126.5 269.7 L128.1 269.6 L129.8 270.1 L131.2 271.4 L132.6 273.7 L134 275.6 L135.5 277.4 L136.9 279.5 L138.3 281 L139.7 281.4 L141.1 280.7 L142.5 279.2 L143.9 276.9 L145.4 276.4 L146.8 275.1 L148.2 273.6 L149.6 274.4 L150.9 275.3 L152.1 275.1 L153.4 275.8 L154.6 276.6 L155.9 274.1 L157.1 273.1 L158.4 271.9 L159.6 270.6 L160.5 272 L161.4 272.4 L162.3 273.3 L163.1 274.8 L164 276 L164.9 278.4 L165.8 281 L167.4 280.2 L168.9 281.4 L170.4 281 L172 281.5 L173.1 283.1 L174.1 284.9 L175.2 286.1 L176.2 285.4 L177.3 289.3 L178.3 290.5 L179.4 291.5 L180.3 291.2 L181.3 289.2 L182.2 286.8 L183.2 286.7 L184.1 285.9 L185 283.8 L186 283.5 L186.9 282.4 L188.1 279.5 L189.4 279.9 L190.6 278.1 L191.8 275.1 L192.5 274.2 L193.2 272.7 L194 271.9 L194.7 268.7 L195.4 268.4 L196.2 267.5 L196.9 266 L197.6 264.5 L198.3 263.6 L199.1 261.8 L199.8 259.6 L200.5 256.8 L201.7 259.6 L203 261.7 L204.2 262.9 L205.6 263.6 L207.1 265 L208.6 263.2 L210 265.3 L210.9 264.7 L211.8 267.6 L212.8 270.6 L213.7 273.7 L214.6 273.9 L215.6 275.5 L216.5 276.6 L217.4 275.9 L219.1 277.5 L220.7 277.7 L222.4 277.9 L224.1 277.2 L225.7 277.7 L227.4 278.1 L228.3 280.7 L229.2 281.8 L230.2 285.9 L231.1 285.2 L232 285.5 L233 286.5 L233.9 286.9 L234.8 289.9 L236.5 290 L238.3 288.3 L240 288.6 L241.8 289.7 L243.5 288 L244.2 286.9 L245 285.2 L245.7 285.9 L246.5 283.8 L247.2 281.2 L247.8 279 L248.3 279.3 L248.9 276.7 L249.4 277 L250 273 L250.5 271.4 L251.1 269.8 L251.6 267.8 L252.2 266.4 L253.6 266.6 L255 265.1 L256.4 263.2 L257.8 264.4 L258.8 266.9 L259.7 266.9 L260.7 268.4 L261.7 267.2 L262.7 270.4 L263.6 270.6 L264.6 272.1 L265.5 276 L266.3 275.6 L267.2 277.2 L268.1 277.7 L269 277.9 L269.8 279.2 L270.7 281.9 L271.6 282.5 L272.4 284.1 L273.3 286.8 L275.1 287.2 L277 286.6 L278.9 289 L280.7 289.3 L281.9 291.7 L283.2 291.4 L284.4 294.3 L285.7 293.8 L286.9 293.7 L288.2 295.5 L289.4 296.8 L290.7 298.6 L291.9 299.3 L293.1 301.2 L294.4 303.4 L295.6 303.2 L296.9 300.2 L298.1 298.7 L299.4 298.3 L300 297.5 L300.6 295.3 L301.2 292.8 L301.9 291.7 L302.5 291.3 L303.1 288.9 L303.7 288.7 L304.9 290 L306.1 291.5 L307.8 291.4 L309.4 293.6 L311.1 294 L312.8 293.5 L314.4 296 L316.1 296.7 L317 299.3 L317.8 300.6 L318.7 301.3 L319.5 303 L320.4 304.1 L321.1 301.8 L321.9 300.5 L322.6 299.7 L323.4 297.9 L324.1 295.9 L324.8 293.8 L325.6 292.9 L326.3 291.4 L327 290.6 L327.8 288.8 L328.5 288.8 L329.3 284.6 L330 283 L330.7 282 L331.5 281 L332.2 277.6 L333.4 275.6 L334.7 275 L335.9 275.2 L337.1 274.7 L338.4 271.5 L339.6 270.7 L340.6 273.5 L341.5 274.6 L342.4 275 L343.4 276.2 L345.2 275.1 L347.1 276.7 L348.9 276 L350.8 275.4 L352.5 275.5 L354.1 276.4 L355.8 276.6 L356.3 274.6 L356.8 273.6 L357.4 272.1 L357.9 271.2 L358.4 269.7 L358.9 269 L359.4 266.8 L359.9 265.2 L360.4 263.5 L361 260.8 L361.5 260.5 L362 257.9 L363.2 257.9 L364.5 261.2 L365.7 263.1 L366.9 261 L368.2 260.6 L369.4 259.9 L370.9 260.9 L372.5 260.1 L373.1 262 L373.6 262.7 L374.1 264.2 L374.7 265.8 L375.2 267.2 L375.8 269.9 L376.3 271 L376.9 273.6 L378.4 274.6 L380 274.9 L381.6 276.2 L383.1 277.8 L383.9 280.1 L384.6 280.8 L385.4 283.7 L386.2 284.9 L387.6 284.1 L389 280.7 L390.4 278.6 L391.8 278.9 L392.9 279.9 L393.9 281.7 L395 284 L396 283.5 L397.1 285.6 L398.1 288.8 L399.2 290.1 L400.2 290.7 L401.2 292 L402.3 292.8 L403.3 294.5 L404.3 296.4 L405.2 297.1 L406.2 299 L407.2 300.6 L408.1 302.6 L409.5 302 L411 299.6 L412.4 299.9 L413.2 298.7 L414.1 295.6 L414.9 293.9 L415.7 291.2 L416.6 290.1 L417.4 289.4 L419.2 288.8 L421.1 289 L422.9 289.1 L424.8 289.5 L425.6 290.9 L426.5 292.1 L427.3 294.9 L428.1 296.3 L429 297.2 L429.8 300 L430.4 300.9 L431 303.4 L431.6 303.6 L432.2 306.7 L432.9 307.5 L433.5 308.2 L434.1 310.4 L434.7 310.8 L436.3 311.2 L437.9 312.9 L439.4 313.6 L441 315.1 L442.6 316.2 L444.1 317.3 L445.6 318.2 L447.2 319.7 L448.8 318.9 L450.5 319.3 L452.1 319.2 L453.4 315.6 L454.6 313.4 L455.9 314.6 L457.1 313 L458.3 312.2 L459.6 310.9 L460.8 310.1 L462 310.9 L463.3 308.1 L464.5 306.8 L466.2 307.7 L467.8 307.7 L469.5 308.3 L471.1 309.9 L472.6 311.5 L474.1 313.4 L475.7 312.8 L476.7 313.7 L477.7 317.7 L478.7 319 L479.7 321.2 L480.7 322 L481.3 322.9 L481.8 326.7 L482.4 326.5 L483 327.3 L483.5 330 L484.1 331.5 L484.6 331.6 L485.2 334 L485.8 336.5 L486.3 336.6 L486.9 338.2 L488.4 340.6 L489.9 343.4 L491.3 341.6 L492.8 342.6 L494.3 344.3 L495.1 342.3 L495.9 340.6 L496.7 339.4 L497.5 339 L498.3 336.7 L499.1 336.5 L499.9 335.7 L500.7 334.7 L501.5 334.1 L502.3 331.3 L503.1 329.6 L503.9 329 L505.3 328.5 L506.6 327.5 L508 325.2 L509.4 323.4 L510.9 323.1 L512.4 324.1 L513.9 324.6 L515.2 325.7 L516.5 326.9 L517.8 329.1 L518.6 331.3 L519.5 332.3 L520.3 332.6 L521.8 332.1 L523.3 331.8 L524.8 331.7 L526.5 331 L528.1 331 L529.8 329.4 L531.5 329.5 L533.2 329.4 L535 328.1 L536.7 326.8 L537.2 329.9 L537.7 330.4 L538.2 333 L538.7 334.3 L539.2 335.8 L539.7 337.5 L540.4 339.2 L541 341.5 L541.7 345.3 L543.7 345.5 L545.7 343.9 L546.5 342.2 L547.4 340.9 L548.2 338.2 L549 338.1 L549.9 335.6 L550.7 334 L552.2 334.1 L553.6 334.7 L554.2 332.6 L554.7 331.1 L555.3 330.9 L555.9 328.9 L556.5 328.1 L557 325.7 L557.6 323.1 L558.2 322.1 L558.7 320.3 L559.3 317.5 L559.8 316.8 L560.4 316.7 L560.9 314.8 L561.5 312.1 L562 310.3 L562.6 308.2 L563.6 310 L564.6 311 L565.6 312.8 L566.6 314.6 L566.9 314.4 L567.2 311.3 L567.5 308.1 L567.9 308.9 L568.2 307.6 L568.5 305.4 L568.8 304.3 L569.1 301.6 L569.4 300 L569.8 299.3 L570.1 297.3 L570.4 295.9 L570.7 294.7 L571.7 293.1 L572.7 291.2 L573.7 290.2 L574.7 289.7 L575.7 288.7 L577.5 286.4 L579.4 286.4 L579.7 282.7 L580.1 280.4 L580.4 280.1 L580.8 279.3 L581.1 278.9 L581.5 275.2 L581.8 275 L582.2 272.6 L582.5 270.7 L583.4 272.7 L584.3 275.3 L585.1 275.2 L586 275.1 L586.9 276.6 L587.6 278.7 L588.3 281.7 L589 283.3 L589.7 284.2 L590.3 285.3 L591 286.6 L591.7 289.2 L592.4 289 L593.1 290.5 L594.3 289 L595.5 289.5 L596.8 288.2 L598 286.3 L599.4 286.2 L600.7 286.7 L602.1 285.8 L603.4 282.7 L604.8 281.5 L605.3 281 L605.9 277.4 L606.4 275.2 L606.9 273.9 L607.5 273.4 L608 271.1 L608.6 270 L609.1 268.4 L609.6 267.2 L610.2 264.5 L610.7 261.3 L612.3 260.1 L613.9 261.4 L615.5 262.6 L616.5 264.5 L617.4 264.3 L618.4 264.7 L619.3 266.9 L620.3 268.2 L621.3 268.7 L622.2 270.8 L623.2 272.3 L624.1 274.4 L625.1 276.7 L625.5 278.5 L625.8 280.3 L626.2 282.2 L626.5 283.4 L626.9 284.5 L627.3 285.8 L627.6 288.7 L628 289.6 L628.4 291.8 L628.7 294.5 L629.1 296.8 L629.4 295.2 L629.8 297.1 L630.4 299.7 L631 300.5 L631.6 301.5 L632.2 302.1 L632.9 303.8 L633.5 306.1 L634.1 306.4 L634.7 308.9 L635.4 310.3 L636.1 312.5 L636.8 313.4 L637.5 315.7 L638.2 317.7 L638.9 318.8 L639.6 320.1 L640.3 322.9 L641.4 321.9 L642.5 319.5 L643.7 318.6 L644.8 316 L645.3 314.3 L645.8 310.5 L646.3 309.8 L646.7 309.9 L647.2 308.1 L647.7 307.3 L648.2 305.1 L650.5 305.1 L652.7 304.4 L653.4 305.2 L654.1 309 L654.7 309.3 L655.4 309.6 L656.1 311.9 L657.5 314 L658.9 315.6 L660.3 316.7 L661.7 318.5 L662.1 320.8 L662.5 322.6 L662.9 322.5 L663.2 326 L663.6 327.2 L664 326.7 L664.2 329.8 L664.5 331.3 L664.7 333.2 L665 336.6 L665.2 336.8 L665.5 337.7 L665.7 338.5 L665.9 340.7 L666.2 343.1 L666.4 344.9 L666.7 346.4 L666.9 345.9 L667.2 348.5 L667.4 351.4 L667.6 352.3 L667.9 353.5 L668.1 354.4 L668.3 356.7 L668.6 357.1 L668.8 361.2 L669 362.2 L669.3 363.2 L669.5 363.8 L669.7 366.5 L670 369.1 L670.2 369.8 L670.5 371.6 L670.8 373.5 L671.1 375.8 L671.5 377.5 L671.8 379.7 L672.1 379.3 L672.4 383.4 L672.6 383.6 L672.8 383.9 L672.9 384.9 L673.1 387.4 L673.3 389.9 L673.5 393.4 L673.7 395 L673.8 394.8 L674 395.9 L674.2 397 L674.4 398.3 L674.6 400.1 L674.8 401.4 L674.9 404.5 L675.1 406.1 L675.3 408 L676 409.1 L676.6 409.4 L677.3 411.8 L677.9 413.1 L678.6 416.6 L679.9 415.9 L681.3 412.8 L682.6 410.7 L684.3 411.8 L684.6 410.5 L685 410.3 L685.3 408.3 L685.7 407 L686 404.9 L686.3 403.2 L686.7 402.8 L687 400.8 L687.4 400.7 L687.7 398.1 L687.9 396.3 L688.2 394.5 L688.4 393 L688.7 392.6 L688.9 389.2 L689.2 386.8 L689.4 384.3 L689.6 384.6 L689.9 382.8 L690.1 381.1 L690.4 379.4 L690.6 375.6 L690.9 375.1 L691.1 373.5 L691.7 372 L692.2 370.2 L692.8 368.3 L693.4 366.6 L693.9 364.4 L694.5 362.7 L695 361.8 L695.6 358.1 L695.9 358 L696.2 357.1 L696.5 355" stroke="#3a86c2"/>
<path d="M118 296.1 L119.4 295.9 L120.7 295.9 L122.1 294.2 L123.4 292 L124.8 291.5 L126.3 292.8 L127.9 294.3 L129.4 293.3 L131 292.9 L132.5 294.8 L134.1 295.8 L135.6 297.6 L137.2 298.3 L138.8 297.9 L140.3 297.8 L141.8 300.4 L143.4 299.5 L144.9 298.8 L146.5 298.3 L148 299.3 L149.6 300.1 L151.3 299.3 L152.9 298.8 L154.6 298.5 L156.3 298.5 L157.9 298.6 L159.6 297.5 L161.2 295.9 L162.9 297.5 L164.6 296.6 L166.2 297.4 L167.8 296.9 L169.5 298.1 L171.2 298.1 L172.8 299 L174.4 302.4 L176.1 301.3 L177.8 301.7 L179.4 300 L181.1 300.3 L182.7 301.5 L184.4 301.7 L186.1 302.4 L187.7 302.7 L189.4 302.1 L191.1 303.4 L192.8 303.1 L194.6 305.6 L196.3 305.1 L198 306.1 L198.9 307.3 L199.8 309.6 L200.7 310.1 L201.5 312.6 L202.4 313.6 L203.3 316.2 L204.2 317.7 L205 318.6 L205.9 318.9 L206.7 321.1 L207.5 322.7 L208.4 325.2 L209.2 325.4 L210 327 L210.9 328.5 L211.7 329.7 L213.2 330.4 L214.8 331.2 L216.3 331.4 L217.8 331.5 L219.3 332.5 L220.9 334.4 L222.4 336.7 L224.5 336.5 L226.5 336.3 L228.6 335.7 L229.8 334.5 L231.1 332.9 L232.3 332.1 L233.6 332.1 L234.8 329.7 L236.1 327.6 L237.3 328.3 L238.7 326.8 L240.1 326.2 L241.5 325.4 L242.9 322.7 L244.3 324 L245.7 323.7 L247.1 321.7 L248.5 320.7 L250.2 320.1 L252 318.9 L253.7 318.9 L255.5 319.3 L257.2 320.2 L258.3 319.1 L259.4 317.4 L260.4 317 L261.5 314.4 L262.6 313.7 L263.6 313.1 L264.7 311 L265.8 307.9 L267.1 306.6 L268.3 306.5 L269.6 306.2 L270.8 306.5 L272.1 303.9 L273.3 302.9 L273.8 305.1 L274.4 306.2 L274.9 305.5 L275.5 308.7 L276 312.4 L276.5 314 L277.1 313.8 L277.6 314.9 L278.1 316.7 L278.7 320.4 L279.2 321.5 L279.8 322.3 L280.3 324.7 L280.9 325.3 L281.4 328.1 L282 328.1 L282.5 329 L283.1 331.3 L283.7 333.9 L284.2 335.3 L284.8 336.5 L285.4 336 L285.9 337.4 L286.5 339 L287 340.7 L287.6 343.3 L288.2 344.6 L288.8 347 L289.5 348.4 L290.1 349.5 L290.7 351.2 L291.3 353.1 L291.9 355.2 L292.6 355.9 L293.2 357.2 L293.8 357.6 L294.4 358.1 L295 357.5 L295.7 355 L296.3 352.7 L296.9 350 L297.5 349.1 L298.1 348 L298.8 348.4 L299.4 346.2 L300 343.4 L300.3 339.6 L300.5 340.2 L300.8 338.8 L301 335.6 L301.3 334.8 L301.5 332 L301.8 334.3 L302.1 332.7 L302.3 330.6 L302.6 328.1 L302.8 324.2 L303.1 323.1 L303.3 320.5 L303.6 320.3 L303.8 317 L304.1 315.6 L304.3 315.9 L304.6 315.8 L304.8 312.4 L305.1 309.5 L305.3 309.3 L305.6 308.5 L305.8 305.6 L306.1 303.5 L306.3 301.7 L306.6 299.4 L306.8 297.9 L307.1 298.1 L307.3 297 L307.6 296.8 L307.8 294.1 L308.1 291.8 L308.3 289 L308.9 287.6 L309.4 285 L310 282.4 L310.6 282.5 L311.1 282.5 L311.7 281.3 L312.3 280.3 L312.8 278.1 L313.4 275.3 L314.8 276.3 L316.2 277 L317.6 277.1 L318.2 277.8 L318.8 279 L319.4 281.8 L319.9 284.1 L320.5 285.6 L321.1 288.8 L321.7 290.2 L322.2 292 L322.7 294.3 L323.2 294.4 L323.8 294.1 L324.3 297.1 L324.8 298.2 L325.3 301.3 L325.8 302.8 L326.3 304.9 L326.9 306.6 L327.4 305.6 L327.9 308.3 L329.9 306.7 L332 305.2 L332.9 303.8 L333.8 303.4 L334.7 302.6 L335.6 301.7 L336.5 298 L337.4 296.4 L338.3 293.2 L339.9 294.8 L341.4 296.5 L342.9 296.5 L344.5 297.6 L345.2 299.6 L345.9 302.1 L346.6 302.5 L347.3 303.5 L347.9 304.8 L348.6 308.5 L349.3 310.7 L350 311.5 L350.7 313 L351.3 314.5 L351.9 316.1 L352.5 317.3 L353 318.6 L353.6 319.3 L354.2 320.9 L354.8 324.6 L355.7 323.2 L356.5 321.3 L357.4 319.3 L358.3 317.7 L359.1 316.4 L360 314.1 L360.9 313.1 L361.7 311.9 L362.6 309.8 L363.4 307.9 L364.2 306.1 L365.1 304.4 L365.8 304.5 L366.5 301 L367.2 300.3 L367.9 298.9 L368.6 297.5 L369.3 296.7 L370 296.5 L371.1 297.7 L372.2 298.8 L373.4 299.7 L374.5 301.3 L375.6 303.7 L377.3 303.8 L379.1 303.6 L380.8 303.7 L382.6 304.2 L384.3 304.6 L385.6 307.8 L386.8 309.5 L388.1 310.5 L389.3 313 L389.9 310.2 L390.5 309.2 L391.1 308 L391.8 304.4 L392.4 301.7 L393 300.1 L393.6 303.3 L394.1 306.1 L394.7 306.1 L395.3 308.9 L395.8 309.8 L396.4 311 L396.9 312.3 L397.5 313.9 L398.1 314.1 L398.6 315.7 L399.2 317.1 L400.2 320 L401.2 323.6 L402.2 326.9 L403.2 326.6 L404.2 325.8 L405.2 327.2 L406.2 328.1 L407.4 332 L408.7 333.6 L409.9 334 L411.2 336.4 L412.4 335.3 L413.6 332.1 L414.9 330.8 L416.1 329.8 L417.4 328.9 L418.6 328 L419.9 326.5 L421.1 325.6 L421.7 326.7 L422.2 327.8 L422.8 331.3 L423.3 333 L423.9 334.7 L424.4 334.5 L425 336.5 L425.5 339.2 L426.1 339.5 L427.1 342.4 L428.2 343.3 L429.2 345.2 L430.2 346.3 L431.3 348 L432.3 350.4 L432.9 351.1 L433.5 354 L434.2 354.2 L434.8 354.9 L435.4 357.5 L436 358 L436.6 359.7 L437.3 362.5 L437.9 365 L438.5 364.4 L440.4 364.7 L442.2 365.8 L443.3 364.5 L444.4 361.9 L445.4 359.4 L446.5 357.6 L447.6 358.2 L448.7 360.1 L449.8 361.9 L450.9 363.6 L451.4 366.5 L452 367.5 L452.5 367.7 L453 370.8 L453.5 371.3 L454.1 372.8 L454.6 374.7 L455.1 376.2 L455.7 377.2 L456.2 379.1 L456.7 383.1 L457.2 383.5 L457.8 384.8 L458.3 387.4 L458.8 389.2 L459.3 390.9 L459.9 392.6 L460.4 391.7 L460.9 392.9 L461.4 395.2 L461.9 397.4 L462.4 400.1 L462.9 401.5 L463.5 402.4 L464 403.8 L464.5 405 L466.2 404 L467.8 403.3 L469.5 401.4 L470.1 399 L470.6 396.8 L471.2 396.7 L471.7 396 L472.3 394.7 L472.8 393 L473.4 391.4 L473.9 389 L474.5 387.5 L475 384.4 L475.6 382.7 L476.1 380.6 L476.7 380 L477.2 377.7 L477.8 376.1 L478.3 375 L478.9 374.5 L479.4 371.5 L480 369 L480.5 368.5 L481.1 365.7 L481.6 364.9 L482.2 362.7 L482.7 361.2 L483.3 358.1 L483.8 358 L484.4 356 L486.3 354.5 L488.1 355.9 L490 355 L491.7 358.2 L493.3 357.5 L495 356.8 L496.2 357.4 L497.5 359.5 L498.8 359.7 L500 360.6 L500.6 359.2 L501.3 356.4 L501.9 355.2 L502.6 353.2 L503.2 350.8 L503.9 350.7 L504.6 349.8 L505.4 348.1 L506.1 345.7 L506.9 342.6 L507.6 342.5 L508.4 341.3 L509.6 341.6 L510.7 344 L511.9 344.8 L512.5 343.8 L513.1 342.7 L513.7 341.4 L514.3 339.8 L514.9 338.1 L515.6 338.7 L516.3 340.4 L517.1 342.1 L517.8 344 L518.1 346.2 L518.4 348.6 L518.7 351.5 L519 350.1 L519.3 352.8 L519.6 354.5 L519.9 358.4 L520.2 360.1 L520.5 359.5 L520.8 361.8 L521 362.9 L521.2 365.5 L521.4 365.9 L521.6 367.6 L521.8 369.3 L522 371 L522.2 372.2 L522.4 372.4 L522.6 375.3 L522.8 378.1 L523 379.5 L523.3 380.1 L523.5 382.3 L523.8 384.6 L524 385.9 L524.3 387.5 L525.3 390.1 L526.3 389.9 L527.3 390.8 L529 389.9 L530.8 390.7 L531.4 392.6 L531.9 394.1 L532.5 396 L533 400 L533.6 401.2 L534.1 402.7 L534.7 406.4 L535.3 407.1 L535.8 406.8 L536.4 409.3 L537 410.3 L537.6 413.9 L538.1 414 L538.7 415.5 L540 412.7 L541.2 411.9 L541.9 413.1 L542.6 415.4 L543.3 417.1 L544 418.6 L544.7 421.6 L545 424 L545.3 425.3 L545.6 426 L545.8 426.9 L546.1 429.4 L546.4 433.5 L546.7 433.9 L548.5 432.2 L550.2 431.8" stroke="#9cc8e8"/>
</g>
<line x1="101.9" y1="389.1" x2="697" y2="389.1" stroke="#111" stroke-width="2.9" stroke-dasharray="9.4 4.724"/>
<g stroke="#111" stroke-width="2" fill="none">
<path d="M102.1 80 V473 M96 466.8 H697"/>
</g><g stroke="#111" stroke-width="1.6" fill="none">
<path d="M96 80.3 H102.1"/>
<path d="M96 176.7 H102.1"/>
<path d="M96 273.3 H102.1"/>
<path d="M96 369.7 H102.1"/>
<path d="M300 466 V473"/>
<path d="M498.5 466 V473"/>
<path d="M697 466 V473"/>
</g>
<g font-size="22.5" fill="#1a1a1a" text-anchor="end">
<text transform="translate(89.2 89.3) scale(0.955 1.05)">20</text>
<text transform="translate(89.2 185.7) scale(0.955 1.05)">15</text>
<text transform="translate(89.2 282.3) scale(0.955 1.05)">10</text>
<text transform="translate(89.2 378.7) scale(0.955 1.05)">5</text>
<text transform="translate(89.2 475) scale(0.955 1.05)">0</text>
</g>
<g font-size="22.5" fill="#1a1a1a" text-anchor="middle">
<text transform="translate(102 495.2) scale(0.92 1.03)">0</text>
<text transform="translate(300 495.2) scale(0.92 1.03)">3</text>
<text transform="translate(498.5 495.2) scale(0.92 1.03)">6</text>
<text transform="translate(697 495.2) scale(0.92 1.03)">9</text>
</g>
<text x="399.2" y="526.2" font-size="28.8" fill="#1a1a1a" text-anchor="middle">Time (min)</text>
<text transform="translate(50.6 273) rotate(-90)" font-size="28.5" fill="#1a1a1a" text-anchor="middle">Mean speed (mm/s)</text>
<circle cx="757.9" cy="50.7" r="8.5" fill="#4585b8" stroke="#3a78ab" stroke-width="0.8"/>
<circle cx="757.9" cy="78.4" r="8.5" fill="#a4c8e6" stroke="#9cc2e2" stroke-width="0.8"/>
<circle cx="757.9" cy="106" r="8.5" fill="#22486a" stroke="#173a5c" stroke-width="0.8"/>
<g font-size="23.4" fill="#1a1a1a">
<text x="773.7" y="59.5">Parental Control 1</text>
<text x="773.7" y="87">Parental Control 2</text>
<text x="773.7" y="114.6"><tspan font-style="italic">70A09</tspan> activation</text>
</g>
<text x="4.5" y="602.7" font-size="40" font-weight="bold" fill="#1a1a1a">b</text>
<text x="484" y="602.5" font-size="40" font-weight="bold" fill="#1a1a1a">c</text>
<g stroke="#111" stroke-width="1.7" fill="none"><path d="M115.2 637.5 V1047.7"/>
<path d="M109 637.5 H115.2"/>
<path d="M109 705.9 H115.2"/>
<path d="M109 774.2 H115.2"/>
<path d="M109 842.6 H115.2"/>
<path d="M109 911 H115.2"/>
<path d="M109 979.3 H115.2"/>
<path d="M109 1047.7 H115.2"/>
</g><g font-size="23" fill="#1a1a1a" text-anchor="end">
<text x="102" y="646.8">15</text>
<text x="102" y="715.2">10</text>
<text x="102" y="783.5">5</text>
<text x="102" y="851.9">0</text>
<text x="102" y="920.3">-5</text>
<text x="102" y="988.6">-10</text>
<text x="102" y="1057">-15</text>
</g>
<g stroke="#111" stroke-width="1.7" fill="none"><path d="M596.7 637.5 V1047.7"/>
<path d="M590.5 637.5 H596.7"/>
<path d="M590.5 705.9 H596.7"/>
<path d="M590.5 774.2 H596.7"/>
<path d="M590.5 842.6 H596.7"/>
<path d="M590.5 911 H596.7"/>
<path d="M590.5 979.3 H596.7"/>
<path d="M590.5 1047.7 H596.7"/>
</g><g font-size="23" fill="#1a1a1a" text-anchor="end">
<text x="583.5" y="646.8">15</text>
<text x="583.5" y="715.2">10</text>
<text x="583.5" y="783.5">5</text>
<text x="583.5" y="851.9">0</text>
<text x="583.5" y="920.3">-5</text>
<text x="583.5" y="988.6">-10</text>
<text x="583.5" y="1057">-15</text>
</g>
<text transform="translate(51.7 844) rotate(-90)" font-size="30.2" fill="#1a1a1a" text-anchor="middle">Delta mean speed (mm/s)</text>
<text transform="translate(533.4 842.5) rotate(-90)" font-size="30.3" fill="#1a1a1a" text-anchor="middle">Delta mean speed (mm/s)</text>
<g stroke="#111" stroke-width="2.2" fill="none"><path d="M168.2 806.3 V845.4 M168.2 882.4 V921.2"/><path d="M154.3 806.3 H182.1 M154.3 921.2 H182.1"/><rect x="141.5" y="845.4" width="53.4" height="37"/><path d="M141.5 862.3 H194.9"/></g>
<g stroke="#111" stroke-width="2.2" fill="none"><path d="M273.4 826.4 V836.4 M273.4 862.6 V884.5"/><path d="M259.7 826.4 H287.1 M259.7 884.5 H287.1"/><rect x="247" y="836.4" width="52.8" height="26.2"/><path d="M247 853.8 H299.8"/></g>
<g stroke="#111" stroke-width="2.2" fill="none"><path d="M378.7 846.1 V907.1 M378.7 962.2 V1003.8"/><path d="M364.7 846.1 H392.7 M364.7 1003.8 H392.7"/><rect x="352.2" y="907.1" width="53" height="55.1"/><path d="M352.2 922 H405.2"/></g>
<g stroke="#111" stroke-width="2.2" fill="none"><path d="M649.4 746.1 V825.6 M649.4 883.8 V948.9"/><path d="M635.5 746.1 H663.3 M635.5 948.9 H663.3"/><rect x="622.8" y="825.6" width="53.2" height="58.2"/><path d="M622.8 858.1 H676"/></g>
<g fill="#468ecc" fill-opacity="0.81"><circle cx="168.1" cy="806.3" r="4.8"/><circle cx="168.1" cy="831.1" r="4.8"/><circle cx="158.4" cy="838.2" r="4.8"/><circle cx="168.3" cy="839.3" r="4.8"/><circle cx="171.3" cy="845.4" r="4.8"/><circle cx="162.4" cy="847.2" r="4.8"/><circle cx="168.3" cy="851.6" r="4.8"/><circle cx="158.8" cy="857" r="4.8"/><circle cx="168.3" cy="858.8" r="4.8"/><circle cx="159.4" cy="865.7" r="4.8"/><circle cx="176.3" cy="865.7" r="4.8"/><circle cx="168.3" cy="868.3" r="4.8"/><circle cx="158.2" cy="882.4" r="4.8"/><circle cx="168.3" cy="883.6" r="4.8"/><circle cx="177.3" cy="881.8" r="4.8"/><circle cx="168.1" cy="920.8" r="4.8"/><circle cx="168.1" cy="942.9" r="4.8"/><circle cx="168.1" cy="950" r="4.8"/></g>
<g fill="#90bfe4" fill-opacity="0.81"><circle cx="273.4" cy="826.1" r="4.8"/><circle cx="267.2" cy="833.3" r="4.8"/><circle cx="273.4" cy="837.7" r="4.8"/><circle cx="273.4" cy="850.2" r="4.8"/><circle cx="273.4" cy="857.9" r="4.8"/><circle cx="266.9" cy="861.5" r="4.8"/><circle cx="273.4" cy="865.1" r="4.8"/><circle cx="273.4" cy="884.6" r="4.8"/></g>
<g fill="#174d78" fill-opacity="0.81"><circle cx="368.8" cy="780.7" r="4.6"/><circle cx="378.6" cy="780.7" r="4.6"/><circle cx="378.6" cy="846.1" r="4.6"/><circle cx="378.6" cy="890.3" r="4.6"/><circle cx="378.6" cy="899.6" r="4.6"/><circle cx="371.6" cy="903.4" r="4.6"/><circle cx="378.6" cy="907.4" r="4.6"/><circle cx="364.8" cy="915.3" r="4.6"/><circle cx="372.4" cy="917.9" r="4.6"/><circle cx="382.2" cy="916.7" r="4.6"/><circle cx="391.5" cy="915.3" r="4.6"/><circle cx="400.8" cy="913.8" r="4.6"/><circle cx="378.6" cy="922" r="4.6"/><circle cx="378.6" cy="928.5" r="4.6"/><circle cx="378.6" cy="936.7" r="4.6"/><circle cx="371.4" cy="941.2" r="4.6"/><circle cx="378.6" cy="945" r="4.6"/><circle cx="378.6" cy="957" r="4.6"/><circle cx="377" cy="961.2" r="4.6"/><circle cx="368.5" cy="966.7" r="4.6"/><circle cx="378.6" cy="967.1" r="4.6"/><circle cx="378.6" cy="976.4" r="4.6"/><circle cx="378.6" cy="985.5" r="4.6"/><circle cx="378.6" cy="991.9" r="4.6"/><circle cx="378.6" cy="1003.8" r="4.6"/></g>
<g fill="#174d78" fill-opacity="0.81"><circle cx="649.2" cy="746.1" r="4.6"/><circle cx="649.2" cy="794.9" r="4.6"/><circle cx="649.2" cy="811.3" r="4.6"/><circle cx="658.8" cy="821.2" r="4.6"/><circle cx="649.2" cy="821.8" r="4.6"/><circle cx="640.8" cy="824.9" r="4.6"/><circle cx="649.2" cy="828" r="4.6"/><circle cx="649.2" cy="836.5" r="4.6"/><circle cx="639.6" cy="852.8" r="4.6"/><circle cx="649.4" cy="853.8" r="4.6"/><circle cx="658.7" cy="852.2" r="4.6"/><circle cx="649.4" cy="862.9" r="4.6"/><circle cx="658.9" cy="862.9" r="4.6"/><circle cx="640.1" cy="867.2" r="4.6"/><circle cx="649.4" cy="869.3" r="4.6"/><circle cx="649.4" cy="878.1" r="4.6"/><circle cx="649.4" cy="886.7" r="4.6"/><circle cx="647.8" cy="891.8" r="4.6"/><circle cx="639.3" cy="896.7" r="4.6"/><circle cx="649.4" cy="897.4" r="4.6"/><circle cx="649.4" cy="909.1" r="4.6"/><circle cx="649.4" cy="948.9" r="4.6"/></g>
<g stroke="#111" stroke-width="1.8"><path d="M167 743.8 H379.2 M272.7 771.4 H379.2 M167.1 794.6 H274.1"/></g>
<g font-size="28" fill="#1a1a1a" text-anchor="middle">
<text x="275" y="741.6" font-weight="bold" letter-spacing="2.6">**</text><text x="327" y="770.2" font-weight="bold" letter-spacing="2.6">**</text><text x="221" y="792.8">ns</text>
</g>
<g font-size="23" fill="#1a1a1a" text-anchor="middle">
<text x="168.5" y="1078.5">(18)</text><text x="273.4" y="1078.5">(8)</text><text x="378.7" y="1078.5">(25)</text><text x="649.3" y="1078.5">(22)</text>
</g>
<text x="3.5" y="1159.5" font-size="40" font-weight="bold" fill="#1a1a1a">d</text>
<rect x="270.2" y="1216.7" width="165.8" height="219" fill="#ebebeb"/>
<text x="350.4" y="1210.2" font-size="26.4" fill="#d3221b" text-anchor="middle">Activation</text>
<g stroke="#111" fill="none" stroke-width="2">
<rect x="104.5" y="1224.6" width="492.5" height="57.4"/>
<rect x="104.5" y="1296.9" width="492.5" height="58.3"/>
<rect x="104.5" y="1366.3" width="492.5" height="58.3"/>
</g>
<g fill="#468ecc" fill-opacity="0.81"><circle cx="109.4" cy="1253.4" r="4.4"/><circle cx="124.7" cy="1253.4" r="4.4"/><circle cx="131.7" cy="1246.9" r="4.4"/><circle cx="165.3" cy="1253.4" r="4.4"/><circle cx="171.3" cy="1246.1" r="4.4"/><circle cx="176.4" cy="1254.7" r="4.4"/><circle cx="182.3" cy="1246.7" r="4.4"/><circle cx="193" cy="1253.4" r="4.4"/><circle cx="212.1" cy="1253.4" r="4.4"/><circle cx="225" cy="1253.4" r="4.4"/><circle cx="252.5" cy="1253.4" r="4.4"/><circle cx="283.4" cy="1253.4" r="4.4"/><circle cx="312.2" cy="1253.4" r="4.4"/><circle cx="316.5" cy="1244.8" r="4.4"/><circle cx="346.3" cy="1253.4" r="4.4"/><circle cx="378.2" cy="1253.4" r="4.4"/><circle cx="409.4" cy="1253.4" r="4.4"/><circle cx="426.6" cy="1253.4" r="4.4"/><circle cx="449.5" cy="1243.4" r="4.4"/><circle cx="448.7" cy="1253.4" r="4.4"/><circle cx="456.7" cy="1257.4" r="4.4"/><circle cx="471.5" cy="1253.4" r="4.4"/><circle cx="492.5" cy="1253.4" r="4.4"/><circle cx="510" cy="1253.4" r="4.4"/><circle cx="553" cy="1253.4" r="4.4"/><circle cx="584.7" cy="1253.4" r="4.4"/></g>
<g fill="#9ac6ea" fill-opacity="0.78"><circle cx="114.8" cy="1326.5" r="4.4"/><circle cx="120.7" cy="1318.4" r="4.4"/><circle cx="125.5" cy="1326.5" r="4.4"/><circle cx="145.7" cy="1307.6" r="4.4"/><circle cx="142.5" cy="1316.5" r="4.4"/><circle cx="141.7" cy="1326.5" r="4.4"/><circle cx="142.5" cy="1335.3" r="4.4"/><circle cx="165.3" cy="1317.3" r="4.4"/><circle cx="161.8" cy="1326.5" r="4.4"/><circle cx="168" cy="1333.5" r="4.4"/><circle cx="188.2" cy="1316.5" r="4.4"/><circle cx="188.2" cy="1326.5" r="4.4"/><circle cx="196.3" cy="1321.4" r="4.4"/><circle cx="198.4" cy="1330.8" r="4.4"/><circle cx="221.8" cy="1316.5" r="4.4"/><circle cx="221" cy="1326.5" r="4.4"/><circle cx="239.6" cy="1326.5" r="4.4"/><circle cx="253.5" cy="1326.5" r="4.4"/><circle cx="291.7" cy="1326.5" r="4.4"/><circle cx="305.2" cy="1326.5" r="4.4"/><circle cx="315.1" cy="1326.5" r="4.4"/><circle cx="354.2" cy="1326.5" r="4.4"/><circle cx="358.8" cy="1318.2" r="4.4"/><circle cx="388.1" cy="1326.5" r="4.4"/><circle cx="405.3" cy="1326.5" r="4.4"/><circle cx="419.3" cy="1326.5" r="4.4"/><circle cx="464" cy="1326.5" r="4.4"/><circle cx="479.6" cy="1326.5" r="4.4"/></g>
<g fill="#174d78" fill-opacity="0.81"><circle cx="112.1" cy="1399" r="4.4"/><circle cx="150.3" cy="1399" r="4.4"/><circle cx="206.7" cy="1399" r="4.4"/><circle cx="252.7" cy="1399" r="4.4"/><circle cx="261.6" cy="1395" r="4.4"/><circle cx="266.7" cy="1386.9" r="4.4"/><circle cx="261.6" cy="1404.4" r="4.4"/><circle cx="448.9" cy="1399" r="4.4"/><circle cx="455.9" cy="1392.8" r="4.4"/><circle cx="481.2" cy="1399" r="4.4"/><circle cx="490.1" cy="1394.4" r="4.4"/><circle cx="500" cy="1399" r="4.4"/><circle cx="505.7" cy="1390.4" r="4.4"/><circle cx="509.4" cy="1402.2" r="4.4"/></g>
<g stroke="#111" stroke-width="1.7" fill="none"><path d="M104 1436 H602.3"/>
<path d="M104.2 1435.5 V1441.6"/>
<path d="M270.3 1435.5 V1441.6"/>
<path d="M435.7 1435.5 V1441.6"/>
<path d="M602.3 1435.5 V1441.6"/>
</g>
<g font-size="22.5" fill="#1a1a1a" text-anchor="middle">
<text transform="translate(104.2 1465.4) scale(0.94 1.08)">0</text>
<text transform="translate(270.3 1465.4) scale(0.94 1.08)">3</text>
<text transform="translate(435.7 1465.4) scale(0.94 1.08)">6</text>
<text transform="translate(602.3 1465.4) scale(0.94 1.08)">9</text>
</g>
<text x="353.3" y="1497.4" font-size="28.9" fill="#1a1a1a" text-anchor="middle">Time (min)</text>
<text transform="translate(91.5 1328.4) rotate(-90)" font-size="28.9" fill="#1a1a1a" text-anchor="middle">Copulation</text>
<g font-size="19.5" fill="#1a1a1a">
<text x="609" y="1259.8">(26/30)</text><text x="609" y="1332.7">(28/29)</text><text x="609" y="1405.6">(14/31)</text>
</g>
</svg></body></html>
